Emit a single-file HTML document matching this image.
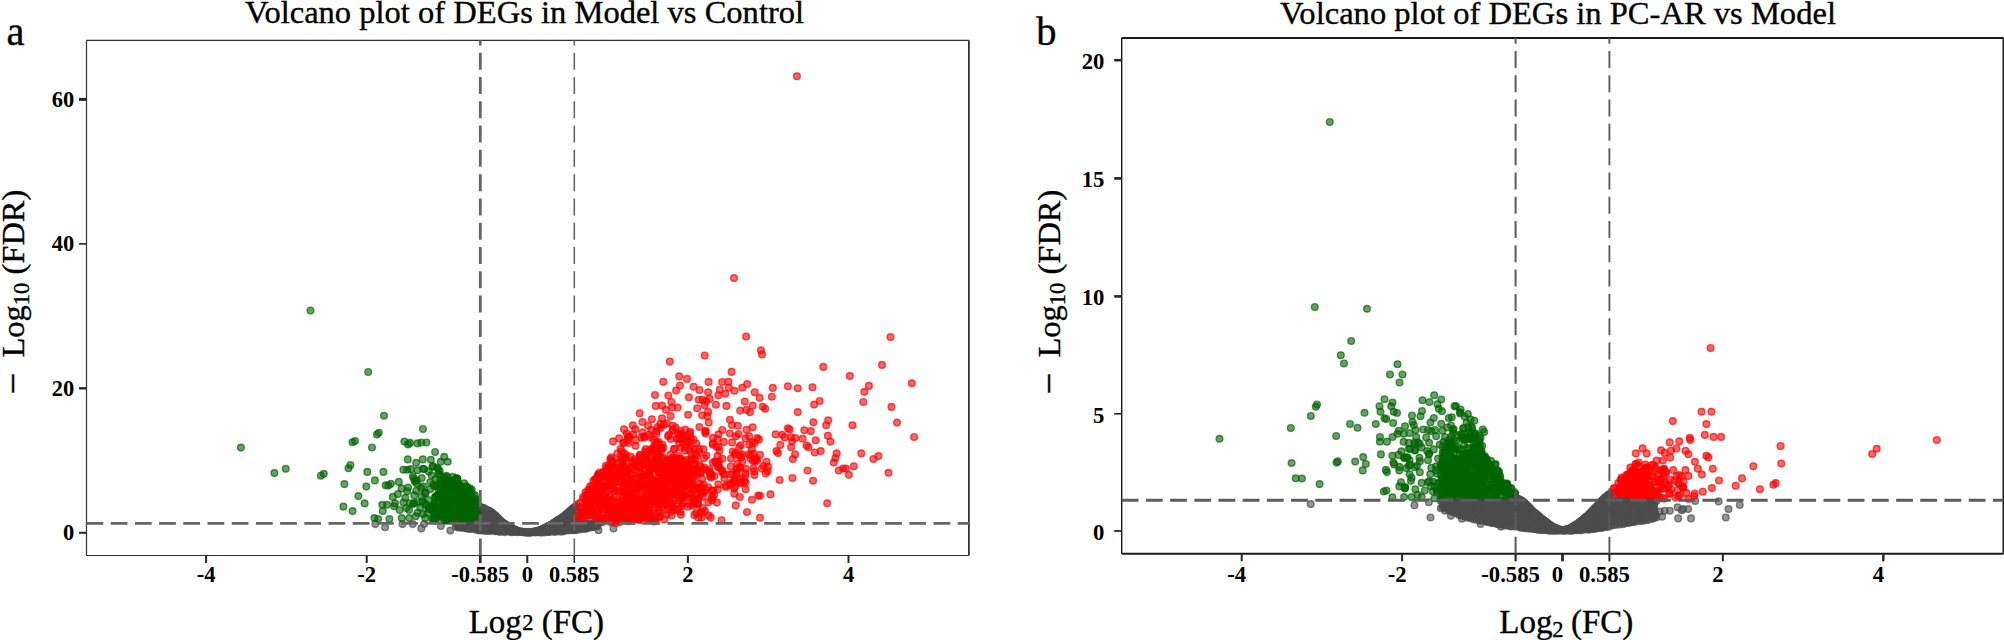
<!DOCTYPE html>
<html lang="en"><head><meta charset="utf-8"><title>Volcano plots of DEGs</title>
<style>
html,body{margin:0;padding:0;background:#fff;}
body{width:2004px;height:640px;overflow:hidden;}
svg{display:block;}
text{font-family:'Liberation Serif', serif;}
.rg{stroke:#000;stroke-width:0.35px;}
</style></head><body>
<svg width="2004" height="640" viewBox="0 0 2004 640">
<rect width="2004" height="640" fill="#fff"/>

<g id="panel-a">
<text class="rg" x="6.5" y="45" font-size="40.5">a</text>
<text class="rg" x="524.6" y="23.3" font-size="32.55" text-anchor="middle" fill="#000">Volcano plot of DEGs in Model vs Control</text>
<g fill="#4d4d4d" stroke="#4d4d4d" stroke-width="1.4" fill-opacity="0.6" stroke-opacity="0.68">
<circle cx="478.6" cy="526.0" r="3.35"/>
<circle cx="466.2" cy="526.0" r="3.35"/>
<circle cx="567.0" cy="514.3" r="3.35"/>
<circle cx="559.6" cy="522.2" r="3.35"/>
<circle cx="507.2" cy="531.3" r="3.35"/>
<circle cx="537.0" cy="531.8" r="3.35"/>
<circle cx="561.5" cy="517.9" r="3.35"/>
<circle cx="553.9" cy="528.3" r="3.35"/>
<circle cx="487.8" cy="510.2" r="3.35"/>
<circle cx="499.1" cy="526.5" r="3.35"/>
<circle cx="489.6" cy="524.0" r="3.35"/>
<circle cx="509.6" cy="527.1" r="3.35"/>
<circle cx="573.1" cy="513.5" r="3.35"/>
<circle cx="485.8" cy="517.4" r="3.35"/>
<circle cx="559.9" cy="524.3" r="3.35"/>
<circle cx="481.4" cy="507.5" r="3.35"/>
<circle cx="486.7" cy="512.1" r="3.35"/>
<circle cx="568.1" cy="517.6" r="3.35"/>
<circle cx="480.0" cy="506.8" r="3.35"/>
<circle cx="568.1" cy="516.5" r="3.35"/>
<circle cx="482.4" cy="524.0" r="3.35"/>
<circle cx="527.5" cy="532.6" r="3.35"/>
<circle cx="465.0" cy="528.1" r="3.35"/>
<circle cx="479.5" cy="523.4" r="3.35"/>
<circle cx="511.8" cy="528.1" r="3.35"/>
<circle cx="469.4" cy="524.4" r="3.35"/>
<circle cx="497.9" cy="518.2" r="3.35"/>
<circle cx="552.2" cy="524.2" r="3.35"/>
<circle cx="482.3" cy="518.6" r="3.35"/>
<circle cx="553.8" cy="529.9" r="3.35"/>
<circle cx="551.4" cy="529.3" r="3.35"/>
<circle cx="506.4" cy="524.9" r="3.35"/>
<circle cx="488.4" cy="523.9" r="3.35"/>
<circle cx="484.2" cy="524.3" r="3.35"/>
<circle cx="493.0" cy="526.4" r="3.35"/>
<circle cx="579.8" cy="523.7" r="3.35"/>
<circle cx="554.5" cy="530.0" r="3.35"/>
<circle cx="544.8" cy="527.8" r="3.35"/>
<circle cx="480.5" cy="529.8" r="3.35"/>
<circle cx="495.6" cy="515.6" r="3.35"/>
<circle cx="569.9" cy="511.2" r="3.35"/>
<circle cx="575.4" cy="506.7" r="3.35"/>
<circle cx="567.4" cy="526.9" r="3.35"/>
<circle cx="568.3" cy="525.2" r="3.35"/>
<circle cx="553.0" cy="529.5" r="3.35"/>
<circle cx="558.2" cy="519.9" r="3.35"/>
<circle cx="492.5" cy="526.3" r="3.35"/>
<circle cx="483.6" cy="511.3" r="3.35"/>
<circle cx="532.6" cy="532.2" r="3.35"/>
<circle cx="483.3" cy="514.1" r="3.35"/>
<circle cx="514.4" cy="531.2" r="3.35"/>
<circle cx="484.5" cy="508.6" r="3.35"/>
<circle cx="569.0" cy="511.9" r="3.35"/>
<circle cx="499.6" cy="522.2" r="3.35"/>
<circle cx="538.4" cy="530.5" r="3.35"/>
<circle cx="564.6" cy="527.0" r="3.35"/>
<circle cx="540.7" cy="529.9" r="3.35"/>
<circle cx="482.1" cy="529.4" r="3.35"/>
<circle cx="486.5" cy="524.1" r="3.35"/>
<circle cx="556.7" cy="530.3" r="3.35"/>
<circle cx="557.2" cy="520.5" r="3.35"/>
<circle cx="500.6" cy="520.9" r="3.35"/>
<circle cx="481.8" cy="527.4" r="3.35"/>
<circle cx="501.3" cy="527.7" r="3.35"/>
<circle cx="545.1" cy="531.5" r="3.35"/>
<circle cx="566.0" cy="529.3" r="3.35"/>
<circle cx="464.5" cy="524.4" r="3.35"/>
<circle cx="538.6" cy="531.8" r="3.35"/>
<circle cx="467.7" cy="523.5" r="3.35"/>
<circle cx="553.4" cy="531.1" r="3.35"/>
<circle cx="582.7" cy="527.2" r="3.35"/>
<circle cx="483.1" cy="521.3" r="3.35"/>
<circle cx="522.8" cy="531.9" r="3.35"/>
<circle cx="494.2" cy="530.6" r="3.35"/>
<circle cx="499.9" cy="531.9" r="3.35"/>
<circle cx="474.1" cy="526.6" r="3.35"/>
<circle cx="483.3" cy="511.3" r="3.35"/>
<circle cx="482.7" cy="524.2" r="3.35"/>
<circle cx="561.3" cy="530.3" r="3.35"/>
<circle cx="572.9" cy="508.6" r="3.35"/>
<circle cx="489.7" cy="514.5" r="3.35"/>
<circle cx="582.4" cy="528.6" r="3.35"/>
<circle cx="482.7" cy="510.0" r="3.35"/>
<circle cx="596.6" cy="526.2" r="3.35"/>
<circle cx="555.5" cy="526.1" r="3.35"/>
<circle cx="514.7" cy="529.5" r="3.35"/>
<circle cx="511.1" cy="528.8" r="3.35"/>
<circle cx="511.4" cy="532.3" r="3.35"/>
<circle cx="450.3" cy="530.6" r="3.35"/>
<circle cx="504.5" cy="524.0" r="3.35"/>
<circle cx="489.6" cy="530.8" r="3.35"/>
<circle cx="517.2" cy="530.8" r="3.35"/>
<circle cx="586.1" cy="524.6" r="3.35"/>
<circle cx="562.5" cy="520.1" r="3.35"/>
<circle cx="502.1" cy="530.7" r="3.35"/>
<circle cx="547.9" cy="526.7" r="3.35"/>
<circle cx="486.6" cy="510.0" r="3.35"/>
<circle cx="493.6" cy="514.3" r="3.35"/>
<circle cx="568.2" cy="515.9" r="3.35"/>
<circle cx="470.8" cy="523.4" r="3.35"/>
</g>
<g fill="#006400" stroke="#006400" stroke-width="1.4" fill-opacity="0.6" stroke-opacity="0.68">
<circle cx="461.1" cy="489.0" r="3.35"/>
<circle cx="469.1" cy="509.8" r="3.35"/>
<circle cx="465.4" cy="501.8" r="3.35"/>
<circle cx="437.2" cy="512.0" r="3.35"/>
<circle cx="355.0" cy="441.0" r="3.35"/>
<circle cx="442.4" cy="500.5" r="3.35"/>
<circle cx="399.7" cy="510.0" r="3.35"/>
<circle cx="477.3" cy="514.5" r="3.35"/>
<circle cx="432.1" cy="519.0" r="3.35"/>
<circle cx="449.1" cy="517.4" r="3.35"/>
<circle cx="442.5" cy="498.2" r="3.35"/>
<circle cx="410.9" cy="469.1" r="3.35"/>
<circle cx="403.4" cy="469.7" r="3.35"/>
<circle cx="474.3" cy="512.2" r="3.35"/>
<circle cx="473.1" cy="518.0" r="3.35"/>
<circle cx="385.6" cy="485.3" r="3.35"/>
<circle cx="454.5" cy="503.1" r="3.35"/>
<circle cx="471.1" cy="492.6" r="3.35"/>
<circle cx="469.5" cy="509.4" r="3.35"/>
<circle cx="446.7" cy="508.6" r="3.35"/>
<circle cx="348.5" cy="468.2" r="3.35"/>
<circle cx="467.8" cy="490.2" r="3.35"/>
<circle cx="415.7" cy="516.2" r="3.35"/>
<circle cx="435.8" cy="496.9" r="3.35"/>
<circle cx="456.9" cy="478.4" r="3.35"/>
<circle cx="457.4" cy="478.8" r="3.35"/>
<circle cx="449.6" cy="484.1" r="3.35"/>
<circle cx="441.1" cy="491.7" r="3.35"/>
<circle cx="473.5" cy="501.8" r="3.35"/>
<circle cx="449.4" cy="520.4" r="3.35"/>
<circle cx="472.3" cy="511.0" r="3.35"/>
<circle cx="449.7" cy="500.3" r="3.35"/>
<circle cx="471.7" cy="489.5" r="3.35"/>
<circle cx="451.9" cy="489.8" r="3.35"/>
<circle cx="452.7" cy="476.9" r="3.35"/>
<circle cx="446.2" cy="512.3" r="3.35"/>
<circle cx="344.4" cy="484.1" r="3.35"/>
<circle cx="470.2" cy="498.2" r="3.35"/>
<circle cx="441.1" cy="514.5" r="3.35"/>
<circle cx="446.0" cy="511.4" r="3.35"/>
<circle cx="463.8" cy="517.0" r="3.35"/>
<circle cx="442.2" cy="508.9" r="3.35"/>
<circle cx="426.5" cy="442.5" r="3.35"/>
<circle cx="421.7" cy="478.0" r="3.35"/>
<circle cx="352.5" cy="442.2" r="3.35"/>
<circle cx="352.6" cy="511.1" r="3.35"/>
<circle cx="434.4" cy="486.2" r="3.35"/>
<circle cx="434.1" cy="511.9" r="3.35"/>
<circle cx="448.5" cy="508.1" r="3.35"/>
<circle cx="427.3" cy="513.1" r="3.35"/>
<circle cx="382.3" cy="504.8" r="3.35"/>
<circle cx="417.5" cy="502.5" r="3.35"/>
<circle cx="448.7" cy="481.7" r="3.35"/>
<circle cx="450.8" cy="520.3" r="3.35"/>
<circle cx="461.4" cy="492.4" r="3.35"/>
<circle cx="447.3" cy="494.9" r="3.35"/>
<circle cx="414.2" cy="495.4" r="3.35"/>
<circle cx="320.9" cy="475.7" r="3.35"/>
<circle cx="435.4" cy="516.9" r="3.35"/>
<circle cx="433.3" cy="466.3" r="3.35"/>
<circle cx="443.8" cy="506.0" r="3.35"/>
<circle cx="468.9" cy="504.4" r="3.35"/>
<circle cx="456.6" cy="478.3" r="3.35"/>
<circle cx="466.4" cy="508.9" r="3.35"/>
<circle cx="428.4" cy="507.9" r="3.35"/>
<circle cx="446.1" cy="487.2" r="3.35"/>
<circle cx="457.0" cy="517.0" r="3.35"/>
<circle cx="372.0" cy="447.5" r="3.35"/>
<circle cx="429.3" cy="509.1" r="3.35"/>
<circle cx="439.9" cy="481.6" r="3.35"/>
<circle cx="397.8" cy="494.1" r="3.35"/>
<circle cx="439.0" cy="495.1" r="3.35"/>
<circle cx="464.3" cy="507.3" r="3.35"/>
<circle cx="436.8" cy="485.4" r="3.35"/>
<circle cx="413.0" cy="504.0" r="3.35"/>
<circle cx="462.0" cy="517.5" r="3.35"/>
<circle cx="389.4" cy="519.0" r="3.35"/>
<circle cx="424.5" cy="503.3" r="3.35"/>
<circle cx="473.1" cy="519.4" r="3.35"/>
<circle cx="444.2" cy="477.9" r="3.35"/>
<circle cx="431.2" cy="506.5" r="3.35"/>
<circle cx="466.3" cy="497.8" r="3.35"/>
<circle cx="472.6" cy="508.2" r="3.35"/>
<circle cx="374.9" cy="480.4" r="3.35"/>
<circle cx="465.0" cy="508.7" r="3.35"/>
<circle cx="462.7" cy="504.3" r="3.35"/>
<circle cx="388.4" cy="485.6" r="3.35"/>
<circle cx="438.5" cy="515.3" r="3.35"/>
<circle cx="441.6" cy="484.6" r="3.35"/>
<circle cx="448.9" cy="507.6" r="3.35"/>
<circle cx="475.7" cy="520.3" r="3.35"/>
<circle cx="452.0" cy="487.0" r="3.35"/>
<circle cx="458.4" cy="496.4" r="3.35"/>
<circle cx="457.4" cy="488.6" r="3.35"/>
<circle cx="470.6" cy="515.8" r="3.35"/>
<circle cx="414.2" cy="503.1" r="3.35"/>
<circle cx="437.2" cy="468.1" r="3.35"/>
<circle cx="466.4" cy="491.6" r="3.35"/>
<circle cx="470.5" cy="519.7" r="3.35"/>
<circle cx="448.2" cy="518.4" r="3.35"/>
<circle cx="435.1" cy="506.8" r="3.35"/>
<circle cx="462.4" cy="499.1" r="3.35"/>
<circle cx="469.3" cy="490.5" r="3.35"/>
</g>
<g fill="#ff0000" stroke="#ff0000" stroke-width="1.4" fill-opacity="0.6" stroke-opacity="0.68">
<circle cx="639.1" cy="467.5" r="3.35"/>
<circle cx="775.7" cy="434.4" r="3.35"/>
<circle cx="602.4" cy="522.2" r="3.35"/>
<circle cx="646.0" cy="483.8" r="3.35"/>
<circle cx="668.1" cy="436.3" r="3.35"/>
<circle cx="686.5" cy="465.9" r="3.35"/>
<circle cx="693.6" cy="469.3" r="3.35"/>
<circle cx="771.8" cy="396.7" r="3.35"/>
<circle cx="663.6" cy="457.8" r="3.35"/>
<circle cx="610.8" cy="478.5" r="3.35"/>
<circle cx="631.6" cy="518.9" r="3.35"/>
<circle cx="619.8" cy="522.1" r="3.35"/>
<circle cx="618.5" cy="491.9" r="3.35"/>
<circle cx="684.2" cy="496.7" r="3.35"/>
<circle cx="649.7" cy="496.8" r="3.35"/>
<circle cx="745.5" cy="438.4" r="3.35"/>
<circle cx="679.9" cy="459.1" r="3.35"/>
<circle cx="653.6" cy="466.1" r="3.35"/>
<circle cx="655.0" cy="395.0" r="3.35"/>
<circle cx="630.0" cy="511.0" r="3.35"/>
<circle cx="596.0" cy="493.7" r="3.35"/>
<circle cx="606.8" cy="475.6" r="3.35"/>
<circle cx="623.8" cy="475.7" r="3.35"/>
<circle cx="639.6" cy="518.3" r="3.35"/>
<circle cx="645.8" cy="449.1" r="3.35"/>
<circle cx="627.4" cy="481.8" r="3.35"/>
<circle cx="625.1" cy="482.5" r="3.35"/>
<circle cx="666.9" cy="499.3" r="3.35"/>
<circle cx="610.0" cy="478.7" r="3.35"/>
<circle cx="674.1" cy="500.6" r="3.35"/>
<circle cx="610.4" cy="488.8" r="3.35"/>
<circle cx="740.7" cy="478.7" r="3.35"/>
<circle cx="632.7" cy="475.0" r="3.35"/>
<circle cx="617.9" cy="509.9" r="3.35"/>
<circle cx="618.1" cy="500.0" r="3.35"/>
<circle cx="671.4" cy="402.0" r="3.35"/>
<circle cx="647.3" cy="498.8" r="3.35"/>
<circle cx="622.7" cy="491.5" r="3.35"/>
<circle cx="586.1" cy="495.3" r="3.35"/>
<circle cx="680.7" cy="479.8" r="3.35"/>
<circle cx="643.5" cy="507.5" r="3.35"/>
<circle cx="888.5" cy="472.8" r="3.35"/>
<circle cx="576.4" cy="520.4" r="3.35"/>
<circle cx="812.5" cy="387.2" r="3.35"/>
<circle cx="623.6" cy="498.3" r="3.35"/>
<circle cx="623.1" cy="443.1" r="3.35"/>
<circle cx="616.8" cy="506.6" r="3.35"/>
<circle cx="677.7" cy="407.5" r="3.35"/>
<circle cx="736.8" cy="473.4" r="3.35"/>
<circle cx="599.5" cy="476.5" r="3.35"/>
<circle cx="730.7" cy="466.5" r="3.35"/>
<circle cx="597.0" cy="480.1" r="3.35"/>
<circle cx="630.6" cy="494.8" r="3.35"/>
<circle cx="823.3" cy="366.9" r="3.35"/>
<circle cx="645.7" cy="503.6" r="3.35"/>
<circle cx="746.5" cy="429.8" r="3.35"/>
<circle cx="651.9" cy="462.8" r="3.35"/>
<circle cx="682.0" cy="496.9" r="3.35"/>
<circle cx="649.0" cy="517.8" r="3.35"/>
<circle cx="580.9" cy="508.5" r="3.35"/>
<circle cx="643.2" cy="508.8" r="3.35"/>
<circle cx="673.6" cy="473.1" r="3.35"/>
<circle cx="646.7" cy="453.3" r="3.35"/>
<circle cx="688.1" cy="414.8" r="3.35"/>
<circle cx="649.7" cy="475.1" r="3.35"/>
<circle cx="723.9" cy="441.9" r="3.35"/>
<circle cx="873.4" cy="459.0" r="3.35"/>
<circle cx="645.4" cy="497.2" r="3.35"/>
<circle cx="673.4" cy="480.2" r="3.35"/>
<circle cx="638.3" cy="466.1" r="3.35"/>
<circle cx="708.1" cy="392.2" r="3.35"/>
<circle cx="698.8" cy="399.7" r="3.35"/>
<circle cx="628.6" cy="443.0" r="3.35"/>
<circle cx="722.4" cy="458.7" r="3.35"/>
<circle cx="639.1" cy="519.6" r="3.35"/>
<circle cx="634.8" cy="464.9" r="3.35"/>
<circle cx="622.9" cy="480.4" r="3.35"/>
<circle cx="643.2" cy="485.9" r="3.35"/>
<circle cx="605.1" cy="495.3" r="3.35"/>
<circle cx="648.5" cy="509.7" r="3.35"/>
<circle cx="590.3" cy="489.6" r="3.35"/>
<circle cx="597.0" cy="522.0" r="3.35"/>
<circle cx="672.9" cy="493.4" r="3.35"/>
<circle cx="702.8" cy="496.9" r="3.35"/>
<circle cx="636.6" cy="500.9" r="3.35"/>
<circle cx="760.9" cy="350.3" r="3.35"/>
<circle cx="676.8" cy="438.7" r="3.35"/>
<circle cx="682.2" cy="482.9" r="3.35"/>
<circle cx="683.4" cy="436.2" r="3.35"/>
<circle cx="616.0" cy="501.7" r="3.35"/>
<circle cx="754.6" cy="443.0" r="3.35"/>
<circle cx="740.8" cy="445.2" r="3.35"/>
<circle cx="617.8" cy="517.6" r="3.35"/>
<circle cx="645.0" cy="460.1" r="3.35"/>
<circle cx="698.3" cy="517.6" r="3.35"/>
<circle cx="611.4" cy="522.5" r="3.35"/>
<circle cx="651.4" cy="450.1" r="3.35"/>
<circle cx="678.5" cy="509.1" r="3.35"/>
<circle cx="648.8" cy="485.1" r="3.35"/>
<circle cx="742.2" cy="454.6" r="3.35"/>
<circle cx="630.5" cy="503.1" r="3.35"/>
<circle cx="589.0" cy="512.8" r="3.35"/>
<circle cx="674.4" cy="461.6" r="3.35"/>
<circle cx="713.4" cy="490.8" r="3.35"/>
<circle cx="601.0" cy="489.2" r="3.35"/>
<circle cx="605.5" cy="487.0" r="3.35"/>
<circle cx="745.6" cy="489.2" r="3.35"/>
<circle cx="592.8" cy="495.6" r="3.35"/>
<circle cx="591.3" cy="512.9" r="3.35"/>
<circle cx="631.6" cy="509.6" r="3.35"/>
<circle cx="590.4" cy="503.7" r="3.35"/>
<circle cx="645.9" cy="497.3" r="3.35"/>
<circle cx="589.9" cy="503.9" r="3.35"/>
<circle cx="626.7" cy="433.5" r="3.35"/>
<circle cx="706.0" cy="490.2" r="3.35"/>
<circle cx="627.9" cy="520.0" r="3.35"/>
<circle cx="638.0" cy="482.8" r="3.35"/>
<circle cx="633.2" cy="434.4" r="3.35"/>
<circle cx="635.5" cy="515.5" r="3.35"/>
<circle cx="653.1" cy="481.4" r="3.35"/>
<circle cx="703.4" cy="469.5" r="3.35"/>
<circle cx="636.1" cy="491.3" r="3.35"/>
<circle cx="655.2" cy="459.8" r="3.35"/>
<circle cx="655.2" cy="495.0" r="3.35"/>
<circle cx="699.5" cy="390.0" r="3.35"/>
<circle cx="621.4" cy="460.7" r="3.35"/>
<circle cx="752.8" cy="460.9" r="3.35"/>
<circle cx="585.5" cy="492.3" r="3.35"/>
<circle cx="615.6" cy="491.0" r="3.35"/>
<circle cx="681.3" cy="461.0" r="3.35"/>
<circle cx="597.3" cy="487.5" r="3.35"/>
<circle cx="605.7" cy="486.2" r="3.35"/>
<circle cx="726.0" cy="486.9" r="3.35"/>
<circle cx="684.0" cy="460.7" r="3.35"/>
<circle cx="608.2" cy="507.2" r="3.35"/>
<circle cx="627.6" cy="472.3" r="3.35"/>
<circle cx="673.5" cy="462.0" r="3.35"/>
<circle cx="674.0" cy="478.4" r="3.35"/>
<circle cx="586.3" cy="502.0" r="3.35"/>
<circle cx="655.1" cy="490.4" r="3.35"/>
<circle cx="806.6" cy="445.6" r="3.35"/>
<circle cx="608.1" cy="467.3" r="3.35"/>
<circle cx="672.8" cy="507.8" r="3.35"/>
<circle cx="686.4" cy="489.5" r="3.35"/>
<circle cx="676.2" cy="510.2" r="3.35"/>
<circle cx="853.8" cy="466.2" r="3.35"/>
<circle cx="730.2" cy="484.7" r="3.35"/>
<circle cx="708.1" cy="487.4" r="3.35"/>
<circle cx="665.4" cy="496.1" r="3.35"/>
<circle cx="670.4" cy="467.6" r="3.35"/>
<circle cx="673.0" cy="429.5" r="3.35"/>
<circle cx="660.3" cy="473.5" r="3.35"/>
<circle cx="595.4" cy="499.7" r="3.35"/>
<circle cx="890.5" cy="337.0" r="3.35"/>
<circle cx="753.5" cy="468.3" r="3.35"/>
<circle cx="668.7" cy="434.8" r="3.35"/>
<circle cx="687.8" cy="466.8" r="3.35"/>
<circle cx="696.2" cy="513.0" r="3.35"/>
<circle cx="683.3" cy="477.9" r="3.35"/>
<circle cx="654.7" cy="495.5" r="3.35"/>
<circle cx="635.0" cy="500.6" r="3.35"/>
<circle cx="660.6" cy="480.9" r="3.35"/>
<circle cx="642.5" cy="422.1" r="3.35"/>
<circle cx="623.1" cy="485.6" r="3.35"/>
<circle cx="597.0" cy="510.0" r="3.35"/>
<circle cx="787.9" cy="386.2" r="3.35"/>
<circle cx="611.8" cy="500.2" r="3.35"/>
<circle cx="689.4" cy="450.7" r="3.35"/>
<circle cx="648.7" cy="492.3" r="3.35"/>
<circle cx="621.4" cy="515.2" r="3.35"/>
<circle cx="616.6" cy="468.2" r="3.35"/>
<circle cx="670.4" cy="496.3" r="3.35"/>
<circle cx="702.2" cy="478.9" r="3.35"/>
<circle cx="646.4" cy="480.3" r="3.35"/>
<circle cx="625.4" cy="467.2" r="3.35"/>
<circle cx="610.1" cy="496.3" r="3.35"/>
<circle cx="641.3" cy="437.8" r="3.35"/>
<circle cx="657.3" cy="468.7" r="3.35"/>
<circle cx="624.7" cy="466.0" r="3.35"/>
<circle cx="678.1" cy="497.7" r="3.35"/>
<circle cx="745.6" cy="482.5" r="3.35"/>
<circle cx="627.1" cy="483.4" r="3.35"/>
<circle cx="705.6" cy="433.5" r="3.35"/>
<circle cx="772.8" cy="387.9" r="3.35"/>
<circle cx="610.8" cy="507.9" r="3.35"/>
<circle cx="639.6" cy="455.6" r="3.35"/>
<circle cx="703.6" cy="484.8" r="3.35"/>
<circle cx="658.5" cy="441.8" r="3.35"/>
<circle cx="634.9" cy="506.8" r="3.35"/>
<circle cx="671.6" cy="515.5" r="3.35"/>
<circle cx="612.4" cy="464.3" r="3.35"/>
<circle cx="830.5" cy="441.6" r="3.35"/>
<circle cx="703.0" cy="508.0" r="3.35"/>
<circle cx="682.2" cy="470.8" r="3.35"/>
<circle cx="691.4" cy="483.9" r="3.35"/>
<circle cx="614.1" cy="514.5" r="3.35"/>
<circle cx="642.4" cy="432.3" r="3.35"/>
<circle cx="613.1" cy="441.4" r="3.35"/>
<circle cx="607.8" cy="499.9" r="3.35"/>
<circle cx="739.9" cy="497.0" r="3.35"/>
<circle cx="628.9" cy="436.7" r="3.35"/>
<circle cx="608.2" cy="485.8" r="3.35"/>
<circle cx="665.4" cy="483.6" r="3.35"/>
<circle cx="625.1" cy="471.3" r="3.35"/>
<circle cx="760.0" cy="517.7" r="3.35"/>
<circle cx="575.5" cy="512.1" r="3.35"/>
<circle cx="581.3" cy="511.3" r="3.35"/>
<circle cx="626.4" cy="469.2" r="3.35"/>
<circle cx="677.9" cy="471.0" r="3.35"/>
<circle cx="616.3" cy="473.4" r="3.35"/>
<circle cx="643.0" cy="486.0" r="3.35"/>
<circle cx="722.2" cy="382.0" r="3.35"/>
<circle cx="627.2" cy="440.5" r="3.35"/>
<circle cx="675.7" cy="427.6" r="3.35"/>
<circle cx="657.6" cy="427.0" r="3.35"/>
<circle cx="813.1" cy="480.7" r="3.35"/>
<circle cx="658.0" cy="472.1" r="3.35"/>
<circle cx="778.0" cy="453.1" r="3.35"/>
<circle cx="714.4" cy="476.0" r="3.35"/>
<circle cx="614.3" cy="493.9" r="3.35"/>
<circle cx="673.1" cy="485.7" r="3.35"/>
<circle cx="679.4" cy="464.5" r="3.35"/>
<circle cx="708.4" cy="502.3" r="3.35"/>
<circle cx="619.4" cy="505.8" r="3.35"/>
<circle cx="654.4" cy="501.6" r="3.35"/>
<circle cx="682.3" cy="492.9" r="3.35"/>
<circle cx="730.0" cy="419.7" r="3.35"/>
<circle cx="640.5" cy="473.9" r="3.35"/>
<circle cx="615.8" cy="509.8" r="3.35"/>
<circle cx="623.8" cy="453.2" r="3.35"/>
<circle cx="654.3" cy="464.7" r="3.35"/>
<circle cx="768.2" cy="466.9" r="3.35"/>
<circle cx="578.3" cy="516.6" r="3.35"/>
<circle cx="603.9" cy="503.6" r="3.35"/>
<circle cx="668.9" cy="485.8" r="3.35"/>
<circle cx="600.8" cy="521.5" r="3.35"/>
<circle cx="685.0" cy="496.3" r="3.35"/>
<circle cx="738.6" cy="434.0" r="3.35"/>
<circle cx="699.6" cy="483.8" r="3.35"/>
<circle cx="663.6" cy="482.6" r="3.35"/>
<circle cx="630.6" cy="513.3" r="3.35"/>
<circle cx="791.1" cy="437.0" r="3.35"/>
<circle cx="796.9" cy="76.3" r="3.35"/>
<circle cx="735.2" cy="455.0" r="3.35"/>
<circle cx="700.7" cy="490.6" r="3.35"/>
<circle cx="911.8" cy="383.3" r="3.35"/>
<circle cx="678.1" cy="503.4" r="3.35"/>
<circle cx="610.1" cy="475.6" r="3.35"/>
<circle cx="621.0" cy="515.2" r="3.35"/>
<circle cx="601.4" cy="487.7" r="3.35"/>
<circle cx="672.2" cy="407.5" r="3.35"/>
<circle cx="623.9" cy="457.5" r="3.35"/>
<circle cx="655.7" cy="521.0" r="3.35"/>
<circle cx="652.3" cy="478.2" r="3.35"/>
<circle cx="673.0" cy="508.4" r="3.35"/>
<circle cx="680.0" cy="484.4" r="3.35"/>
<circle cx="711.8" cy="474.6" r="3.35"/>
<circle cx="682.0" cy="505.2" r="3.35"/>
<circle cx="639.9" cy="472.7" r="3.35"/>
<circle cx="661.9" cy="448.6" r="3.35"/>
<circle cx="704.0" cy="458.1" r="3.35"/>
<circle cx="667.2" cy="464.8" r="3.35"/>
<circle cx="616.0" cy="504.3" r="3.35"/>
<circle cx="671.7" cy="503.2" r="3.35"/>
<circle cx="734.4" cy="390.8" r="3.35"/>
<circle cx="656.4" cy="489.3" r="3.35"/>
<circle cx="636.7" cy="497.7" r="3.35"/>
<circle cx="599.6" cy="472.6" r="3.35"/>
<circle cx="698.8" cy="498.2" r="3.35"/>
<circle cx="646.1" cy="475.2" r="3.35"/>
<circle cx="686.7" cy="470.9" r="3.35"/>
<circle cx="693.8" cy="490.0" r="3.35"/>
<circle cx="602.5" cy="476.0" r="3.35"/>
<circle cx="746.4" cy="409.8" r="3.35"/>
<circle cx="661.7" cy="504.2" r="3.35"/>
<circle cx="735.7" cy="505.4" r="3.35"/>
<circle cx="740.2" cy="410.6" r="3.35"/>
<circle cx="590.1" cy="486.2" r="3.35"/>
<circle cx="878.4" cy="456.1" r="3.35"/>
<circle cx="628.0" cy="436.8" r="3.35"/>
<circle cx="754.7" cy="392.2" r="3.35"/>
<circle cx="704.7" cy="405.2" r="3.35"/>
<circle cx="693.1" cy="486.3" r="3.35"/>
<circle cx="667.2" cy="464.7" r="3.35"/>
<circle cx="657.0" cy="457.9" r="3.35"/>
<circle cx="595.4" cy="522.6" r="3.35"/>
<circle cx="640.0" cy="454.7" r="3.35"/>
<circle cx="620.4" cy="518.3" r="3.35"/>
<circle cx="643.6" cy="475.2" r="3.35"/>
<circle cx="658.6" cy="504.7" r="3.35"/>
<circle cx="751.9" cy="499.8" r="3.35"/>
<circle cx="694.6" cy="463.3" r="3.35"/>
<circle cx="609.0" cy="475.8" r="3.35"/>
</g>
<g fill="#4d4d4d" stroke="#4d4d4d" stroke-width="1.4" fill-opacity="0.6" stroke-opacity="0.68">
<circle cx="472.5" cy="524.2" r="3.35"/>
<circle cx="571.4" cy="522.8" r="3.35"/>
<circle cx="469.4" cy="528.4" r="3.35"/>
<circle cx="571.6" cy="526.3" r="3.35"/>
<circle cx="458.3" cy="526.5" r="3.35"/>
<circle cx="566.4" cy="514.4" r="3.35"/>
<circle cx="551.8" cy="529.7" r="3.35"/>
<circle cx="564.8" cy="522.2" r="3.35"/>
<circle cx="458.7" cy="523.7" r="3.35"/>
<circle cx="502.6" cy="522.5" r="3.35"/>
<circle cx="593.4" cy="526.8" r="3.35"/>
<circle cx="487.0" cy="518.0" r="3.35"/>
<circle cx="529.9" cy="532.4" r="3.35"/>
<circle cx="583.3" cy="525.8" r="3.35"/>
<circle cx="512.6" cy="528.8" r="3.35"/>
<circle cx="542.7" cy="529.1" r="3.35"/>
<circle cx="464.4" cy="523.8" r="3.35"/>
<circle cx="485.2" cy="509.4" r="3.35"/>
<circle cx="564.0" cy="524.7" r="3.35"/>
<circle cx="468.8" cy="528.6" r="3.35"/>
<circle cx="575.6" cy="525.7" r="3.35"/>
<circle cx="555.2" cy="531.9" r="3.35"/>
<circle cx="568.2" cy="517.2" r="3.35"/>
<circle cx="565.1" cy="515.2" r="3.35"/>
<circle cx="483.4" cy="508.1" r="3.35"/>
<circle cx="478.2" cy="530.2" r="3.35"/>
<circle cx="490.5" cy="529.0" r="3.35"/>
<circle cx="547.9" cy="531.7" r="3.35"/>
<circle cx="551.5" cy="524.5" r="3.35"/>
<circle cx="573.3" cy="530.2" r="3.35"/>
<circle cx="461.6" cy="523.8" r="3.35"/>
<circle cx="586.0" cy="526.1" r="3.35"/>
<circle cx="535.8" cy="531.4" r="3.35"/>
<circle cx="526.3" cy="531.8" r="3.35"/>
<circle cx="559.2" cy="519.5" r="3.35"/>
<circle cx="497.5" cy="521.7" r="3.35"/>
<circle cx="480.8" cy="514.6" r="3.35"/>
<circle cx="512.4" cy="531.3" r="3.35"/>
<circle cx="546.1" cy="527.3" r="3.35"/>
<circle cx="549.1" cy="531.6" r="3.35"/>
<circle cx="510.5" cy="527.6" r="3.35"/>
<circle cx="613.5" cy="528.4" r="3.35"/>
<circle cx="576.0" cy="530.2" r="3.35"/>
<circle cx="497.7" cy="531.0" r="3.35"/>
<circle cx="481.6" cy="521.1" r="3.35"/>
<circle cx="565.4" cy="521.2" r="3.35"/>
<circle cx="478.6" cy="527.7" r="3.35"/>
<circle cx="598.0" cy="523.4" r="3.35"/>
<circle cx="492.2" cy="515.6" r="3.35"/>
<circle cx="572.2" cy="523.9" r="3.35"/>
<circle cx="554.1" cy="527.6" r="3.35"/>
<circle cx="567.3" cy="522.1" r="3.35"/>
<circle cx="496.6" cy="520.0" r="3.35"/>
<circle cx="518.2" cy="530.8" r="3.35"/>
<circle cx="569.4" cy="520.9" r="3.35"/>
<circle cx="565.9" cy="530.3" r="3.35"/>
<circle cx="566.2" cy="518.9" r="3.35"/>
<circle cx="502.3" cy="531.3" r="3.35"/>
<circle cx="577.6" cy="529.3" r="3.35"/>
<circle cx="490.9" cy="529.2" r="3.35"/>
<circle cx="552.9" cy="524.7" r="3.35"/>
<circle cx="553.3" cy="523.1" r="3.35"/>
<circle cx="456.0" cy="526.7" r="3.35"/>
<circle cx="582.9" cy="523.7" r="3.35"/>
<circle cx="573.0" cy="528.1" r="3.35"/>
<circle cx="541.6" cy="529.5" r="3.35"/>
<circle cx="519.7" cy="531.7" r="3.35"/>
<circle cx="548.2" cy="526.3" r="3.35"/>
<circle cx="539.7" cy="530.3" r="3.35"/>
<circle cx="568.0" cy="513.0" r="3.35"/>
<circle cx="576.2" cy="526.8" r="3.35"/>
<circle cx="481.9" cy="525.3" r="3.35"/>
<circle cx="570.1" cy="513.0" r="3.35"/>
<circle cx="483.3" cy="524.1" r="3.35"/>
<circle cx="580.0" cy="524.9" r="3.35"/>
<circle cx="537.4" cy="531.1" r="3.35"/>
<circle cx="575.3" cy="529.2" r="3.35"/>
<circle cx="473.4" cy="523.4" r="3.35"/>
<circle cx="547.3" cy="526.8" r="3.35"/>
<circle cx="575.3" cy="527.5" r="3.35"/>
<circle cx="498.8" cy="519.1" r="3.35"/>
<circle cx="557.3" cy="531.0" r="3.35"/>
<circle cx="481.7" cy="529.4" r="3.35"/>
<circle cx="559.5" cy="525.8" r="3.35"/>
<circle cx="495.0" cy="521.7" r="3.35"/>
<circle cx="533.1" cy="532.0" r="3.35"/>
<circle cx="525.0" cy="532.5" r="3.35"/>
<circle cx="467.8" cy="525.9" r="3.35"/>
<circle cx="475.5" cy="529.5" r="3.35"/>
<circle cx="594.8" cy="524.2" r="3.35"/>
<circle cx="560.0" cy="523.8" r="3.35"/>
<circle cx="548.7" cy="531.8" r="3.35"/>
<circle cx="585.9" cy="523.7" r="3.35"/>
<circle cx="497.9" cy="530.2" r="3.35"/>
<circle cx="460.8" cy="525.3" r="3.35"/>
<circle cx="541.8" cy="532.5" r="3.35"/>
<circle cx="530.8" cy="532.5" r="3.35"/>
<circle cx="572.7" cy="511.5" r="3.35"/>
<circle cx="564.5" cy="522.6" r="3.35"/>
<circle cx="598.5" cy="530.3" r="3.35"/>
</g>
<g fill="#006400" stroke="#006400" stroke-width="1.4" fill-opacity="0.6" stroke-opacity="0.68">
<circle cx="465.6" cy="502.7" r="3.35"/>
<circle cx="462.3" cy="509.5" r="3.35"/>
<circle cx="476.6" cy="516.2" r="3.35"/>
<circle cx="421.3" cy="442.5" r="3.35"/>
<circle cx="452.0" cy="497.3" r="3.35"/>
<circle cx="441.5" cy="516.3" r="3.35"/>
<circle cx="462.0" cy="518.4" r="3.35"/>
<circle cx="441.9" cy="501.0" r="3.35"/>
<circle cx="417.5" cy="470.3" r="3.35"/>
<circle cx="471.0" cy="501.2" r="3.35"/>
<circle cx="474.2" cy="511.0" r="3.35"/>
<circle cx="453.6" cy="498.8" r="3.35"/>
<circle cx="471.4" cy="512.6" r="3.35"/>
<circle cx="472.2" cy="516.3" r="3.35"/>
<circle cx="417.5" cy="443.4" r="3.35"/>
<circle cx="444.5" cy="482.0" r="3.35"/>
<circle cx="462.0" cy="505.5" r="3.35"/>
<circle cx="467.8" cy="518.5" r="3.35"/>
<circle cx="449.4" cy="487.4" r="3.35"/>
<circle cx="412.8" cy="476.3" r="3.35"/>
<circle cx="447.4" cy="483.8" r="3.35"/>
<circle cx="455.3" cy="518.3" r="3.35"/>
<circle cx="422.4" cy="501.3" r="3.35"/>
<circle cx="465.2" cy="517.7" r="3.35"/>
<circle cx="460.5" cy="488.6" r="3.35"/>
<circle cx="457.4" cy="480.6" r="3.35"/>
<circle cx="453.1" cy="480.3" r="3.35"/>
<circle cx="408.1" cy="444.4" r="3.35"/>
<circle cx="453.0" cy="501.8" r="3.35"/>
<circle cx="447.7" cy="461.8" r="3.35"/>
<circle cx="434.2" cy="505.8" r="3.35"/>
<circle cx="444.0" cy="520.0" r="3.35"/>
<circle cx="476.4" cy="509.9" r="3.35"/>
<circle cx="433.8" cy="507.2" r="3.35"/>
<circle cx="469.7" cy="504.0" r="3.35"/>
<circle cx="387.1" cy="504.8" r="3.35"/>
<circle cx="476.7" cy="506.7" r="3.35"/>
<circle cx="407.8" cy="459.4" r="3.35"/>
<circle cx="368.2" cy="372.0" r="3.35"/>
<circle cx="438.0" cy="510.5" r="3.35"/>
<circle cx="448.3" cy="503.5" r="3.35"/>
<circle cx="458.5" cy="495.1" r="3.35"/>
<circle cx="450.4" cy="513.2" r="3.35"/>
<circle cx="464.3" cy="483.3" r="3.35"/>
<circle cx="456.5" cy="498.9" r="3.35"/>
<circle cx="433.3" cy="518.5" r="3.35"/>
<circle cx="440.1" cy="514.9" r="3.35"/>
<circle cx="457.5" cy="516.5" r="3.35"/>
<circle cx="350.4" cy="465.0" r="3.35"/>
<circle cx="455.3" cy="515.4" r="3.35"/>
<circle cx="453.6" cy="482.0" r="3.35"/>
<circle cx="462.3" cy="490.0" r="3.35"/>
<circle cx="467.4" cy="490.2" r="3.35"/>
<circle cx="466.9" cy="516.1" r="3.35"/>
<circle cx="453.7" cy="499.4" r="3.35"/>
<circle cx="438.6" cy="516.5" r="3.35"/>
<circle cx="468.2" cy="501.5" r="3.35"/>
<circle cx="398.8" cy="481.9" r="3.35"/>
<circle cx="442.0" cy="493.5" r="3.35"/>
<circle cx="377.0" cy="434.5" r="3.35"/>
<circle cx="437.8" cy="511.2" r="3.35"/>
<circle cx="446.6" cy="519.0" r="3.35"/>
<circle cx="445.2" cy="505.7" r="3.35"/>
<circle cx="410.0" cy="442.9" r="3.35"/>
<circle cx="464.6" cy="513.4" r="3.35"/>
<circle cx="446.0" cy="508.1" r="3.35"/>
<circle cx="434.3" cy="511.3" r="3.35"/>
<circle cx="473.0" cy="495.7" r="3.35"/>
<circle cx="383.4" cy="471.9" r="3.35"/>
<circle cx="469.9" cy="510.6" r="3.35"/>
<circle cx="455.6" cy="511.3" r="3.35"/>
<circle cx="468.8" cy="500.8" r="3.35"/>
<circle cx="456.5" cy="499.3" r="3.35"/>
<circle cx="457.3" cy="488.4" r="3.35"/>
<circle cx="453.5" cy="483.3" r="3.35"/>
<circle cx="451.5" cy="500.0" r="3.35"/>
<circle cx="445.0" cy="504.7" r="3.35"/>
<circle cx="451.0" cy="508.0" r="3.35"/>
<circle cx="439.0" cy="514.0" r="3.35"/>
<circle cx="454.7" cy="505.3" r="3.35"/>
<circle cx="456.0" cy="481.2" r="3.35"/>
<circle cx="443.9" cy="488.4" r="3.35"/>
<circle cx="434.5" cy="503.5" r="3.35"/>
<circle cx="433.6" cy="506.9" r="3.35"/>
<circle cx="451.7" cy="488.3" r="3.35"/>
<circle cx="444.2" cy="456.9" r="3.35"/>
<circle cx="461.1" cy="510.4" r="3.35"/>
<circle cx="476.0" cy="508.4" r="3.35"/>
<circle cx="414.8" cy="481.5" r="3.35"/>
<circle cx="472.3" cy="504.5" r="3.35"/>
<circle cx="421.7" cy="496.3" r="3.35"/>
<circle cx="453.6" cy="513.0" r="3.35"/>
<circle cx="454.7" cy="490.9" r="3.35"/>
<circle cx="390.9" cy="483.8" r="3.35"/>
<circle cx="438.0" cy="510.8" r="3.35"/>
<circle cx="474.7" cy="515.9" r="3.35"/>
<circle cx="454.1" cy="494.4" r="3.35"/>
<circle cx="473.8" cy="500.5" r="3.35"/>
<circle cx="459.2" cy="484.9" r="3.35"/>
<circle cx="274.4" cy="473.1" r="3.35"/>
<circle cx="434.8" cy="518.5" r="3.35"/>
<circle cx="410.1" cy="503.2" r="3.35"/>
<circle cx="443.2" cy="501.2" r="3.35"/>
</g>
<g fill="#ff0000" stroke="#ff0000" stroke-width="1.4" fill-opacity="0.6" stroke-opacity="0.68">
<circle cx="706.1" cy="401.2" r="3.35"/>
<circle cx="715.1" cy="461.3" r="3.35"/>
<circle cx="603.0" cy="501.6" r="3.35"/>
<circle cx="622.7" cy="517.0" r="3.35"/>
<circle cx="674.8" cy="469.9" r="3.35"/>
<circle cx="636.6" cy="493.9" r="3.35"/>
<circle cx="678.0" cy="458.2" r="3.35"/>
<circle cx="675.2" cy="487.1" r="3.35"/>
<circle cx="608.3" cy="508.7" r="3.35"/>
<circle cx="712.7" cy="497.6" r="3.35"/>
<circle cx="590.4" cy="506.3" r="3.35"/>
<circle cx="643.1" cy="520.6" r="3.35"/>
<circle cx="689.9" cy="433.5" r="3.35"/>
<circle cx="662.0" cy="492.3" r="3.35"/>
<circle cx="599.1" cy="479.3" r="3.35"/>
<circle cx="676.7" cy="472.1" r="3.35"/>
<circle cx="653.6" cy="480.7" r="3.35"/>
<circle cx="729.9" cy="433.5" r="3.35"/>
<circle cx="667.8" cy="465.2" r="3.35"/>
<circle cx="649.0" cy="434.7" r="3.35"/>
<circle cx="674.1" cy="448.9" r="3.35"/>
<circle cx="688.8" cy="442.4" r="3.35"/>
<circle cx="744.4" cy="481.3" r="3.35"/>
<circle cx="792.1" cy="441.3" r="3.35"/>
<circle cx="897.0" cy="422.6" r="3.35"/>
<circle cx="624.9" cy="458.7" r="3.35"/>
<circle cx="628.2" cy="497.6" r="3.35"/>
<circle cx="804.3" cy="430.2" r="3.35"/>
<circle cx="676.5" cy="477.7" r="3.35"/>
<circle cx="651.5" cy="487.2" r="3.35"/>
<circle cx="593.4" cy="480.8" r="3.35"/>
<circle cx="672.4" cy="492.9" r="3.35"/>
<circle cx="758.2" cy="495.6" r="3.35"/>
<circle cx="654.0" cy="463.7" r="3.35"/>
<circle cx="601.0" cy="504.8" r="3.35"/>
<circle cx="626.5" cy="496.9" r="3.35"/>
<circle cx="657.4" cy="458.0" r="3.35"/>
<circle cx="665.2" cy="487.8" r="3.35"/>
<circle cx="639.5" cy="457.7" r="3.35"/>
<circle cx="672.8" cy="511.1" r="3.35"/>
<circle cx="657.0" cy="452.3" r="3.35"/>
<circle cx="652.9" cy="447.8" r="3.35"/>
<circle cx="599.1" cy="503.3" r="3.35"/>
<circle cx="668.0" cy="476.7" r="3.35"/>
<circle cx="734.3" cy="493.7" r="3.35"/>
<circle cx="635.8" cy="511.0" r="3.35"/>
<circle cx="639.0" cy="485.2" r="3.35"/>
<circle cx="702.7" cy="399.7" r="3.35"/>
<circle cx="618.1" cy="516.0" r="3.35"/>
<circle cx="721.7" cy="471.7" r="3.35"/>
<circle cx="654.4" cy="446.1" r="3.35"/>
<circle cx="659.9" cy="501.4" r="3.35"/>
<circle cx="659.0" cy="457.9" r="3.35"/>
<circle cx="705.7" cy="430.8" r="3.35"/>
<circle cx="632.4" cy="493.2" r="3.35"/>
<circle cx="864.3" cy="391.8" r="3.35"/>
<circle cx="631.2" cy="505.4" r="3.35"/>
<circle cx="646.7" cy="494.0" r="3.35"/>
<circle cx="692.2" cy="479.3" r="3.35"/>
<circle cx="705.0" cy="511.1" r="3.35"/>
<circle cx="637.0" cy="486.5" r="3.35"/>
<circle cx="681.0" cy="474.0" r="3.35"/>
<circle cx="627.2" cy="506.8" r="3.35"/>
<circle cx="589.1" cy="514.1" r="3.35"/>
<circle cx="678.0" cy="486.5" r="3.35"/>
<circle cx="680.0" cy="465.4" r="3.35"/>
<circle cx="659.3" cy="445.0" r="3.35"/>
<circle cx="617.1" cy="512.5" r="3.35"/>
<circle cx="656.1" cy="492.7" r="3.35"/>
<circle cx="586.1" cy="495.2" r="3.35"/>
<circle cx="724.3" cy="478.3" r="3.35"/>
<circle cx="590.7" cy="505.3" r="3.35"/>
<circle cx="689.8" cy="467.4" r="3.35"/>
<circle cx="708.7" cy="422.5" r="3.35"/>
<circle cx="644.6" cy="498.9" r="3.35"/>
<circle cx="657.7" cy="484.0" r="3.35"/>
<circle cx="663.6" cy="506.5" r="3.35"/>
<circle cx="827.2" cy="503.3" r="3.35"/>
<circle cx="719.5" cy="450.9" r="3.35"/>
<circle cx="683.7" cy="482.8" r="3.35"/>
<circle cx="628.4" cy="521.2" r="3.35"/>
<circle cx="610.6" cy="476.1" r="3.35"/>
<circle cx="660.3" cy="481.4" r="3.35"/>
<circle cx="651.9" cy="419.2" r="3.35"/>
<circle cx="620.5" cy="457.0" r="3.35"/>
<circle cx="663.8" cy="467.9" r="3.35"/>
<circle cx="664.5" cy="475.2" r="3.35"/>
<circle cx="649.0" cy="498.7" r="3.35"/>
<circle cx="628.8" cy="504.1" r="3.35"/>
<circle cx="613.1" cy="515.1" r="3.35"/>
<circle cx="653.5" cy="439.7" r="3.35"/>
<circle cx="637.6" cy="488.3" r="3.35"/>
<circle cx="666.7" cy="476.5" r="3.35"/>
<circle cx="610.7" cy="467.0" r="3.35"/>
<circle cx="638.0" cy="502.4" r="3.35"/>
<circle cx="672.7" cy="491.7" r="3.35"/>
<circle cx="593.0" cy="500.1" r="3.35"/>
<circle cx="650.2" cy="482.9" r="3.35"/>
<circle cx="678.1" cy="463.4" r="3.35"/>
<circle cx="626.6" cy="474.0" r="3.35"/>
<circle cx="635.1" cy="487.4" r="3.35"/>
<circle cx="617.7" cy="520.2" r="3.35"/>
<circle cx="703.5" cy="449.3" r="3.35"/>
<circle cx="633.1" cy="475.4" r="3.35"/>
<circle cx="657.2" cy="444.1" r="3.35"/>
<circle cx="681.2" cy="486.2" r="3.35"/>
<circle cx="597.3" cy="477.6" r="3.35"/>
<circle cx="641.2" cy="518.3" r="3.35"/>
<circle cx="690.0" cy="447.5" r="3.35"/>
<circle cx="766.5" cy="461.7" r="3.35"/>
<circle cx="746.1" cy="336.6" r="3.35"/>
<circle cx="589.3" cy="520.9" r="3.35"/>
<circle cx="604.7" cy="499.7" r="3.35"/>
<circle cx="679.8" cy="475.3" r="3.35"/>
<circle cx="666.4" cy="480.8" r="3.35"/>
<circle cx="662.5" cy="490.9" r="3.35"/>
<circle cx="685.4" cy="486.4" r="3.35"/>
<circle cx="682.9" cy="502.9" r="3.35"/>
<circle cx="582.9" cy="497.4" r="3.35"/>
<circle cx="621.9" cy="460.4" r="3.35"/>
<circle cx="741.2" cy="482.4" r="3.35"/>
<circle cx="636.3" cy="517.7" r="3.35"/>
<circle cx="649.5" cy="517.3" r="3.35"/>
<circle cx="755.6" cy="458.2" r="3.35"/>
<circle cx="654.0" cy="467.9" r="3.35"/>
<circle cx="667.7" cy="463.1" r="3.35"/>
<circle cx="763.8" cy="466.1" r="3.35"/>
<circle cx="599.1" cy="496.1" r="3.35"/>
<circle cx="577.5" cy="521.4" r="3.35"/>
<circle cx="656.5" cy="455.5" r="3.35"/>
<circle cx="712.8" cy="443.3" r="3.35"/>
<circle cx="691.6" cy="494.2" r="3.35"/>
<circle cx="639.5" cy="485.6" r="3.35"/>
<circle cx="701.6" cy="517.6" r="3.35"/>
<circle cx="615.7" cy="479.9" r="3.35"/>
<circle cx="779.7" cy="480.0" r="3.35"/>
<circle cx="660.4" cy="423.9" r="3.35"/>
<circle cx="716.9" cy="502.6" r="3.35"/>
<circle cx="695.7" cy="470.5" r="3.35"/>
<circle cx="690.0" cy="504.8" r="3.35"/>
<circle cx="705.2" cy="431.8" r="3.35"/>
<circle cx="636.4" cy="498.3" r="3.35"/>
<circle cx="624.7" cy="484.8" r="3.35"/>
<circle cx="683.4" cy="475.8" r="3.35"/>
<circle cx="820.7" cy="451.1" r="3.35"/>
<circle cx="663.0" cy="476.5" r="3.35"/>
<circle cx="681.5" cy="439.6" r="3.35"/>
<circle cx="692.0" cy="460.0" r="3.35"/>
<circle cx="644.9" cy="499.2" r="3.35"/>
<circle cx="665.8" cy="499.2" r="3.35"/>
<circle cx="595.6" cy="490.3" r="3.35"/>
<circle cx="684.3" cy="482.6" r="3.35"/>
<circle cx="718.5" cy="465.7" r="3.35"/>
<circle cx="675.6" cy="476.8" r="3.35"/>
<circle cx="580.9" cy="507.3" r="3.35"/>
<circle cx="718.4" cy="464.0" r="3.35"/>
<circle cx="638.5" cy="504.2" r="3.35"/>
<circle cx="725.3" cy="393.8" r="3.35"/>
<circle cx="672.7" cy="469.4" r="3.35"/>
<circle cx="682.5" cy="473.6" r="3.35"/>
<circle cx="728.8" cy="387.5" r="3.35"/>
<circle cx="633.3" cy="496.3" r="3.35"/>
<circle cx="626.5" cy="517.9" r="3.35"/>
<circle cx="646.1" cy="487.8" r="3.35"/>
<circle cx="684.9" cy="486.5" r="3.35"/>
<circle cx="715.9" cy="404.7" r="3.35"/>
<circle cx="610.3" cy="459.1" r="3.35"/>
<circle cx="693.6" cy="386.7" r="3.35"/>
<circle cx="797.7" cy="412.1" r="3.35"/>
<circle cx="687.0" cy="378.9" r="3.35"/>
<circle cx="708.6" cy="381.9" r="3.35"/>
<circle cx="610.7" cy="500.2" r="3.35"/>
<circle cx="622.4" cy="506.7" r="3.35"/>
<circle cx="613.1" cy="488.3" r="3.35"/>
<circle cx="658.6" cy="502.7" r="3.35"/>
<circle cx="736.0" cy="436.3" r="3.35"/>
<circle cx="665.2" cy="473.9" r="3.35"/>
<circle cx="621.5" cy="479.8" r="3.35"/>
<circle cx="660.0" cy="516.8" r="3.35"/>
<circle cx="665.9" cy="493.8" r="3.35"/>
<circle cx="608.8" cy="485.2" r="3.35"/>
<circle cx="631.0" cy="461.4" r="3.35"/>
<circle cx="647.5" cy="461.5" r="3.35"/>
<circle cx="669.8" cy="361.6" r="3.35"/>
<circle cx="761.6" cy="468.5" r="3.35"/>
<circle cx="649.1" cy="469.9" r="3.35"/>
<circle cx="684.4" cy="475.9" r="3.35"/>
<circle cx="661.0" cy="501.1" r="3.35"/>
<circle cx="665.9" cy="484.2" r="3.35"/>
<circle cx="679.3" cy="465.9" r="3.35"/>
<circle cx="630.7" cy="489.0" r="3.35"/>
<circle cx="687.6" cy="443.3" r="3.35"/>
<circle cx="704.4" cy="492.6" r="3.35"/>
<circle cx="672.7" cy="425.7" r="3.35"/>
<circle cx="619.9" cy="475.9" r="3.35"/>
<circle cx="702.2" cy="415.3" r="3.35"/>
<circle cx="744.8" cy="401.6" r="3.35"/>
<circle cx="701.6" cy="487.3" r="3.35"/>
<circle cx="680.2" cy="475.9" r="3.35"/>
<circle cx="598.3" cy="474.3" r="3.35"/>
<circle cx="745.5" cy="473.2" r="3.35"/>
<circle cx="652.0" cy="450.6" r="3.35"/>
<circle cx="656.2" cy="486.5" r="3.35"/>
<circle cx="695.3" cy="500.7" r="3.35"/>
<circle cx="695.6" cy="453.8" r="3.35"/>
<circle cx="597.6" cy="482.7" r="3.35"/>
<circle cx="602.4" cy="503.6" r="3.35"/>
<circle cx="658.9" cy="457.6" r="3.35"/>
<circle cx="739.9" cy="455.1" r="3.35"/>
<circle cx="701.6" cy="488.1" r="3.35"/>
<circle cx="624.1" cy="476.9" r="3.35"/>
<circle cx="662.1" cy="469.7" r="3.35"/>
<circle cx="590.6" cy="513.8" r="3.35"/>
<circle cx="601.6" cy="518.4" r="3.35"/>
<circle cx="679.1" cy="488.6" r="3.35"/>
<circle cx="639.2" cy="505.8" r="3.35"/>
<circle cx="659.1" cy="516.7" r="3.35"/>
<circle cx="676.6" cy="459.3" r="3.35"/>
<circle cx="716.5" cy="446.7" r="3.35"/>
<circle cx="624.2" cy="488.0" r="3.35"/>
<circle cx="680.1" cy="434.3" r="3.35"/>
<circle cx="622.0" cy="468.3" r="3.35"/>
<circle cx="736.9" cy="468.7" r="3.35"/>
<circle cx="593.8" cy="502.7" r="3.35"/>
<circle cx="662.7" cy="495.8" r="3.35"/>
<circle cx="620.5" cy="511.3" r="3.35"/>
<circle cx="645.0" cy="459.0" r="3.35"/>
<circle cx="585.4" cy="510.3" r="3.35"/>
<circle cx="615.3" cy="504.1" r="3.35"/>
<circle cx="697.3" cy="472.9" r="3.35"/>
<circle cx="676.9" cy="475.8" r="3.35"/>
<circle cx="718.0" cy="489.3" r="3.35"/>
<circle cx="645.0" cy="460.7" r="3.35"/>
<circle cx="672.9" cy="492.6" r="3.35"/>
<circle cx="611.4" cy="457.4" r="3.35"/>
<circle cx="669.3" cy="492.6" r="3.35"/>
<circle cx="605.5" cy="470.7" r="3.35"/>
<circle cx="605.9" cy="476.5" r="3.35"/>
<circle cx="604.7" cy="506.0" r="3.35"/>
<circle cx="688.3" cy="471.1" r="3.35"/>
<circle cx="650.9" cy="468.7" r="3.35"/>
<circle cx="656.6" cy="433.6" r="3.35"/>
<circle cx="780.3" cy="444.9" r="3.35"/>
<circle cx="723.8" cy="474.3" r="3.35"/>
<circle cx="742.2" cy="387.7" r="3.35"/>
<circle cx="719.8" cy="389.5" r="3.35"/>
<circle cx="625.7" cy="499.5" r="3.35"/>
<circle cx="770.5" cy="494.4" r="3.35"/>
<circle cx="631.9" cy="468.0" r="3.35"/>
<circle cx="745.2" cy="476.0" r="3.35"/>
<circle cx="602.2" cy="500.9" r="3.35"/>
<circle cx="715.7" cy="462.0" r="3.35"/>
<circle cx="681.9" cy="478.2" r="3.35"/>
<circle cx="689.8" cy="476.0" r="3.35"/>
<circle cx="655.9" cy="461.4" r="3.35"/>
<circle cx="700.4" cy="466.9" r="3.35"/>
<circle cx="646.6" cy="456.0" r="3.35"/>
<circle cx="646.2" cy="507.7" r="3.35"/>
<circle cx="674.5" cy="449.0" r="3.35"/>
<circle cx="666.9" cy="509.7" r="3.35"/>
<circle cx="643.4" cy="495.0" r="3.35"/>
<circle cx="760.0" cy="454.8" r="3.35"/>
<circle cx="679.3" cy="483.2" r="3.35"/>
<circle cx="688.9" cy="397.3" r="3.35"/>
<circle cx="680.0" cy="385.6" r="3.35"/>
<circle cx="678.8" cy="486.8" r="3.35"/>
<circle cx="737.4" cy="463.8" r="3.35"/>
<circle cx="753.5" cy="453.7" r="3.35"/>
<circle cx="664.7" cy="482.3" r="3.35"/>
<circle cx="686.5" cy="459.9" r="3.35"/>
<circle cx="644.4" cy="437.4" r="3.35"/>
<circle cx="628.6" cy="519.1" r="3.35"/>
<circle cx="642.2" cy="477.5" r="3.35"/>
<circle cx="633.2" cy="503.6" r="3.35"/>
<circle cx="637.4" cy="512.7" r="3.35"/>
<circle cx="745.8" cy="468.8" r="3.35"/>
<circle cx="650.5" cy="485.2" r="3.35"/>
<circle cx="656.3" cy="442.1" r="3.35"/>
<circle cx="650.9" cy="515.8" r="3.35"/>
<circle cx="681.0" cy="447.5" r="3.35"/>
<circle cx="644.8" cy="484.4" r="3.35"/>
<circle cx="661.9" cy="489.5" r="3.35"/>
<circle cx="586.8" cy="508.9" r="3.35"/>
<circle cx="754.2" cy="471.4" r="3.35"/>
<circle cx="737.2" cy="477.8" r="3.35"/>
<circle cx="589.8" cy="493.7" r="3.35"/>
<circle cx="807.5" cy="470.5" r="3.35"/>
<circle cx="644.0" cy="507.6" r="3.35"/>
<circle cx="649.3" cy="512.4" r="3.35"/>
<circle cx="588.5" cy="499.6" r="3.35"/>
<circle cx="672.3" cy="431.3" r="3.35"/>
<circle cx="602.8" cy="520.8" r="3.35"/>
</g>
<g fill="#4d4d4d" stroke="#4d4d4d" stroke-width="1.4" fill-opacity="0.6" stroke-opacity="0.68">
<circle cx="484.3" cy="522.0" r="3.35"/>
<circle cx="591.8" cy="523.7" r="3.35"/>
<circle cx="551.2" cy="526.0" r="3.35"/>
<circle cx="402.5" cy="524.1" r="3.35"/>
<circle cx="511.4" cy="530.9" r="3.35"/>
<circle cx="513.6" cy="530.0" r="3.35"/>
<circle cx="484.4" cy="526.9" r="3.35"/>
<circle cx="460.8" cy="527.4" r="3.35"/>
<circle cx="505.5" cy="524.3" r="3.35"/>
<circle cx="459.7" cy="525.6" r="3.35"/>
<circle cx="560.0" cy="531.6" r="3.35"/>
<circle cx="455.4" cy="523.5" r="3.35"/>
<circle cx="412.8" cy="524.1" r="3.35"/>
<circle cx="586.9" cy="528.4" r="3.35"/>
<circle cx="571.0" cy="512.0" r="3.35"/>
<circle cx="567.4" cy="521.2" r="3.35"/>
<circle cx="533.8" cy="531.7" r="3.35"/>
<circle cx="483.4" cy="516.1" r="3.35"/>
<circle cx="582.2" cy="526.1" r="3.35"/>
<circle cx="590.2" cy="526.2" r="3.35"/>
<circle cx="544.6" cy="532.4" r="3.35"/>
<circle cx="495.6" cy="531.2" r="3.35"/>
<circle cx="499.8" cy="520.0" r="3.35"/>
<circle cx="459.8" cy="526.5" r="3.35"/>
<circle cx="519.5" cy="531.3" r="3.35"/>
<circle cx="537.6" cy="531.7" r="3.35"/>
<circle cx="488.7" cy="510.7" r="3.35"/>
<circle cx="521.9" cy="531.7" r="3.35"/>
<circle cx="574.2" cy="507.4" r="3.35"/>
<circle cx="546.3" cy="528.5" r="3.35"/>
<circle cx="493.5" cy="525.7" r="3.35"/>
<circle cx="474.9" cy="524.1" r="3.35"/>
<circle cx="591.8" cy="527.3" r="3.35"/>
<circle cx="516.0" cy="530.4" r="3.35"/>
<circle cx="502.0" cy="523.3" r="3.35"/>
<circle cx="586.5" cy="527.7" r="3.35"/>
<circle cx="516.1" cy="530.2" r="3.35"/>
<circle cx="484.9" cy="524.8" r="3.35"/>
<circle cx="570.3" cy="516.0" r="3.35"/>
<circle cx="595.3" cy="526.4" r="3.35"/>
<circle cx="469.1" cy="525.1" r="3.35"/>
<circle cx="485.2" cy="525.3" r="3.35"/>
<circle cx="497.6" cy="531.1" r="3.35"/>
<circle cx="549.1" cy="526.4" r="3.35"/>
<circle cx="578.1" cy="527.2" r="3.35"/>
<circle cx="581.6" cy="523.9" r="3.35"/>
<circle cx="472.2" cy="528.0" r="3.35"/>
<circle cx="573.9" cy="523.6" r="3.35"/>
<circle cx="482.1" cy="507.7" r="3.35"/>
<circle cx="562.4" cy="517.2" r="3.35"/>
<circle cx="572.6" cy="509.1" r="3.35"/>
<circle cx="531.1" cy="532.3" r="3.35"/>
<circle cx="487.8" cy="516.3" r="3.35"/>
<circle cx="580.2" cy="529.5" r="3.35"/>
<circle cx="556.4" cy="529.5" r="3.35"/>
<circle cx="513.8" cy="529.0" r="3.35"/>
<circle cx="487.5" cy="530.9" r="3.35"/>
<circle cx="563.0" cy="523.6" r="3.35"/>
<circle cx="520.6" cy="531.6" r="3.35"/>
<circle cx="496.3" cy="518.8" r="3.35"/>
<circle cx="565.9" cy="528.0" r="3.35"/>
<circle cx="517.8" cy="532.3" r="3.35"/>
<circle cx="584.5" cy="528.9" r="3.35"/>
<circle cx="546.3" cy="531.4" r="3.35"/>
<circle cx="483.0" cy="509.7" r="3.35"/>
<circle cx="589.0" cy="523.7" r="3.35"/>
<circle cx="489.7" cy="519.5" r="3.35"/>
<circle cx="571.8" cy="509.9" r="3.35"/>
<circle cx="573.4" cy="508.0" r="3.35"/>
<circle cx="551.3" cy="531.7" r="3.35"/>
<circle cx="522.4" cy="531.8" r="3.35"/>
<circle cx="570.0" cy="516.7" r="3.35"/>
<circle cx="566.5" cy="524.2" r="3.35"/>
<circle cx="493.1" cy="522.3" r="3.35"/>
<circle cx="560.1" cy="522.6" r="3.35"/>
<circle cx="484.8" cy="522.9" r="3.35"/>
<circle cx="458.0" cy="525.1" r="3.35"/>
<circle cx="483.4" cy="521.1" r="3.35"/>
<circle cx="440.9" cy="525.9" r="3.35"/>
<circle cx="534.3" cy="531.6" r="3.35"/>
<circle cx="492.1" cy="512.7" r="3.35"/>
<circle cx="554.2" cy="525.1" r="3.35"/>
<circle cx="568.6" cy="519.5" r="3.35"/>
<circle cx="502.9" cy="524.3" r="3.35"/>
<circle cx="385.1" cy="527.3" r="3.35"/>
<circle cx="546.4" cy="530.1" r="3.35"/>
<circle cx="551.6" cy="528.1" r="3.35"/>
<circle cx="509.5" cy="527.9" r="3.35"/>
<circle cx="535.0" cy="531.2" r="3.35"/>
<circle cx="535.7" cy="532.4" r="3.35"/>
<circle cx="543.7" cy="528.4" r="3.35"/>
<circle cx="471.0" cy="528.9" r="3.35"/>
<circle cx="458.1" cy="527.6" r="3.35"/>
<circle cx="563.8" cy="526.7" r="3.35"/>
<circle cx="484.6" cy="514.4" r="3.35"/>
<circle cx="504.6" cy="532.1" r="3.35"/>
<circle cx="491.2" cy="530.8" r="3.35"/>
<circle cx="467.2" cy="528.6" r="3.35"/>
<circle cx="375.3" cy="524.1" r="3.35"/>
<circle cx="588.7" cy="527.5" r="3.35"/>
</g>
<g fill="#006400" stroke="#006400" stroke-width="1.4" fill-opacity="0.6" stroke-opacity="0.68">
<circle cx="435.1" cy="452.0" r="3.35"/>
<circle cx="413.8" cy="478.5" r="3.35"/>
<circle cx="468.5" cy="519.9" r="3.35"/>
<circle cx="394.1" cy="506.3" r="3.35"/>
<circle cx="444.8" cy="520.7" r="3.35"/>
<circle cx="467.7" cy="512.7" r="3.35"/>
<circle cx="469.6" cy="488.2" r="3.35"/>
<circle cx="438.4" cy="489.3" r="3.35"/>
<circle cx="477.4" cy="509.3" r="3.35"/>
<circle cx="240.9" cy="447.6" r="3.35"/>
<circle cx="461.9" cy="520.0" r="3.35"/>
<circle cx="463.9" cy="494.2" r="3.35"/>
<circle cx="446.7" cy="507.3" r="3.35"/>
<circle cx="452.9" cy="502.2" r="3.35"/>
<circle cx="443.4" cy="511.2" r="3.35"/>
<circle cx="448.0" cy="513.8" r="3.35"/>
<circle cx="476.0" cy="513.0" r="3.35"/>
<circle cx="409.1" cy="518.1" r="3.35"/>
<circle cx="454.2" cy="489.5" r="3.35"/>
<circle cx="449.0" cy="502.7" r="3.35"/>
<circle cx="453.0" cy="511.4" r="3.35"/>
<circle cx="473.4" cy="519.8" r="3.35"/>
<circle cx="461.5" cy="519.4" r="3.35"/>
<circle cx="438.8" cy="501.6" r="3.35"/>
<circle cx="452.1" cy="518.7" r="3.35"/>
<circle cx="476.7" cy="506.8" r="3.35"/>
<circle cx="461.3" cy="518.8" r="3.35"/>
<circle cx="407.2" cy="469.7" r="3.35"/>
<circle cx="472.8" cy="515.3" r="3.35"/>
<circle cx="449.1" cy="500.2" r="3.35"/>
<circle cx="471.4" cy="509.4" r="3.35"/>
<circle cx="477.1" cy="508.4" r="3.35"/>
<circle cx="445.5" cy="499.2" r="3.35"/>
<circle cx="434.7" cy="520.4" r="3.35"/>
<circle cx="441.0" cy="482.9" r="3.35"/>
<circle cx="403.4" cy="502.5" r="3.35"/>
<circle cx="437.8" cy="508.1" r="3.35"/>
<circle cx="457.1" cy="501.7" r="3.35"/>
<circle cx="476.2" cy="503.0" r="3.35"/>
<circle cx="461.4" cy="486.6" r="3.35"/>
<circle cx="447.9" cy="490.4" r="3.35"/>
<circle cx="463.4" cy="498.0" r="3.35"/>
<circle cx="468.0" cy="517.7" r="3.35"/>
<circle cx="460.9" cy="511.1" r="3.35"/>
<circle cx="447.9" cy="493.4" r="3.35"/>
<circle cx="405.3" cy="497.8" r="3.35"/>
<circle cx="450.3" cy="508.1" r="3.35"/>
<circle cx="445.7" cy="493.7" r="3.35"/>
<circle cx="448.2" cy="512.0" r="3.35"/>
<circle cx="416.7" cy="483.4" r="3.35"/>
<circle cx="430.9" cy="459.7" r="3.35"/>
<circle cx="420.3" cy="507.5" r="3.35"/>
<circle cx="378.1" cy="519.0" r="3.35"/>
<circle cx="475.2" cy="501.9" r="3.35"/>
<circle cx="401.6" cy="488.4" r="3.35"/>
<circle cx="453.3" cy="487.1" r="3.35"/>
<circle cx="416.2" cy="490.8" r="3.35"/>
<circle cx="401.6" cy="518.1" r="3.35"/>
<circle cx="464.3" cy="514.1" r="3.35"/>
<circle cx="456.5" cy="490.2" r="3.35"/>
<circle cx="470.9" cy="513.3" r="3.35"/>
<circle cx="440.6" cy="488.9" r="3.35"/>
<circle cx="433.8" cy="511.2" r="3.35"/>
<circle cx="466.2" cy="494.3" r="3.35"/>
<circle cx="474.8" cy="495.0" r="3.35"/>
<circle cx="445.5" cy="494.7" r="3.35"/>
<circle cx="449.0" cy="517.8" r="3.35"/>
<circle cx="444.9" cy="501.0" r="3.35"/>
<circle cx="465.8" cy="518.0" r="3.35"/>
<circle cx="463.2" cy="499.7" r="3.35"/>
<circle cx="421.2" cy="488.1" r="3.35"/>
<circle cx="458.4" cy="488.4" r="3.35"/>
<circle cx="470.4" cy="517.4" r="3.35"/>
<circle cx="434.7" cy="504.2" r="3.35"/>
<circle cx="449.8" cy="486.5" r="3.35"/>
<circle cx="443.6" cy="502.3" r="3.35"/>
<circle cx="430.2" cy="489.2" r="3.35"/>
<circle cx="406.3" cy="508.1" r="3.35"/>
<circle cx="477.4" cy="514.6" r="3.35"/>
<circle cx="374.4" cy="518.1" r="3.35"/>
<circle cx="435.6" cy="496.6" r="3.35"/>
<circle cx="439.5" cy="475.2" r="3.35"/>
<circle cx="310.5" cy="310.5" r="3.35"/>
<circle cx="476.2" cy="500.6" r="3.35"/>
<circle cx="422.8" cy="459.4" r="3.35"/>
<circle cx="285.7" cy="468.8" r="3.35"/>
<circle cx="464.7" cy="490.4" r="3.35"/>
<circle cx="467.4" cy="489.7" r="3.35"/>
<circle cx="425.2" cy="493.4" r="3.35"/>
<circle cx="447.6" cy="505.4" r="3.35"/>
<circle cx="463.1" cy="513.2" r="3.35"/>
<circle cx="474.3" cy="517.2" r="3.35"/>
<circle cx="433.6" cy="484.6" r="3.35"/>
<circle cx="364.6" cy="503.4" r="3.35"/>
<circle cx="462.4" cy="506.9" r="3.35"/>
<circle cx="474.9" cy="520.2" r="3.35"/>
<circle cx="436.1" cy="507.5" r="3.35"/>
<circle cx="457.4" cy="481.8" r="3.35"/>
<circle cx="417.5" cy="512.8" r="3.35"/>
<circle cx="448.9" cy="486.3" r="3.35"/>
<circle cx="450.4" cy="501.2" r="3.35"/>
<circle cx="456.4" cy="492.8" r="3.35"/>
<circle cx="441.7" cy="511.1" r="3.35"/>
</g>
<g fill="#ff0000" stroke="#ff0000" stroke-width="1.4" fill-opacity="0.6" stroke-opacity="0.68">
<circle cx="644.5" cy="496.5" r="3.35"/>
<circle cx="680.1" cy="486.0" r="3.35"/>
<circle cx="679.2" cy="442.8" r="3.35"/>
<circle cx="619.0" cy="478.7" r="3.35"/>
<circle cx="602.8" cy="487.0" r="3.35"/>
<circle cx="669.2" cy="507.1" r="3.35"/>
<circle cx="734.5" cy="480.0" r="3.35"/>
<circle cx="676.0" cy="485.5" r="3.35"/>
<circle cx="749.2" cy="444.7" r="3.35"/>
<circle cx="742.4" cy="461.5" r="3.35"/>
<circle cx="651.2" cy="470.3" r="3.35"/>
<circle cx="687.5" cy="477.1" r="3.35"/>
<circle cx="665.8" cy="491.9" r="3.35"/>
<circle cx="615.8" cy="523.1" r="3.35"/>
<circle cx="603.7" cy="494.3" r="3.35"/>
<circle cx="687.6" cy="506.7" r="3.35"/>
<circle cx="587.9" cy="500.8" r="3.35"/>
<circle cx="868.9" cy="385.9" r="3.35"/>
<circle cx="653.7" cy="513.5" r="3.35"/>
<circle cx="691.2" cy="458.8" r="3.35"/>
<circle cx="637.5" cy="466.9" r="3.35"/>
<circle cx="692.3" cy="498.4" r="3.35"/>
<circle cx="682.2" cy="479.9" r="3.35"/>
<circle cx="621.8" cy="466.8" r="3.35"/>
<circle cx="645.0" cy="512.7" r="3.35"/>
<circle cx="630.6" cy="505.1" r="3.35"/>
<circle cx="624.0" cy="429.2" r="3.35"/>
<circle cx="649.5" cy="503.8" r="3.35"/>
<circle cx="606.8" cy="491.9" r="3.35"/>
<circle cx="760.0" cy="495.7" r="3.35"/>
<circle cx="718.8" cy="446.9" r="3.35"/>
<circle cx="692.9" cy="505.8" r="3.35"/>
<circle cx="589.0" cy="501.2" r="3.35"/>
<circle cx="673.0" cy="494.3" r="3.35"/>
<circle cx="618.7" cy="513.8" r="3.35"/>
<circle cx="659.1" cy="502.9" r="3.35"/>
<circle cx="629.3" cy="513.5" r="3.35"/>
<circle cx="658.3" cy="509.3" r="3.35"/>
<circle cx="833.8" cy="462.6" r="3.35"/>
<circle cx="686.3" cy="435.9" r="3.35"/>
<circle cx="635.5" cy="445.7" r="3.35"/>
<circle cx="722.3" cy="430.0" r="3.35"/>
<circle cx="808.5" cy="447.2" r="3.35"/>
<circle cx="737.8" cy="425.8" r="3.35"/>
<circle cx="643.8" cy="477.1" r="3.35"/>
<circle cx="643.3" cy="465.0" r="3.35"/>
<circle cx="670.7" cy="454.4" r="3.35"/>
<circle cx="609.0" cy="466.9" r="3.35"/>
<circle cx="673.2" cy="457.4" r="3.35"/>
<circle cx="914.1" cy="437.0" r="3.35"/>
<circle cx="670.6" cy="416.1" r="3.35"/>
<circle cx="599.0" cy="485.0" r="3.35"/>
<circle cx="619.0" cy="510.5" r="3.35"/>
<circle cx="673.0" cy="472.4" r="3.35"/>
<circle cx="662.7" cy="501.2" r="3.35"/>
<circle cx="607.0" cy="467.9" r="3.35"/>
<circle cx="616.4" cy="516.4" r="3.35"/>
<circle cx="594.7" cy="496.1" r="3.35"/>
<circle cx="732.0" cy="425.0" r="3.35"/>
<circle cx="697.8" cy="504.6" r="3.35"/>
<circle cx="795.1" cy="454.4" r="3.35"/>
<circle cx="630.8" cy="491.3" r="3.35"/>
<circle cx="765.6" cy="473.4" r="3.35"/>
<circle cx="657.1" cy="499.6" r="3.35"/>
<circle cx="739.2" cy="447.2" r="3.35"/>
<circle cx="617.0" cy="475.8" r="3.35"/>
<circle cx="625.1" cy="509.9" r="3.35"/>
<circle cx="684.5" cy="474.2" r="3.35"/>
<circle cx="700.6" cy="512.6" r="3.35"/>
<circle cx="645.9" cy="497.0" r="3.35"/>
<circle cx="694.0" cy="497.8" r="3.35"/>
<circle cx="612.1" cy="483.6" r="3.35"/>
<circle cx="621.2" cy="505.5" r="3.35"/>
<circle cx="693.4" cy="439.6" r="3.35"/>
<circle cx="655.8" cy="405.9" r="3.35"/>
<circle cx="613.8" cy="515.0" r="3.35"/>
<circle cx="634.5" cy="510.7" r="3.35"/>
<circle cx="662.6" cy="478.8" r="3.35"/>
<circle cx="710.1" cy="473.5" r="3.35"/>
<circle cx="708.8" cy="515.4" r="3.35"/>
<circle cx="596.8" cy="510.1" r="3.35"/>
<circle cx="863.3" cy="402.0" r="3.35"/>
<circle cx="637.8" cy="504.1" r="3.35"/>
<circle cx="611.2" cy="473.7" r="3.35"/>
<circle cx="595.6" cy="517.1" r="3.35"/>
<circle cx="669.1" cy="491.5" r="3.35"/>
<circle cx="882.0" cy="364.9" r="3.35"/>
<circle cx="645.7" cy="502.8" r="3.35"/>
<circle cx="711.6" cy="490.2" r="3.35"/>
<circle cx="623.6" cy="504.0" r="3.35"/>
<circle cx="680.9" cy="514.7" r="3.35"/>
<circle cx="658.1" cy="453.6" r="3.35"/>
<circle cx="642.2" cy="502.0" r="3.35"/>
<circle cx="616.8" cy="474.7" r="3.35"/>
<circle cx="643.3" cy="507.4" r="3.35"/>
<circle cx="709.7" cy="398.9" r="3.35"/>
<circle cx="647.9" cy="486.1" r="3.35"/>
<circle cx="609.7" cy="513.5" r="3.35"/>
<circle cx="714.2" cy="494.7" r="3.35"/>
<circle cx="665.6" cy="471.9" r="3.35"/>
<circle cx="598.6" cy="511.7" r="3.35"/>
<circle cx="634.3" cy="478.6" r="3.35"/>
<circle cx="710.2" cy="476.6" r="3.35"/>
<circle cx="659.7" cy="512.1" r="3.35"/>
<circle cx="662.4" cy="469.3" r="3.35"/>
<circle cx="607.2" cy="518.7" r="3.35"/>
<circle cx="651.4" cy="429.8" r="3.35"/>
<circle cx="587.4" cy="502.1" r="3.35"/>
<circle cx="640.0" cy="513.7" r="3.35"/>
<circle cx="782.3" cy="434.8" r="3.35"/>
<circle cx="648.8" cy="486.9" r="3.35"/>
<circle cx="730.4" cy="483.0" r="3.35"/>
<circle cx="795.4" cy="438.0" r="3.35"/>
<circle cx="759.7" cy="397.8" r="3.35"/>
<circle cx="611.0" cy="460.8" r="3.35"/>
<circle cx="752.3" cy="442.4" r="3.35"/>
<circle cx="649.5" cy="506.6" r="3.35"/>
<circle cx="759.0" cy="439.4" r="3.35"/>
<circle cx="699.6" cy="464.8" r="3.35"/>
<circle cx="642.0" cy="477.0" r="3.35"/>
<circle cx="654.0" cy="464.4" r="3.35"/>
<circle cx="642.9" cy="517.0" r="3.35"/>
<circle cx="630.0" cy="499.9" r="3.35"/>
<circle cx="659.1" cy="459.8" r="3.35"/>
<circle cx="610.1" cy="485.7" r="3.35"/>
<circle cx="695.1" cy="459.4" r="3.35"/>
<circle cx="699.1" cy="451.6" r="3.35"/>
<circle cx="663.2" cy="463.5" r="3.35"/>
<circle cx="735.2" cy="486.7" r="3.35"/>
<circle cx="751.9" cy="448.9" r="3.35"/>
<circle cx="589.8" cy="512.3" r="3.35"/>
<circle cx="626.4" cy="481.0" r="3.35"/>
<circle cx="678.1" cy="473.2" r="3.35"/>
<circle cx="586.5" cy="498.3" r="3.35"/>
<circle cx="586.7" cy="505.4" r="3.35"/>
<circle cx="659.0" cy="473.3" r="3.35"/>
<circle cx="647.9" cy="491.2" r="3.35"/>
<circle cx="645.1" cy="451.3" r="3.35"/>
<circle cx="712.7" cy="444.5" r="3.35"/>
<circle cx="610.5" cy="482.2" r="3.35"/>
<circle cx="628.4" cy="436.6" r="3.35"/>
<circle cx="651.7" cy="502.5" r="3.35"/>
<circle cx="667.7" cy="466.8" r="3.35"/>
<circle cx="653.3" cy="451.8" r="3.35"/>
<circle cx="606.0" cy="471.0" r="3.35"/>
<circle cx="762.0" cy="354.4" r="3.35"/>
<circle cx="680.4" cy="512.0" r="3.35"/>
<circle cx="651.9" cy="493.0" r="3.35"/>
<circle cx="603.7" cy="518.3" r="3.35"/>
<circle cx="752.7" cy="427.2" r="3.35"/>
<circle cx="672.8" cy="478.4" r="3.35"/>
<circle cx="739.5" cy="467.1" r="3.35"/>
<circle cx="612.2" cy="476.8" r="3.35"/>
<circle cx="650.5" cy="450.0" r="3.35"/>
<circle cx="670.7" cy="439.0" r="3.35"/>
<circle cx="577.3" cy="504.6" r="3.35"/>
<circle cx="733.1" cy="482.0" r="3.35"/>
<circle cx="607.7" cy="476.4" r="3.35"/>
<circle cx="684.2" cy="470.9" r="3.35"/>
<circle cx="643.9" cy="513.8" r="3.35"/>
<circle cx="661.1" cy="451.2" r="3.35"/>
<circle cx="601.9" cy="509.0" r="3.35"/>
<circle cx="677.9" cy="481.8" r="3.35"/>
<circle cx="667.4" cy="461.4" r="3.35"/>
<circle cx="674.2" cy="459.5" r="3.35"/>
<circle cx="609.8" cy="466.7" r="3.35"/>
<circle cx="765.2" cy="408.8" r="3.35"/>
<circle cx="819.7" cy="401.0" r="3.35"/>
<circle cx="679.3" cy="497.0" r="3.35"/>
<circle cx="688.1" cy="475.3" r="3.35"/>
<circle cx="669.4" cy="494.1" r="3.35"/>
<circle cx="797.7" cy="388.2" r="3.35"/>
<circle cx="678.3" cy="474.4" r="3.35"/>
<circle cx="674.7" cy="492.3" r="3.35"/>
<circle cx="722.7" cy="470.6" r="3.35"/>
<circle cx="605.1" cy="520.5" r="3.35"/>
<circle cx="608.5" cy="501.2" r="3.35"/>
<circle cx="632.4" cy="484.3" r="3.35"/>
<circle cx="674.7" cy="460.4" r="3.35"/>
<circle cx="663.3" cy="381.7" r="3.35"/>
<circle cx="612.2" cy="483.2" r="3.35"/>
<circle cx="633.7" cy="469.2" r="3.35"/>
<circle cx="675.5" cy="458.9" r="3.35"/>
<circle cx="644.0" cy="465.4" r="3.35"/>
<circle cx="625.7" cy="481.4" r="3.35"/>
<circle cx="642.4" cy="517.8" r="3.35"/>
<circle cx="610.7" cy="509.5" r="3.35"/>
<circle cx="620.5" cy="449.0" r="3.35"/>
<circle cx="678.0" cy="479.2" r="3.35"/>
<circle cx="650.6" cy="479.0" r="3.35"/>
<circle cx="637.2" cy="461.9" r="3.35"/>
<circle cx="667.0" cy="490.7" r="3.35"/>
<circle cx="588.7" cy="496.4" r="3.35"/>
<circle cx="693.7" cy="448.8" r="3.35"/>
<circle cx="694.4" cy="514.9" r="3.35"/>
<circle cx="648.1" cy="495.3" r="3.35"/>
<circle cx="660.4" cy="502.2" r="3.35"/>
<circle cx="718.8" cy="461.9" r="3.35"/>
<circle cx="659.1" cy="512.4" r="3.35"/>
<circle cx="627.3" cy="489.3" r="3.35"/>
<circle cx="641.3" cy="480.1" r="3.35"/>
<circle cx="603.5" cy="519.3" r="3.35"/>
<circle cx="656.1" cy="468.2" r="3.35"/>
<circle cx="717.5" cy="456.1" r="3.35"/>
<circle cx="757.1" cy="438.1" r="3.35"/>
<circle cx="615.2" cy="513.4" r="3.35"/>
<circle cx="659.0" cy="477.5" r="3.35"/>
<circle cx="658.7" cy="497.3" r="3.35"/>
<circle cx="752.7" cy="405.6" r="3.35"/>
<circle cx="740.2" cy="467.9" r="3.35"/>
<circle cx="649.2" cy="472.5" r="3.35"/>
<circle cx="599.7" cy="490.8" r="3.35"/>
<circle cx="650.6" cy="496.9" r="3.35"/>
<circle cx="665.4" cy="504.3" r="3.35"/>
<circle cx="711.2" cy="477.5" r="3.35"/>
<circle cx="624.2" cy="474.7" r="3.35"/>
<circle cx="709.1" cy="471.4" r="3.35"/>
<circle cx="604.5" cy="487.1" r="3.35"/>
<circle cx="595.9" cy="479.4" r="3.35"/>
<circle cx="713.0" cy="437.9" r="3.35"/>
<circle cx="642.5" cy="461.3" r="3.35"/>
<circle cx="616.5" cy="481.7" r="3.35"/>
<circle cx="718.6" cy="434.3" r="3.35"/>
<circle cx="792.8" cy="459.0" r="3.35"/>
<circle cx="684.0" cy="465.4" r="3.35"/>
<circle cx="678.8" cy="456.0" r="3.35"/>
<circle cx="618.0" cy="502.5" r="3.35"/>
<circle cx="635.0" cy="512.9" r="3.35"/>
<circle cx="650.9" cy="479.5" r="3.35"/>
<circle cx="613.8" cy="461.5" r="3.35"/>
<circle cx="588.3" cy="489.8" r="3.35"/>
<circle cx="681.8" cy="471.2" r="3.35"/>
<circle cx="690.2" cy="431.8" r="3.35"/>
<circle cx="704.3" cy="467.5" r="3.35"/>
<circle cx="637.8" cy="513.1" r="3.35"/>
<circle cx="619.9" cy="501.9" r="3.35"/>
<circle cx="767.6" cy="471.2" r="3.35"/>
<circle cx="680.4" cy="431.0" r="3.35"/>
<circle cx="680.6" cy="492.7" r="3.35"/>
<circle cx="628.3" cy="520.5" r="3.35"/>
<circle cx="707.3" cy="416.1" r="3.35"/>
<circle cx="701.3" cy="512.0" r="3.35"/>
<circle cx="616.1" cy="463.8" r="3.35"/>
<circle cx="649.2" cy="507.0" r="3.35"/>
<circle cx="645.5" cy="467.9" r="3.35"/>
<circle cx="754.9" cy="461.1" r="3.35"/>
<circle cx="618.9" cy="473.0" r="3.35"/>
<circle cx="630.8" cy="456.6" r="3.35"/>
<circle cx="638.6" cy="489.2" r="3.35"/>
<circle cx="658.1" cy="466.9" r="3.35"/>
<circle cx="732.1" cy="442.4" r="3.35"/>
<circle cx="653.0" cy="486.8" r="3.35"/>
<circle cx="660.2" cy="482.7" r="3.35"/>
<circle cx="706.4" cy="455.5" r="3.35"/>
<circle cx="673.5" cy="488.8" r="3.35"/>
<circle cx="673.4" cy="463.5" r="3.35"/>
<circle cx="646.8" cy="461.0" r="3.35"/>
<circle cx="608.0" cy="516.4" r="3.35"/>
<circle cx="701.9" cy="493.3" r="3.35"/>
<circle cx="708.1" cy="411.9" r="3.35"/>
<circle cx="684.9" cy="450.4" r="3.35"/>
<circle cx="613.2" cy="521.3" r="3.35"/>
<circle cx="624.3" cy="490.4" r="3.35"/>
<circle cx="754.4" cy="475.1" r="3.35"/>
<circle cx="748.8" cy="454.0" r="3.35"/>
<circle cx="623.6" cy="469.8" r="3.35"/>
<circle cx="696.6" cy="469.3" r="3.35"/>
<circle cx="679.9" cy="486.5" r="3.35"/>
<circle cx="672.6" cy="494.6" r="3.35"/>
<circle cx="620.0" cy="475.6" r="3.35"/>
<circle cx="580.5" cy="520.5" r="3.35"/>
<circle cx="698.1" cy="503.7" r="3.35"/>
<circle cx="681.4" cy="437.5" r="3.35"/>
<circle cx="580.6" cy="514.2" r="3.35"/>
<circle cx="635.5" cy="439.9" r="3.35"/>
<circle cx="717.4" cy="439.0" r="3.35"/>
<circle cx="668.6" cy="474.3" r="3.35"/>
<circle cx="671.9" cy="491.0" r="3.35"/>
<circle cx="605.8" cy="465.7" r="3.35"/>
<circle cx="650.1" cy="496.1" r="3.35"/>
<circle cx="589.6" cy="501.8" r="3.35"/>
<circle cx="757.2" cy="460.8" r="3.35"/>
<circle cx="649.6" cy="503.9" r="3.35"/>
<circle cx="626.7" cy="472.6" r="3.35"/>
<circle cx="731.0" cy="458.6" r="3.35"/>
<circle cx="594.6" cy="504.6" r="3.35"/>
<circle cx="680.9" cy="459.1" r="3.35"/>
<circle cx="639.9" cy="460.8" r="3.35"/>
<circle cx="891.5" cy="406.9" r="3.35"/>
<circle cx="647.5" cy="462.3" r="3.35"/>
<circle cx="810.8" cy="431.1" r="3.35"/>
<circle cx="660.7" cy="427.8" r="3.35"/>
</g>
<g fill="#4d4d4d" stroke="#4d4d4d" stroke-width="1.4" fill-opacity="0.6" stroke-opacity="0.68">
<circle cx="502.3" cy="528.2" r="3.35"/>
<circle cx="512.3" cy="530.8" r="3.35"/>
<circle cx="558.1" cy="530.0" r="3.35"/>
<circle cx="509.0" cy="531.5" r="3.35"/>
<circle cx="501.6" cy="527.1" r="3.35"/>
<circle cx="497.3" cy="517.5" r="3.35"/>
<circle cx="525.1" cy="532.2" r="3.35"/>
<circle cx="564.3" cy="529.1" r="3.35"/>
<circle cx="570.3" cy="530.0" r="3.35"/>
<circle cx="564.5" cy="516.1" r="3.35"/>
<circle cx="589.1" cy="524.6" r="3.35"/>
<circle cx="510.7" cy="528.2" r="3.35"/>
<circle cx="515.8" cy="531.8" r="3.35"/>
<circle cx="496.3" cy="516.9" r="3.35"/>
<circle cx="473.9" cy="528.8" r="3.35"/>
<circle cx="480.1" cy="530.4" r="3.35"/>
<circle cx="568.7" cy="526.7" r="3.35"/>
<circle cx="421.3" cy="528.4" r="3.35"/>
<circle cx="566.9" cy="513.6" r="3.35"/>
<circle cx="476.9" cy="526.3" r="3.35"/>
<circle cx="551.0" cy="531.1" r="3.35"/>
<circle cx="550.1" cy="525.1" r="3.35"/>
<circle cx="494.8" cy="515.2" r="3.35"/>
<circle cx="549.4" cy="525.8" r="3.35"/>
<circle cx="546.5" cy="529.1" r="3.35"/>
<circle cx="590.0" cy="524.4" r="3.35"/>
<circle cx="555.9" cy="526.8" r="3.35"/>
<circle cx="507.4" cy="525.9" r="3.35"/>
<circle cx="485.3" cy="509.4" r="3.35"/>
<circle cx="587.9" cy="526.5" r="3.35"/>
<circle cx="574.2" cy="528.2" r="3.35"/>
<circle cx="560.5" cy="518.7" r="3.35"/>
<circle cx="496.2" cy="529.0" r="3.35"/>
<circle cx="545.6" cy="531.0" r="3.35"/>
<circle cx="544.1" cy="530.2" r="3.35"/>
<circle cx="556.4" cy="521.3" r="3.35"/>
<circle cx="487.9" cy="514.2" r="3.35"/>
<circle cx="483.3" cy="530.1" r="3.35"/>
<circle cx="551.5" cy="528.0" r="3.35"/>
<circle cx="594.9" cy="523.5" r="3.35"/>
<circle cx="573.1" cy="530.0" r="3.35"/>
<circle cx="485.5" cy="521.6" r="3.35"/>
<circle cx="476.3" cy="524.1" r="3.35"/>
<circle cx="540.1" cy="532.5" r="3.35"/>
<circle cx="476.8" cy="523.6" r="3.35"/>
<circle cx="513.9" cy="531.9" r="3.35"/>
<circle cx="497.1" cy="520.6" r="3.35"/>
<circle cx="554.4" cy="522.9" r="3.35"/>
<circle cx="489.9" cy="511.6" r="3.35"/>
<circle cx="561.5" cy="522.0" r="3.35"/>
<circle cx="557.3" cy="521.7" r="3.35"/>
<circle cx="486.5" cy="511.1" r="3.35"/>
<circle cx="503.3" cy="523.0" r="3.35"/>
<circle cx="489.7" cy="525.2" r="3.35"/>
<circle cx="494.0" cy="517.9" r="3.35"/>
<circle cx="483.1" cy="529.3" r="3.35"/>
<circle cx="471.0" cy="524.1" r="3.35"/>
<circle cx="492.8" cy="513.5" r="3.35"/>
<circle cx="491.1" cy="524.3" r="3.35"/>
<circle cx="547.6" cy="527.2" r="3.35"/>
<circle cx="498.2" cy="528.7" r="3.35"/>
<circle cx="488.2" cy="521.9" r="3.35"/>
<circle cx="558.5" cy="525.6" r="3.35"/>
<circle cx="529.1" cy="531.7" r="3.35"/>
<circle cx="493.7" cy="526.1" r="3.35"/>
<circle cx="555.2" cy="521.9" r="3.35"/>
<circle cx="424.1" cy="524.1" r="3.35"/>
<circle cx="564.8" cy="519.8" r="3.35"/>
<circle cx="553.0" cy="530.5" r="3.35"/>
<circle cx="524.2" cy="532.2" r="3.35"/>
<circle cx="469.9" cy="525.2" r="3.35"/>
<circle cx="478.7" cy="506.4" r="3.35"/>
<circle cx="458.7" cy="525.7" r="3.35"/>
<circle cx="494.0" cy="523.2" r="3.35"/>
<circle cx="566.3" cy="519.7" r="3.35"/>
<circle cx="597.7" cy="526.0" r="3.35"/>
<circle cx="528.7" cy="532.7" r="3.35"/>
<circle cx="486.4" cy="511.5" r="3.35"/>
<circle cx="570.6" cy="510.2" r="3.35"/>
<circle cx="460.0" cy="526.1" r="3.35"/>
<circle cx="505.8" cy="531.2" r="3.35"/>
<circle cx="484.7" cy="530.9" r="3.35"/>
<circle cx="488.0" cy="511.6" r="3.35"/>
<circle cx="563.2" cy="516.9" r="3.35"/>
<circle cx="568.4" cy="530.5" r="3.35"/>
<circle cx="490.9" cy="511.9" r="3.35"/>
<circle cx="590.8" cy="527.3" r="3.35"/>
<circle cx="508.6" cy="526.6" r="3.35"/>
<circle cx="462.5" cy="527.8" r="3.35"/>
<circle cx="577.1" cy="523.7" r="3.35"/>
<circle cx="501.4" cy="521.5" r="3.35"/>
<circle cx="559.7" cy="528.5" r="3.35"/>
<circle cx="494.7" cy="522.7" r="3.35"/>
<circle cx="571.7" cy="521.2" r="3.35"/>
<circle cx="562.3" cy="531.4" r="3.35"/>
<circle cx="481.0" cy="516.7" r="3.35"/>
<circle cx="592.5" cy="525.3" r="3.35"/>
<circle cx="564.0" cy="531.1" r="3.35"/>
<circle cx="526.4" cy="532.2" r="3.35"/>
<circle cx="486.1" cy="515.3" r="3.35"/>
</g>
<g fill="#006400" stroke="#006400" stroke-width="1.4" fill-opacity="0.6" stroke-opacity="0.68">
<circle cx="440.7" cy="461.8" r="3.35"/>
<circle cx="467.1" cy="504.0" r="3.35"/>
<circle cx="453.1" cy="499.1" r="3.35"/>
<circle cx="461.4" cy="503.7" r="3.35"/>
<circle cx="460.1" cy="509.4" r="3.35"/>
<circle cx="366.3" cy="486.6" r="3.35"/>
<circle cx="452.6" cy="511.0" r="3.35"/>
<circle cx="432.3" cy="466.7" r="3.35"/>
<circle cx="466.2" cy="486.2" r="3.35"/>
<circle cx="323.8" cy="473.8" r="3.35"/>
<circle cx="471.5" cy="517.8" r="3.35"/>
<circle cx="442.6" cy="513.7" r="3.35"/>
<circle cx="476.9" cy="501.3" r="3.35"/>
<circle cx="445.4" cy="495.5" r="3.35"/>
<circle cx="462.8" cy="496.0" r="3.35"/>
<circle cx="469.0" cy="498.1" r="3.35"/>
<circle cx="459.7" cy="518.0" r="3.35"/>
<circle cx="416.7" cy="480.4" r="3.35"/>
<circle cx="449.9" cy="516.3" r="3.35"/>
<circle cx="473.8" cy="512.1" r="3.35"/>
<circle cx="446.8" cy="500.7" r="3.35"/>
<circle cx="468.0" cy="495.2" r="3.35"/>
<circle cx="449.4" cy="500.3" r="3.35"/>
<circle cx="435.8" cy="479.4" r="3.35"/>
<circle cx="476.8" cy="514.8" r="3.35"/>
<circle cx="434.9" cy="497.6" r="3.35"/>
<circle cx="465.7" cy="504.2" r="3.35"/>
<circle cx="425.2" cy="518.1" r="3.35"/>
<circle cx="449.2" cy="516.3" r="3.35"/>
<circle cx="444.6" cy="478.9" r="3.35"/>
<circle cx="447.3" cy="520.6" r="3.35"/>
<circle cx="446.3" cy="475.9" r="3.35"/>
<circle cx="455.3" cy="479.6" r="3.35"/>
<circle cx="438.6" cy="473.8" r="3.35"/>
<circle cx="455.2" cy="501.0" r="3.35"/>
<circle cx="428.8" cy="471.6" r="3.35"/>
<circle cx="436.6" cy="518.5" r="3.35"/>
<circle cx="434.7" cy="508.9" r="3.35"/>
<circle cx="472.4" cy="511.2" r="3.35"/>
<circle cx="423.0" cy="429.0" r="3.35"/>
<circle cx="456.7" cy="507.0" r="3.35"/>
<circle cx="449.3" cy="485.2" r="3.35"/>
<circle cx="477.2" cy="499.3" r="3.35"/>
<circle cx="422.9" cy="468.7" r="3.35"/>
<circle cx="471.9" cy="507.8" r="3.35"/>
<circle cx="422.9" cy="514.1" r="3.35"/>
<circle cx="444.6" cy="493.7" r="3.35"/>
<circle cx="451.9" cy="510.9" r="3.35"/>
<circle cx="409.1" cy="510.0" r="3.35"/>
<circle cx="438.3" cy="469.1" r="3.35"/>
<circle cx="428.4" cy="500.0" r="3.35"/>
<circle cx="451.0" cy="486.7" r="3.35"/>
<circle cx="439.2" cy="514.9" r="3.35"/>
<circle cx="424.1" cy="469.1" r="3.35"/>
<circle cx="464.8" cy="495.6" r="3.35"/>
<circle cx="468.4" cy="492.7" r="3.35"/>
<circle cx="438.1" cy="513.4" r="3.35"/>
<circle cx="460.7" cy="510.1" r="3.35"/>
<circle cx="404.4" cy="441.6" r="3.35"/>
<circle cx="468.2" cy="514.9" r="3.35"/>
<circle cx="448.7" cy="482.5" r="3.35"/>
<circle cx="475.5" cy="511.5" r="3.35"/>
<circle cx="444.7" cy="505.4" r="3.35"/>
<circle cx="423.1" cy="486.4" r="3.35"/>
<circle cx="459.1" cy="508.5" r="3.35"/>
<circle cx="470.3" cy="501.6" r="3.35"/>
<circle cx="444.9" cy="487.1" r="3.35"/>
<circle cx="425.9" cy="505.2" r="3.35"/>
<circle cx="449.3" cy="480.2" r="3.35"/>
<circle cx="472.2" cy="503.4" r="3.35"/>
<circle cx="462.9" cy="503.6" r="3.35"/>
<circle cx="476.4" cy="504.4" r="3.35"/>
<circle cx="425.4" cy="492.9" r="3.35"/>
<circle cx="446.6" cy="494.9" r="3.35"/>
<circle cx="395.0" cy="503.4" r="3.35"/>
<circle cx="408.1" cy="487.5" r="3.35"/>
<circle cx="430.2" cy="482.2" r="3.35"/>
<circle cx="384.0" cy="415.8" r="3.35"/>
<circle cx="458.6" cy="497.1" r="3.35"/>
<circle cx="461.3" cy="516.3" r="3.35"/>
<circle cx="382.8" cy="511.1" r="3.35"/>
<circle cx="467.1" cy="506.3" r="3.35"/>
<circle cx="449.2" cy="503.0" r="3.35"/>
<circle cx="431.6" cy="475.3" r="3.35"/>
<circle cx="466.8" cy="487.1" r="3.35"/>
<circle cx="469.2" cy="507.5" r="3.35"/>
<circle cx="446.7" cy="476.9" r="3.35"/>
<circle cx="416.2" cy="462.8" r="3.35"/>
<circle cx="343.4" cy="506.6" r="3.35"/>
<circle cx="392.8" cy="496.9" r="3.35"/>
<circle cx="358.4" cy="496.1" r="3.35"/>
<circle cx="460.9" cy="498.0" r="3.35"/>
<circle cx="461.3" cy="496.2" r="3.35"/>
<circle cx="460.2" cy="488.7" r="3.35"/>
<circle cx="461.2" cy="491.4" r="3.35"/>
<circle cx="437.5" cy="494.8" r="3.35"/>
<circle cx="367.3" cy="471.9" r="3.35"/>
<circle cx="439.8" cy="471.3" r="3.35"/>
<circle cx="474.0" cy="512.6" r="3.35"/>
<circle cx="467.6" cy="490.6" r="3.35"/>
<circle cx="407.2" cy="491.3" r="3.35"/>
<circle cx="456.5" cy="515.1" r="3.35"/>
<circle cx="378.8" cy="432.8" r="3.35"/>
</g>
<g fill="#ff0000" stroke="#ff0000" stroke-width="1.4" fill-opacity="0.6" stroke-opacity="0.68">
<circle cx="644.8" cy="489.6" r="3.35"/>
<circle cx="618.9" cy="469.0" r="3.35"/>
<circle cx="656.5" cy="504.6" r="3.35"/>
<circle cx="699.1" cy="448.9" r="3.35"/>
<circle cx="628.6" cy="479.7" r="3.35"/>
<circle cx="614.2" cy="471.3" r="3.35"/>
<circle cx="608.5" cy="510.3" r="3.35"/>
<circle cx="590.9" cy="498.6" r="3.35"/>
<circle cx="589.5" cy="490.0" r="3.35"/>
<circle cx="634.5" cy="459.4" r="3.35"/>
<circle cx="649.2" cy="519.1" r="3.35"/>
<circle cx="849.8" cy="376.1" r="3.35"/>
<circle cx="750.4" cy="458.5" r="3.35"/>
<circle cx="623.9" cy="442.7" r="3.35"/>
<circle cx="605.8" cy="497.8" r="3.35"/>
<circle cx="609.6" cy="464.9" r="3.35"/>
<circle cx="610.4" cy="484.2" r="3.35"/>
<circle cx="626.5" cy="520.6" r="3.35"/>
<circle cx="588.2" cy="508.6" r="3.35"/>
<circle cx="700.9" cy="472.5" r="3.35"/>
<circle cx="663.9" cy="424.9" r="3.35"/>
<circle cx="580.2" cy="502.7" r="3.35"/>
<circle cx="621.6" cy="451.3" r="3.35"/>
<circle cx="861.3" cy="453.4" r="3.35"/>
<circle cx="678.6" cy="489.0" r="3.35"/>
<circle cx="656.1" cy="499.9" r="3.35"/>
<circle cx="792.5" cy="478.0" r="3.35"/>
<circle cx="672.7" cy="470.8" r="3.35"/>
<circle cx="664.0" cy="479.8" r="3.35"/>
<circle cx="668.3" cy="475.5" r="3.35"/>
<circle cx="784.6" cy="437.4" r="3.35"/>
<circle cx="675.9" cy="491.4" r="3.35"/>
<circle cx="681.5" cy="434.4" r="3.35"/>
<circle cx="668.3" cy="395.5" r="3.35"/>
<circle cx="649.5" cy="499.8" r="3.35"/>
<circle cx="597.7" cy="484.5" r="3.35"/>
<circle cx="676.0" cy="467.9" r="3.35"/>
<circle cx="814.8" cy="452.5" r="3.35"/>
<circle cx="580.7" cy="513.3" r="3.35"/>
<circle cx="749.2" cy="436.4" r="3.35"/>
<circle cx="691.4" cy="455.0" r="3.35"/>
<circle cx="789.8" cy="429.5" r="3.35"/>
<circle cx="647.1" cy="510.8" r="3.35"/>
<circle cx="693.8" cy="471.8" r="3.35"/>
<circle cx="649.0" cy="507.3" r="3.35"/>
<circle cx="787.9" cy="428.2" r="3.35"/>
<circle cx="734.1" cy="488.6" r="3.35"/>
<circle cx="696.5" cy="456.0" r="3.35"/>
<circle cx="686.4" cy="440.1" r="3.35"/>
<circle cx="663.4" cy="447.8" r="3.35"/>
<circle cx="750.5" cy="454.8" r="3.35"/>
<circle cx="639.7" cy="483.5" r="3.35"/>
<circle cx="614.4" cy="515.5" r="3.35"/>
<circle cx="676.1" cy="390.6" r="3.35"/>
<circle cx="725.7" cy="485.5" r="3.35"/>
<circle cx="594.6" cy="501.7" r="3.35"/>
<circle cx="852.5" cy="425.2" r="3.35"/>
<circle cx="629.9" cy="514.4" r="3.35"/>
<circle cx="679.6" cy="500.9" r="3.35"/>
<circle cx="843.0" cy="468.5" r="3.35"/>
<circle cx="616.0" cy="487.9" r="3.35"/>
<circle cx="684.8" cy="447.1" r="3.35"/>
<circle cx="694.2" cy="465.1" r="3.35"/>
<circle cx="601.8" cy="514.6" r="3.35"/>
<circle cx="709.6" cy="469.5" r="3.35"/>
<circle cx="631.3" cy="507.5" r="3.35"/>
<circle cx="635.2" cy="429.3" r="3.35"/>
<circle cx="639.0" cy="477.4" r="3.35"/>
<circle cx="684.3" cy="470.1" r="3.35"/>
<circle cx="583.2" cy="520.2" r="3.35"/>
<circle cx="776.4" cy="451.1" r="3.35"/>
<circle cx="664.2" cy="478.0" r="3.35"/>
<circle cx="652.6" cy="485.6" r="3.35"/>
<circle cx="640.7" cy="501.6" r="3.35"/>
<circle cx="675.1" cy="474.4" r="3.35"/>
<circle cx="647.6" cy="488.7" r="3.35"/>
<circle cx="656.3" cy="431.3" r="3.35"/>
<circle cx="630.7" cy="479.7" r="3.35"/>
<circle cx="666.7" cy="423.4" r="3.35"/>
<circle cx="597.5" cy="512.1" r="3.35"/>
<circle cx="685.1" cy="429.5" r="3.35"/>
<circle cx="652.2" cy="463.6" r="3.35"/>
<circle cx="594.3" cy="489.0" r="3.35"/>
<circle cx="679.8" cy="490.8" r="3.35"/>
<circle cx="664.3" cy="491.5" r="3.35"/>
<circle cx="659.8" cy="466.7" r="3.35"/>
<circle cx="688.8" cy="463.3" r="3.35"/>
<circle cx="679.3" cy="462.2" r="3.35"/>
<circle cx="671.0" cy="477.7" r="3.35"/>
<circle cx="621.6" cy="512.2" r="3.35"/>
<circle cx="687.9" cy="481.9" r="3.35"/>
<circle cx="632.6" cy="461.9" r="3.35"/>
<circle cx="645.2" cy="501.6" r="3.35"/>
<circle cx="681.0" cy="492.6" r="3.35"/>
<circle cx="655.0" cy="485.8" r="3.35"/>
<circle cx="643.0" cy="502.2" r="3.35"/>
<circle cx="663.8" cy="498.2" r="3.35"/>
<circle cx="666.9" cy="514.6" r="3.35"/>
<circle cx="802.6" cy="438.7" r="3.35"/>
<circle cx="710.8" cy="517.6" r="3.35"/>
<circle cx="657.0" cy="443.9" r="3.35"/>
<circle cx="736.2" cy="471.8" r="3.35"/>
<circle cx="638.5" cy="519.8" r="3.35"/>
<circle cx="618.6" cy="474.8" r="3.35"/>
<circle cx="621.3" cy="515.0" r="3.35"/>
<circle cx="813.4" cy="422.3" r="3.35"/>
<circle cx="644.0" cy="436.6" r="3.35"/>
<circle cx="688.7" cy="479.4" r="3.35"/>
<circle cx="741.0" cy="457.4" r="3.35"/>
<circle cx="642.4" cy="500.2" r="3.35"/>
<circle cx="688.1" cy="494.6" r="3.35"/>
<circle cx="587.8" cy="500.2" r="3.35"/>
<circle cx="610.0" cy="508.6" r="3.35"/>
<circle cx="621.2" cy="520.4" r="3.35"/>
<circle cx="646.0" cy="503.2" r="3.35"/>
<circle cx="589.1" cy="509.2" r="3.35"/>
<circle cx="626.1" cy="502.8" r="3.35"/>
<circle cx="632.8" cy="425.4" r="3.35"/>
<circle cx="700.8" cy="493.6" r="3.35"/>
<circle cx="664.2" cy="519.4" r="3.35"/>
<circle cx="660.4" cy="478.7" r="3.35"/>
<circle cx="696.3" cy="443.5" r="3.35"/>
<circle cx="623.4" cy="468.6" r="3.35"/>
<circle cx="619.1" cy="438.3" r="3.35"/>
<circle cx="695.3" cy="487.7" r="3.35"/>
<circle cx="612.8" cy="517.6" r="3.35"/>
<circle cx="735.1" cy="453.0" r="3.35"/>
<circle cx="638.7" cy="510.2" r="3.35"/>
<circle cx="636.8" cy="518.9" r="3.35"/>
<circle cx="696.0" cy="495.4" r="3.35"/>
<circle cx="604.1" cy="479.9" r="3.35"/>
<circle cx="756.3" cy="459.3" r="3.35"/>
<circle cx="622.6" cy="462.1" r="3.35"/>
<circle cx="618.0" cy="506.0" r="3.35"/>
<circle cx="679.2" cy="376.4" r="3.35"/>
<circle cx="677.3" cy="476.5" r="3.35"/>
<circle cx="718.3" cy="484.3" r="3.35"/>
<circle cx="592.4" cy="485.7" r="3.35"/>
<circle cx="614.7" cy="505.0" r="3.35"/>
<circle cx="747.2" cy="384.1" r="3.35"/>
<circle cx="712.8" cy="462.8" r="3.35"/>
<circle cx="665.9" cy="409.8" r="3.35"/>
<circle cx="598.3" cy="493.2" r="3.35"/>
<circle cx="630.6" cy="498.7" r="3.35"/>
<circle cx="617.3" cy="453.5" r="3.35"/>
<circle cx="618.6" cy="468.0" r="3.35"/>
<circle cx="718.0" cy="467.2" r="3.35"/>
<circle cx="641.7" cy="499.5" r="3.35"/>
<circle cx="625.3" cy="513.0" r="3.35"/>
<circle cx="622.4" cy="496.4" r="3.35"/>
<circle cx="682.8" cy="466.3" r="3.35"/>
<circle cx="699.4" cy="427.0" r="3.35"/>
<circle cx="731.6" cy="371.9" r="3.35"/>
<circle cx="660.1" cy="449.0" r="3.35"/>
<circle cx="673.3" cy="476.7" r="3.35"/>
<circle cx="594.0" cy="486.5" r="3.35"/>
<circle cx="659.8" cy="483.4" r="3.35"/>
<circle cx="584.1" cy="498.5" r="3.35"/>
<circle cx="845.9" cy="468.5" r="3.35"/>
<circle cx="650.6" cy="437.0" r="3.35"/>
<circle cx="644.5" cy="515.2" r="3.35"/>
<circle cx="685.9" cy="465.5" r="3.35"/>
<circle cx="678.2" cy="433.7" r="3.35"/>
<circle cx="654.0" cy="521.4" r="3.35"/>
<circle cx="721.6" cy="520.2" r="3.35"/>
<circle cx="631.0" cy="468.5" r="3.35"/>
<circle cx="603.6" cy="471.7" r="3.35"/>
<circle cx="639.7" cy="413.3" r="3.35"/>
<circle cx="618.9" cy="510.4" r="3.35"/>
<circle cx="611.8" cy="515.9" r="3.35"/>
<circle cx="603.5" cy="501.9" r="3.35"/>
<circle cx="595.0" cy="479.2" r="3.35"/>
<circle cx="653.1" cy="457.2" r="3.35"/>
<circle cx="729.8" cy="474.2" r="3.35"/>
<circle cx="687.7" cy="441.1" r="3.35"/>
<circle cx="650.2" cy="467.6" r="3.35"/>
<circle cx="618.4" cy="481.1" r="3.35"/>
<circle cx="624.9" cy="483.2" r="3.35"/>
<circle cx="827.9" cy="435.7" r="3.35"/>
<circle cx="732.1" cy="474.2" r="3.35"/>
<circle cx="711.7" cy="496.9" r="3.35"/>
<circle cx="673.6" cy="481.7" r="3.35"/>
<circle cx="828.2" cy="420.3" r="3.35"/>
<circle cx="626.4" cy="511.0" r="3.35"/>
<circle cx="651.8" cy="454.3" r="3.35"/>
<circle cx="675.2" cy="466.5" r="3.35"/>
<circle cx="693.4" cy="502.9" r="3.35"/>
<circle cx="597.7" cy="475.6" r="3.35"/>
<circle cx="583.5" cy="514.9" r="3.35"/>
<circle cx="740.9" cy="483.2" r="3.35"/>
<circle cx="638.1" cy="484.2" r="3.35"/>
<circle cx="747.0" cy="512.0" r="3.35"/>
<circle cx="629.1" cy="483.6" r="3.35"/>
<circle cx="626.3" cy="455.0" r="3.35"/>
<circle cx="625.7" cy="473.5" r="3.35"/>
<circle cx="662.3" cy="498.2" r="3.35"/>
<circle cx="648.0" cy="425.7" r="3.35"/>
<circle cx="660.5" cy="491.7" r="3.35"/>
<circle cx="629.8" cy="482.5" r="3.35"/>
<circle cx="578.0" cy="516.5" r="3.35"/>
<circle cx="689.9" cy="473.8" r="3.35"/>
<circle cx="689.4" cy="487.5" r="3.35"/>
<circle cx="597.1" cy="496.5" r="3.35"/>
<circle cx="662.7" cy="464.6" r="3.35"/>
<circle cx="605.5" cy="474.7" r="3.35"/>
<circle cx="623.6" cy="492.3" r="3.35"/>
<circle cx="685.9" cy="481.4" r="3.35"/>
<circle cx="836.7" cy="453.4" r="3.35"/>
<circle cx="666.2" cy="497.1" r="3.35"/>
<circle cx="734.7" cy="480.9" r="3.35"/>
<circle cx="662.0" cy="405.6" r="3.35"/>
<circle cx="680.5" cy="469.8" r="3.35"/>
<circle cx="697.2" cy="408.3" r="3.35"/>
<circle cx="674.2" cy="470.4" r="3.35"/>
<circle cx="668.8" cy="459.7" r="3.35"/>
<circle cx="838.7" cy="470.5" r="3.35"/>
<circle cx="666.0" cy="493.8" r="3.35"/>
<circle cx="690.8" cy="438.0" r="3.35"/>
<circle cx="697.1" cy="499.1" r="3.35"/>
<circle cx="661.8" cy="458.1" r="3.35"/>
<circle cx="652.4" cy="500.9" r="3.35"/>
<circle cx="603.7" cy="479.9" r="3.35"/>
<circle cx="634.2" cy="483.2" r="3.35"/>
<circle cx="678.4" cy="468.3" r="3.35"/>
<circle cx="791.1" cy="447.2" r="3.35"/>
<circle cx="700.4" cy="473.2" r="3.35"/>
<circle cx="622.8" cy="467.4" r="3.35"/>
<circle cx="596.1" cy="484.6" r="3.35"/>
<circle cx="629.1" cy="437.3" r="3.35"/>
<circle cx="662.0" cy="474.2" r="3.35"/>
<circle cx="678.6" cy="464.7" r="3.35"/>
<circle cx="619.1" cy="477.8" r="3.35"/>
<circle cx="583.5" cy="511.9" r="3.35"/>
<circle cx="656.4" cy="482.2" r="3.35"/>
<circle cx="665.2" cy="460.6" r="3.35"/>
<circle cx="704.7" cy="355.5" r="3.35"/>
<circle cx="609.5" cy="511.2" r="3.35"/>
<circle cx="621.3" cy="507.4" r="3.35"/>
<circle cx="694.0" cy="475.9" r="3.35"/>
<circle cx="608.4" cy="468.0" r="3.35"/>
<circle cx="596.7" cy="518.9" r="3.35"/>
<circle cx="648.1" cy="519.0" r="3.35"/>
<circle cx="835.4" cy="458.0" r="3.35"/>
<circle cx="651.7" cy="465.4" r="3.35"/>
<circle cx="623.4" cy="485.2" r="3.35"/>
<circle cx="595.1" cy="515.1" r="3.35"/>
<circle cx="604.9" cy="509.7" r="3.35"/>
<circle cx="695.6" cy="503.2" r="3.35"/>
<circle cx="718.3" cy="395.3" r="3.35"/>
<circle cx="815.7" cy="440.3" r="3.35"/>
<circle cx="848.9" cy="474.8" r="3.35"/>
<circle cx="826.2" cy="425.2" r="3.35"/>
<circle cx="662.2" cy="444.6" r="3.35"/>
<circle cx="626.0" cy="491.0" r="3.35"/>
<circle cx="609.9" cy="474.8" r="3.35"/>
<circle cx="647.8" cy="491.2" r="3.35"/>
<circle cx="612.3" cy="509.7" r="3.35"/>
<circle cx="653.5" cy="518.6" r="3.35"/>
<circle cx="683.2" cy="481.8" r="3.35"/>
<circle cx="694.8" cy="476.9" r="3.35"/>
<circle cx="750.0" cy="412.2" r="3.35"/>
<circle cx="699.3" cy="487.6" r="3.35"/>
<circle cx="654.2" cy="482.5" r="3.35"/>
<circle cx="678.9" cy="438.9" r="3.35"/>
<circle cx="620.2" cy="503.8" r="3.35"/>
<circle cx="653.6" cy="498.8" r="3.35"/>
<circle cx="582.5" cy="518.6" r="3.35"/>
<circle cx="670.0" cy="481.0" r="3.35"/>
<circle cx="732.8" cy="451.5" r="3.35"/>
<circle cx="719.8" cy="467.7" r="3.35"/>
<circle cx="726.4" cy="405.9" r="3.35"/>
<circle cx="632.0" cy="520.8" r="3.35"/>
<circle cx="711.9" cy="500.2" r="3.35"/>
<circle cx="687.7" cy="497.6" r="3.35"/>
<circle cx="652.8" cy="510.5" r="3.35"/>
<circle cx="626.2" cy="474.9" r="3.35"/>
<circle cx="627.7" cy="502.1" r="3.35"/>
<circle cx="734.0" cy="278.1" r="3.35"/>
<circle cx="662.0" cy="418.4" r="3.35"/>
<circle cx="655.3" cy="518.2" r="3.35"/>
<circle cx="692.5" cy="483.6" r="3.35"/>
<circle cx="683.4" cy="483.4" r="3.35"/>
<circle cx="728.4" cy="381.7" r="3.35"/>
<circle cx="664.7" cy="465.2" r="3.35"/>
<circle cx="693.8" cy="489.7" r="3.35"/>
<circle cx="682.3" cy="472.1" r="3.35"/>
<circle cx="814.1" cy="404.6" r="3.35"/>
<circle cx="587.8" cy="515.7" r="3.35"/>
<circle cx="593.2" cy="488.2" r="3.35"/>
<circle cx="762.8" cy="406.7" r="3.35"/>
<circle cx="669.5" cy="501.7" r="3.35"/>
<circle cx="594.0" cy="515.5" r="3.35"/>
</g>
<g stroke="#333" fill="none">
<line x1="86.5" y1="40.3" x2="968.9" y2="40.3" stroke-width="1.2"/>
<line x1="86.5" y1="555.5" x2="968.9" y2="555.5" stroke-width="1.2"/>
<line x1="86.5" y1="40.3" x2="86.5" y2="555.5" stroke-width="1.2"/>
<line x1="968.9" y1="40.3" x2="968.9" y2="555.5" stroke-width="1.8"/>
</g>
<g stroke="#666" fill="none">
<line x1="480.3" y1="555.5" x2="480.3" y2="40.3" stroke-width="2.8" stroke-dasharray="17 7.29"/>
<line x1="574.3" y1="555.5" x2="574.3" y2="40.3" stroke-width="1.6" stroke-dasharray="17 7.29"/>
<line x1="86.5" y1="523.4" x2="968.9" y2="523.4" stroke-width="2.8" stroke-dasharray="16.8 7.4"/>
</g>
<g stroke="#262626">
<line x1="79.0" y1="532.8" x2="86.5" y2="532.8" stroke-width="2"/>
<line x1="79.0" y1="388.3" x2="86.5" y2="388.3" stroke-width="2.4"/>
<line x1="79.0" y1="243.9" x2="86.5" y2="243.9" stroke-width="1.6"/>
<line x1="79.0" y1="99.4" x2="86.5" y2="99.4" stroke-width="3"/>
<line x1="206.1" y1="555.5" x2="206.1" y2="563.0" stroke-width="2"/>
<line x1="366.7" y1="555.5" x2="366.7" y2="563.0" stroke-width="2"/>
<line x1="480.3" y1="555.5" x2="480.3" y2="563.0" stroke-width="2.6"/>
<line x1="527.3" y1="555.5" x2="527.3" y2="563.0" stroke-width="2"/>
<line x1="574.3" y1="555.5" x2="574.3" y2="563.0" stroke-width="1.6"/>
<line x1="687.9" y1="555.5" x2="687.9" y2="563.0" stroke-width="2"/>
<line x1="848.5" y1="555.5" x2="848.5" y2="563.0" stroke-width="2"/>
</g>
<g font-family="'Liberation Serif', serif" font-weight="bold" font-size="22.5" fill="#000">
<text x="74.2" y="540.3" text-anchor="end">0</text>
<text x="74.2" y="395.8" text-anchor="end">20</text>
<text x="74.2" y="251.4" text-anchor="end">40</text>
<text x="74.2" y="106.9" text-anchor="end">60</text>
<text x="206.1" y="581.5" text-anchor="middle">-4</text>
<text x="366.7" y="581.5" text-anchor="middle">-2</text>
<text x="480.3" y="581.5" text-anchor="middle">-0.585</text>
<text x="527.3" y="581.5" text-anchor="middle">0</text>
<text x="574.3" y="581.5" text-anchor="middle">0.585</text>
<text x="687.9" y="581.5" text-anchor="middle">2</text>
<text x="848.5" y="581.5" text-anchor="middle">4</text>
</g>
<text class="rg" x="468.7" y="632.8" font-size="33" fill="#000">Log<tspan font-size="22.5" dy="-3" dx="0.3">2</tspan><tspan dy="3" dx="0"> (FC)</tspan></text>
<text class="rg" transform="translate(24,393) rotate(-90)" font-size="32.5" fill="#000"><tspan x="-1.6" dy="2.2" font-size="39">−</tspan><tspan x="35.5" dy="-2.2">Log</tspan><tspan font-size="22.5" dy="5">10</tspan><tspan dy="-5"> (FDR)</tspan></text>
</g>
<g id="panel-b">
<text class="rg" x="1036.2" y="45.3" font-size="40.5">b</text>
<text class="rg" x="1558" y="24" font-size="32.6" text-anchor="middle" fill="#000">Volcano plot of DEGs in PC-AR vs Model</text>
<g fill="#4d4d4d" stroke="#4d4d4d" stroke-width="1.4" fill-opacity="0.6" stroke-opacity="0.68">
<circle cx="1535.2" cy="527.2" r="3.35"/>
<circle cx="1627.2" cy="505.5" r="3.35"/>
<circle cx="1454.6" cy="501.8" r="3.35"/>
<circle cx="1507.3" cy="513.0" r="3.35"/>
<circle cx="1471.9" cy="512.3" r="3.35"/>
<circle cx="1584.1" cy="520.0" r="3.35"/>
<circle cx="1647.5" cy="508.9" r="3.35"/>
<circle cx="1605.6" cy="500.5" r="3.35"/>
<circle cx="1522.9" cy="501.8" r="3.35"/>
<circle cx="1545.1" cy="523.6" r="3.35"/>
<circle cx="1627.2" cy="519.1" r="3.35"/>
<circle cx="1622.6" cy="503.1" r="3.35"/>
<circle cx="1550.9" cy="528.7" r="3.35"/>
<circle cx="1608.0" cy="499.6" r="3.35"/>
<circle cx="1539.8" cy="523.6" r="3.35"/>
<circle cx="1545.4" cy="521.5" r="3.35"/>
<circle cx="1594.4" cy="528.2" r="3.35"/>
<circle cx="1589.3" cy="523.9" r="3.35"/>
<circle cx="1594.5" cy="525.4" r="3.35"/>
<circle cx="1465.4" cy="505.6" r="3.35"/>
<circle cx="1495.5" cy="513.7" r="3.35"/>
<circle cx="1499.8" cy="504.5" r="3.35"/>
<circle cx="1600.3" cy="516.3" r="3.35"/>
<circle cx="1487.4" cy="507.5" r="3.35"/>
<circle cx="1554.5" cy="527.6" r="3.35"/>
<circle cx="1510.3" cy="518.0" r="3.35"/>
<circle cx="1475.9" cy="515.1" r="3.35"/>
<circle cx="1641.2" cy="504.9" r="3.35"/>
<circle cx="1633.2" cy="517.5" r="3.35"/>
<circle cx="1550.9" cy="530.5" r="3.35"/>
<circle cx="1512.5" cy="521.5" r="3.35"/>
<circle cx="1515.7" cy="500.7" r="3.35"/>
<circle cx="1640.9" cy="521.0" r="3.35"/>
<circle cx="1463.7" cy="503.3" r="3.35"/>
<circle cx="1503.3" cy="506.6" r="3.35"/>
<circle cx="1614.0" cy="511.4" r="3.35"/>
<circle cx="1459.3" cy="510.0" r="3.35"/>
<circle cx="1543.8" cy="529.1" r="3.35"/>
<circle cx="1619.6" cy="516.1" r="3.35"/>
<circle cx="1607.4" cy="519.5" r="3.35"/>
<circle cx="1650.9" cy="500.5" r="3.35"/>
<circle cx="1626.1" cy="513.7" r="3.35"/>
<circle cx="1448.6" cy="506.7" r="3.35"/>
<circle cx="1572.0" cy="529.3" r="3.35"/>
<circle cx="1603.1" cy="518.8" r="3.35"/>
<circle cx="1595.0" cy="514.9" r="3.35"/>
<circle cx="1486.1" cy="510.5" r="3.35"/>
<circle cx="1645.0" cy="513.2" r="3.35"/>
<circle cx="1494.3" cy="515.4" r="3.35"/>
<circle cx="1491.9" cy="508.4" r="3.35"/>
<circle cx="1640.7" cy="516.2" r="3.35"/>
<circle cx="1612.9" cy="516.6" r="3.35"/>
<circle cx="1544.1" cy="520.7" r="3.35"/>
<circle cx="1501.1" cy="501.0" r="3.35"/>
<circle cx="1639.4" cy="500.8" r="3.35"/>
<circle cx="1595.2" cy="528.8" r="3.35"/>
<circle cx="1476.2" cy="511.1" r="3.35"/>
<circle cx="1640.8" cy="510.9" r="3.35"/>
<circle cx="1607.1" cy="508.2" r="3.35"/>
<circle cx="1618.2" cy="501.6" r="3.35"/>
<circle cx="1501.5" cy="521.2" r="3.35"/>
<circle cx="1601.7" cy="501.1" r="3.35"/>
<circle cx="1453.4" cy="510.2" r="3.35"/>
<circle cx="1586.9" cy="529.5" r="3.35"/>
<circle cx="1482.3" cy="511.5" r="3.35"/>
<circle cx="1503.9" cy="516.4" r="3.35"/>
<circle cx="1545.2" cy="528.6" r="3.35"/>
<circle cx="1604.7" cy="525.7" r="3.35"/>
<circle cx="1461.3" cy="502.0" r="3.35"/>
<circle cx="1534.8" cy="525.9" r="3.35"/>
<circle cx="1548.5" cy="529.1" r="3.35"/>
<circle cx="1536.9" cy="514.8" r="3.35"/>
<circle cx="1551.9" cy="527.2" r="3.35"/>
<circle cx="1649.4" cy="509.3" r="3.35"/>
<circle cx="1480.8" cy="502.9" r="3.35"/>
<circle cx="1492.1" cy="521.7" r="3.35"/>
<circle cx="1541.3" cy="518.8" r="3.35"/>
<circle cx="1492.6" cy="502.8" r="3.35"/>
<circle cx="1595.7" cy="516.1" r="3.35"/>
<circle cx="1550.3" cy="528.8" r="3.35"/>
<circle cx="1615.0" cy="514.0" r="3.35"/>
<circle cx="1517.7" cy="514.5" r="3.35"/>
<circle cx="1482.4" cy="508.7" r="3.35"/>
<circle cx="1528.8" cy="510.7" r="3.35"/>
<circle cx="1473.9" cy="517.6" r="3.35"/>
<circle cx="1613.5" cy="506.8" r="3.35"/>
<circle cx="1446.5" cy="506.2" r="3.35"/>
<circle cx="1629.7" cy="500.5" r="3.35"/>
<circle cx="1602.0" cy="524.3" r="3.35"/>
<circle cx="1604.3" cy="498.1" r="3.35"/>
<circle cx="1521.0" cy="502.2" r="3.35"/>
<circle cx="1499.5" cy="518.6" r="3.35"/>
<circle cx="1468.2" cy="510.3" r="3.35"/>
<circle cx="1633.2" cy="507.3" r="3.35"/>
<circle cx="1622.2" cy="522.5" r="3.35"/>
<circle cx="1616.6" cy="524.8" r="3.35"/>
<circle cx="1474.3" cy="516.2" r="3.35"/>
<circle cx="1442.4" cy="507.2" r="3.35"/>
<circle cx="1633.1" cy="515.9" r="3.35"/>
<circle cx="1718.6" cy="501.4" r="3.35"/>
<circle cx="1581.6" cy="530.2" r="3.35"/>
<circle cx="1515.4" cy="504.7" r="3.35"/>
<circle cx="1611.9" cy="510.1" r="3.35"/>
<circle cx="1525.1" cy="512.6" r="3.35"/>
<circle cx="1514.3" cy="504.7" r="3.35"/>
<circle cx="1618.4" cy="504.2" r="3.35"/>
<circle cx="1610.3" cy="515.9" r="3.35"/>
<circle cx="1596.2" cy="511.7" r="3.35"/>
<circle cx="1653.6" cy="517.2" r="3.35"/>
<circle cx="1587.1" cy="523.1" r="3.35"/>
<circle cx="1655.4" cy="513.7" r="3.35"/>
<circle cx="1636.3" cy="517.6" r="3.35"/>
<circle cx="1545.4" cy="524.7" r="3.35"/>
<circle cx="1644.7" cy="518.0" r="3.35"/>
<circle cx="1603.0" cy="526.1" r="3.35"/>
<circle cx="1626.5" cy="500.9" r="3.35"/>
<circle cx="1626.1" cy="522.8" r="3.35"/>
<circle cx="1597.5" cy="527.9" r="3.35"/>
<circle cx="1648.4" cy="506.2" r="3.35"/>
<circle cx="1611.7" cy="511.5" r="3.35"/>
<circle cx="1533.0" cy="519.1" r="3.35"/>
<circle cx="1454.8" cy="506.8" r="3.35"/>
<circle cx="1562.3" cy="530.0" r="3.35"/>
<circle cx="1574.9" cy="525.5" r="3.35"/>
<circle cx="1576.8" cy="524.6" r="3.35"/>
<circle cx="1583.2" cy="519.4" r="3.35"/>
<circle cx="1597.3" cy="506.1" r="3.35"/>
<circle cx="1648.5" cy="501.2" r="3.35"/>
<circle cx="1638.9" cy="500.8" r="3.35"/>
<circle cx="1509.9" cy="507.2" r="3.35"/>
<circle cx="1527.7" cy="517.5" r="3.35"/>
<circle cx="1452.7" cy="511.9" r="3.35"/>
<circle cx="1632.5" cy="500.6" r="3.35"/>
<circle cx="1465.8" cy="515.3" r="3.35"/>
<circle cx="1592.0" cy="511.4" r="3.35"/>
<circle cx="1609.4" cy="517.5" r="3.35"/>
<circle cx="1473.0" cy="506.5" r="3.35"/>
<circle cx="1592.9" cy="528.5" r="3.35"/>
<circle cx="1541.6" cy="523.0" r="3.35"/>
<circle cx="1485.2" cy="517.9" r="3.35"/>
<circle cx="1480.7" cy="510.6" r="3.35"/>
<circle cx="1595.4" cy="507.6" r="3.35"/>
<circle cx="1626.6" cy="520.8" r="3.35"/>
<circle cx="1592.3" cy="513.8" r="3.35"/>
<circle cx="1529.9" cy="508.6" r="3.35"/>
<circle cx="1649.6" cy="515.9" r="3.35"/>
<circle cx="1472.4" cy="503.9" r="3.35"/>
<circle cx="1499.4" cy="508.4" r="3.35"/>
<circle cx="1538.0" cy="515.4" r="3.35"/>
<circle cx="1539.4" cy="516.9" r="3.35"/>
<circle cx="1529.8" cy="509.5" r="3.35"/>
<circle cx="1540.2" cy="521.0" r="3.35"/>
<circle cx="1449.4" cy="502.8" r="3.35"/>
<circle cx="1518.1" cy="523.8" r="3.35"/>
<circle cx="1455.6" cy="501.0" r="3.35"/>
<circle cx="1652.6" cy="518.8" r="3.35"/>
<circle cx="1500.5" cy="510.8" r="3.35"/>
<circle cx="1609.0" cy="507.6" r="3.35"/>
<circle cx="1643.8" cy="513.2" r="3.35"/>
<circle cx="1632.4" cy="520.9" r="3.35"/>
<circle cx="1467.8" cy="507.0" r="3.35"/>
<circle cx="1550.2" cy="525.1" r="3.35"/>
<circle cx="1614.5" cy="500.8" r="3.35"/>
<circle cx="1575.9" cy="524.9" r="3.35"/>
<circle cx="1515.5" cy="513.0" r="3.35"/>
<circle cx="1496.1" cy="518.6" r="3.35"/>
<circle cx="1484.6" cy="516.4" r="3.35"/>
<circle cx="1493.2" cy="513.9" r="3.35"/>
<circle cx="1474.0" cy="514.4" r="3.35"/>
<circle cx="1528.9" cy="507.4" r="3.35"/>
<circle cx="1478.7" cy="504.0" r="3.35"/>
<circle cx="1634.3" cy="516.4" r="3.35"/>
<circle cx="1630.8" cy="508.6" r="3.35"/>
<circle cx="1480.1" cy="513.8" r="3.35"/>
<circle cx="1622.4" cy="508.1" r="3.35"/>
<circle cx="1591.1" cy="522.0" r="3.35"/>
<circle cx="1468.7" cy="507.4" r="3.35"/>
<circle cx="1517.0" cy="508.2" r="3.35"/>
<circle cx="1510.8" cy="510.7" r="3.35"/>
<circle cx="1468.6" cy="503.7" r="3.35"/>
<circle cx="1486.0" cy="515.6" r="3.35"/>
<circle cx="1496.7" cy="518.8" r="3.35"/>
<circle cx="1518.5" cy="526.6" r="3.35"/>
<circle cx="1505.4" cy="521.5" r="3.35"/>
<circle cx="1483.7" cy="511.1" r="3.35"/>
<circle cx="1462.2" cy="511.0" r="3.35"/>
<circle cx="1570.6" cy="528.1" r="3.35"/>
<circle cx="1677.6" cy="507.3" r="3.35"/>
<circle cx="1640.9" cy="502.4" r="3.35"/>
<circle cx="1653.2" cy="509.5" r="3.35"/>
<circle cx="1563.7" cy="530.0" r="3.35"/>
<circle cx="1545.2" cy="521.8" r="3.35"/>
<circle cx="1626.5" cy="515.6" r="3.35"/>
<circle cx="1472.0" cy="513.2" r="3.35"/>
<circle cx="1513.4" cy="514.1" r="3.35"/>
<circle cx="1472.7" cy="519.1" r="3.35"/>
<circle cx="1639.8" cy="503.7" r="3.35"/>
<circle cx="1589.1" cy="529.6" r="3.35"/>
<circle cx="1678.2" cy="518.4" r="3.35"/>
<circle cx="1540.3" cy="528.0" r="3.35"/>
<circle cx="1596.5" cy="516.6" r="3.35"/>
<circle cx="1487.1" cy="502.8" r="3.35"/>
<circle cx="1607.1" cy="495.9" r="3.35"/>
<circle cx="1459.0" cy="514.9" r="3.35"/>
<circle cx="1641.9" cy="514.4" r="3.35"/>
<circle cx="1506.3" cy="509.4" r="3.35"/>
<circle cx="1598.0" cy="524.5" r="3.35"/>
<circle cx="1462.5" cy="515.0" r="3.35"/>
<circle cx="1574.5" cy="529.6" r="3.35"/>
<circle cx="1494.4" cy="506.0" r="3.35"/>
<circle cx="1560.0" cy="529.7" r="3.35"/>
<circle cx="1648.0" cy="510.2" r="3.35"/>
<circle cx="1503.6" cy="500.8" r="3.35"/>
<circle cx="1520.9" cy="500.4" r="3.35"/>
<circle cx="1606.7" cy="502.4" r="3.35"/>
<circle cx="1604.9" cy="523.4" r="3.35"/>
<circle cx="1469.9" cy="515.7" r="3.35"/>
<circle cx="1474.8" cy="515.9" r="3.35"/>
<circle cx="1440.6" cy="500.7" r="3.35"/>
<circle cx="1497.2" cy="503.9" r="3.35"/>
<circle cx="1466.3" cy="503.1" r="3.35"/>
<circle cx="1596.9" cy="511.3" r="3.35"/>
<circle cx="1575.6" cy="526.0" r="3.35"/>
<circle cx="1533.9" cy="512.6" r="3.35"/>
<circle cx="1597.7" cy="510.7" r="3.35"/>
<circle cx="1531.2" cy="528.6" r="3.35"/>
<circle cx="1594.7" cy="514.6" r="3.35"/>
<circle cx="1522.8" cy="503.3" r="3.35"/>
<circle cx="1451.6" cy="504.1" r="3.35"/>
<circle cx="1460.1" cy="510.3" r="3.35"/>
<circle cx="1493.4" cy="509.8" r="3.35"/>
<circle cx="1579.9" cy="527.2" r="3.35"/>
<circle cx="1528.8" cy="523.1" r="3.35"/>
<circle cx="1628.0" cy="521.6" r="3.35"/>
<circle cx="1597.7" cy="517.6" r="3.35"/>
<circle cx="1590.7" cy="529.2" r="3.35"/>
<circle cx="1653.9" cy="500.8" r="3.35"/>
<circle cx="1511.0" cy="526.5" r="3.35"/>
<circle cx="1589.4" cy="521.1" r="3.35"/>
<circle cx="1602.4" cy="515.2" r="3.35"/>
<circle cx="1445.0" cy="510.7" r="3.35"/>
<circle cx="1614.3" cy="513.7" r="3.35"/>
<circle cx="1613.7" cy="502.4" r="3.35"/>
<circle cx="1623.1" cy="524.3" r="3.35"/>
</g>
<g fill="#006400" stroke="#006400" stroke-width="1.4" fill-opacity="0.6" stroke-opacity="0.68">
<circle cx="1317.0" cy="404.5" r="3.35"/>
<circle cx="1405.0" cy="426.2" r="3.35"/>
<circle cx="1409.6" cy="474.2" r="3.35"/>
<circle cx="1460.9" cy="478.1" r="3.35"/>
<circle cx="1443.9" cy="497.7" r="3.35"/>
<circle cx="1478.7" cy="485.5" r="3.35"/>
<circle cx="1445.1" cy="483.6" r="3.35"/>
<circle cx="1401.4" cy="451.3" r="3.35"/>
<circle cx="1443.4" cy="483.1" r="3.35"/>
<circle cx="1465.9" cy="495.1" r="3.35"/>
<circle cx="1450.7" cy="489.7" r="3.35"/>
<circle cx="1446.4" cy="452.8" r="3.35"/>
<circle cx="1447.5" cy="427.5" r="3.35"/>
<circle cx="1514.9" cy="493.4" r="3.35"/>
<circle cx="1404.1" cy="458.1" r="3.35"/>
<circle cx="1476.1" cy="443.6" r="3.35"/>
<circle cx="1497.7" cy="473.7" r="3.35"/>
<circle cx="1441.4" cy="479.9" r="3.35"/>
<circle cx="1379.9" cy="441.7" r="3.35"/>
<circle cx="1473.6" cy="472.1" r="3.35"/>
<circle cx="1444.4" cy="479.6" r="3.35"/>
<circle cx="1493.5" cy="481.5" r="3.35"/>
<circle cx="1448.4" cy="464.5" r="3.35"/>
<circle cx="1431.3" cy="467.9" r="3.35"/>
<circle cx="1475.7" cy="479.2" r="3.35"/>
<circle cx="1417.0" cy="465.7" r="3.35"/>
<circle cx="1467.8" cy="457.8" r="3.35"/>
<circle cx="1441.1" cy="467.1" r="3.35"/>
<circle cx="1451.2" cy="436.9" r="3.35"/>
<circle cx="1315.8" cy="406.8" r="3.35"/>
<circle cx="1467.3" cy="465.2" r="3.35"/>
<circle cx="1434.4" cy="498.3" r="3.35"/>
<circle cx="1291.6" cy="463.0" r="3.35"/>
<circle cx="1448.2" cy="489.9" r="3.35"/>
<circle cx="1439.8" cy="444.6" r="3.35"/>
<circle cx="1454.9" cy="449.2" r="3.35"/>
<circle cx="1480.2" cy="454.9" r="3.35"/>
<circle cx="1454.7" cy="479.8" r="3.35"/>
<circle cx="1488.4" cy="493.0" r="3.35"/>
<circle cx="1480.5" cy="477.0" r="3.35"/>
<circle cx="1446.8" cy="447.8" r="3.35"/>
<circle cx="1441.8" cy="490.8" r="3.35"/>
<circle cx="1444.1" cy="462.2" r="3.35"/>
<circle cx="1479.9" cy="482.4" r="3.35"/>
<circle cx="1410.3" cy="449.0" r="3.35"/>
<circle cx="1422.0" cy="411.0" r="3.35"/>
<circle cx="1499.2" cy="471.8" r="3.35"/>
<circle cx="1486.1" cy="459.3" r="3.35"/>
<circle cx="1350.0" cy="424.0" r="3.35"/>
<circle cx="1483.6" cy="492.1" r="3.35"/>
<circle cx="1384.5" cy="399.2" r="3.35"/>
<circle cx="1500.1" cy="478.5" r="3.35"/>
<circle cx="1441.6" cy="494.5" r="3.35"/>
<circle cx="1463.9" cy="478.7" r="3.35"/>
<circle cx="1472.2" cy="428.4" r="3.35"/>
<circle cx="1458.7" cy="449.7" r="3.35"/>
<circle cx="1506.0" cy="490.2" r="3.35"/>
<circle cx="1429.1" cy="442.7" r="3.35"/>
<circle cx="1475.6" cy="482.3" r="3.35"/>
<circle cx="1495.6" cy="464.1" r="3.35"/>
<circle cx="1478.4" cy="446.9" r="3.35"/>
<circle cx="1432.9" cy="491.5" r="3.35"/>
<circle cx="1465.3" cy="488.9" r="3.35"/>
<circle cx="1489.5" cy="466.3" r="3.35"/>
<circle cx="1459.6" cy="465.8" r="3.35"/>
<circle cx="1463.0" cy="470.7" r="3.35"/>
<circle cx="1452.1" cy="457.7" r="3.35"/>
<circle cx="1475.8" cy="448.4" r="3.35"/>
<circle cx="1420.5" cy="416.2" r="3.35"/>
<circle cx="1463.3" cy="428.3" r="3.35"/>
<circle cx="1442.5" cy="430.8" r="3.35"/>
<circle cx="1431.0" cy="486.2" r="3.35"/>
<circle cx="1465.1" cy="473.7" r="3.35"/>
<circle cx="1319.6" cy="484.1" r="3.35"/>
<circle cx="1480.7" cy="464.2" r="3.35"/>
<circle cx="1451.7" cy="489.9" r="3.35"/>
<circle cx="1452.3" cy="493.6" r="3.35"/>
<circle cx="1443.6" cy="441.7" r="3.35"/>
<circle cx="1467.3" cy="447.8" r="3.35"/>
<circle cx="1314.8" cy="307.0" r="3.35"/>
<circle cx="1476.2" cy="448.6" r="3.35"/>
<circle cx="1460.9" cy="469.0" r="3.35"/>
<circle cx="1444.8" cy="461.4" r="3.35"/>
<circle cx="1483.9" cy="469.2" r="3.35"/>
<circle cx="1336.6" cy="462.6" r="3.35"/>
<circle cx="1473.7" cy="490.6" r="3.35"/>
<circle cx="1394.2" cy="464.4" r="3.35"/>
<circle cx="1482.6" cy="493.2" r="3.35"/>
<circle cx="1464.0" cy="445.1" r="3.35"/>
<circle cx="1474.5" cy="435.1" r="3.35"/>
<circle cx="1452.5" cy="497.5" r="3.35"/>
<circle cx="1465.8" cy="439.4" r="3.35"/>
<circle cx="1482.3" cy="485.6" r="3.35"/>
<circle cx="1449.4" cy="490.5" r="3.35"/>
<circle cx="1485.1" cy="482.6" r="3.35"/>
<circle cx="1421.6" cy="497.1" r="3.35"/>
<circle cx="1442.7" cy="462.7" r="3.35"/>
<circle cx="1479.8" cy="477.2" r="3.35"/>
<circle cx="1457.1" cy="477.9" r="3.35"/>
<circle cx="1449.3" cy="439.8" r="3.35"/>
<circle cx="1481.6" cy="488.0" r="3.35"/>
<circle cx="1456.7" cy="447.0" r="3.35"/>
<circle cx="1460.8" cy="494.1" r="3.35"/>
<circle cx="1453.1" cy="433.2" r="3.35"/>
<circle cx="1473.6" cy="447.0" r="3.35"/>
<circle cx="1464.0" cy="470.4" r="3.35"/>
<circle cx="1498.6" cy="483.4" r="3.35"/>
<circle cx="1483.1" cy="489.4" r="3.35"/>
<circle cx="1466.6" cy="422.5" r="3.35"/>
<circle cx="1442.8" cy="482.9" r="3.35"/>
<circle cx="1393.2" cy="423.0" r="3.35"/>
<circle cx="1475.0" cy="447.9" r="3.35"/>
<circle cx="1467.2" cy="491.5" r="3.35"/>
<circle cx="1485.2" cy="460.7" r="3.35"/>
<circle cx="1434.2" cy="395.2" r="3.35"/>
<circle cx="1420.0" cy="461.3" r="3.35"/>
<circle cx="1451.6" cy="487.3" r="3.35"/>
<circle cx="1416.2" cy="437.0" r="3.35"/>
<circle cx="1454.6" cy="458.2" r="3.35"/>
<circle cx="1483.7" cy="474.9" r="3.35"/>
<circle cx="1392.4" cy="497.4" r="3.35"/>
<circle cx="1468.6" cy="495.8" r="3.35"/>
<circle cx="1467.9" cy="485.2" r="3.35"/>
<circle cx="1508.1" cy="489.3" r="3.35"/>
<circle cx="1436.1" cy="466.3" r="3.35"/>
<circle cx="1364.5" cy="412.8" r="3.35"/>
<circle cx="1515.0" cy="493.0" r="3.35"/>
<circle cx="1465.5" cy="464.6" r="3.35"/>
<circle cx="1476.6" cy="495.8" r="3.35"/>
<circle cx="1500.3" cy="489.6" r="3.35"/>
<circle cx="1480.0" cy="474.7" r="3.35"/>
<circle cx="1459.6" cy="479.9" r="3.35"/>
<circle cx="1491.3" cy="474.0" r="3.35"/>
<circle cx="1482.3" cy="481.1" r="3.35"/>
<circle cx="1386.2" cy="419.0" r="3.35"/>
<circle cx="1482.1" cy="445.8" r="3.35"/>
<circle cx="1461.1" cy="434.1" r="3.35"/>
<circle cx="1465.7" cy="497.2" r="3.35"/>
<circle cx="1447.3" cy="443.1" r="3.35"/>
<circle cx="1463.3" cy="428.3" r="3.35"/>
<circle cx="1496.4" cy="497.6" r="3.35"/>
<circle cx="1485.5" cy="473.6" r="3.35"/>
<circle cx="1473.9" cy="479.8" r="3.35"/>
<circle cx="1441.8" cy="489.9" r="3.35"/>
<circle cx="1455.9" cy="406.1" r="3.35"/>
<circle cx="1410.9" cy="480.8" r="3.35"/>
<circle cx="1477.4" cy="457.5" r="3.35"/>
<circle cx="1466.3" cy="491.3" r="3.35"/>
<circle cx="1489.1" cy="464.3" r="3.35"/>
<circle cx="1473.5" cy="442.7" r="3.35"/>
<circle cx="1465.2" cy="472.9" r="3.35"/>
<circle cx="1428.9" cy="454.2" r="3.35"/>
<circle cx="1444.5" cy="465.5" r="3.35"/>
<circle cx="1444.8" cy="485.9" r="3.35"/>
<circle cx="1457.7" cy="470.1" r="3.35"/>
<circle cx="1392.5" cy="402.5" r="3.35"/>
<circle cx="1495.0" cy="478.0" r="3.35"/>
<circle cx="1438.8" cy="408.8" r="3.35"/>
<circle cx="1494.7" cy="488.8" r="3.35"/>
<circle cx="1441.9" cy="470.9" r="3.35"/>
<circle cx="1481.0" cy="473.6" r="3.35"/>
<circle cx="1455.7" cy="494.2" r="3.35"/>
<circle cx="1443.2" cy="460.1" r="3.35"/>
</g>
<g fill="#ff0000" stroke="#ff0000" stroke-width="1.4" fill-opacity="0.6" stroke-opacity="0.68">
<circle cx="1636.6" cy="472.3" r="3.35"/>
<circle cx="1626.4" cy="475.1" r="3.35"/>
<circle cx="1631.8" cy="470.7" r="3.35"/>
<circle cx="1657.5" cy="491.4" r="3.35"/>
<circle cx="1649.1" cy="485.7" r="3.35"/>
<circle cx="1685.5" cy="450.7" r="3.35"/>
<circle cx="1655.7" cy="497.5" r="3.35"/>
<circle cx="1742.0" cy="478.4" r="3.35"/>
<circle cx="1634.5" cy="491.8" r="3.35"/>
<circle cx="1646.3" cy="494.9" r="3.35"/>
<circle cx="1626.7" cy="477.6" r="3.35"/>
<circle cx="1658.5" cy="473.2" r="3.35"/>
<circle cx="1646.4" cy="489.0" r="3.35"/>
<circle cx="1674.4" cy="480.9" r="3.35"/>
<circle cx="1936.8" cy="440.0" r="3.35"/>
<circle cx="1669.3" cy="494.1" r="3.35"/>
<circle cx="1626.3" cy="490.7" r="3.35"/>
<circle cx="1876.7" cy="448.7" r="3.35"/>
<circle cx="1678.2" cy="496.0" r="3.35"/>
<circle cx="1619.5" cy="487.3" r="3.35"/>
<circle cx="1637.8" cy="496.5" r="3.35"/>
<circle cx="1681.2" cy="476.3" r="3.35"/>
<circle cx="1658.8" cy="480.0" r="3.35"/>
<circle cx="1688.4" cy="454.3" r="3.35"/>
<circle cx="1643.7" cy="487.6" r="3.35"/>
<circle cx="1630.9" cy="472.5" r="3.35"/>
<circle cx="1628.9" cy="489.8" r="3.35"/>
<circle cx="1627.4" cy="498.3" r="3.35"/>
<circle cx="1655.6" cy="492.8" r="3.35"/>
<circle cx="1711.4" cy="411.7" r="3.35"/>
<circle cx="1664.7" cy="452.9" r="3.35"/>
<circle cx="1625.7" cy="486.1" r="3.35"/>
<circle cx="1628.5" cy="491.2" r="3.35"/>
<circle cx="1646.8" cy="473.7" r="3.35"/>
<circle cx="1690.2" cy="439.9" r="3.35"/>
<circle cx="1663.5" cy="488.2" r="3.35"/>
<circle cx="1649.1" cy="471.1" r="3.35"/>
<circle cx="1660.5" cy="487.2" r="3.35"/>
<circle cx="1651.1" cy="475.9" r="3.35"/>
<circle cx="1646.6" cy="475.2" r="3.35"/>
<circle cx="1627.3" cy="492.9" r="3.35"/>
<circle cx="1644.7" cy="490.3" r="3.35"/>
<circle cx="1639.5" cy="475.4" r="3.35"/>
<circle cx="1640.8" cy="488.6" r="3.35"/>
<circle cx="1646.4" cy="477.6" r="3.35"/>
<circle cx="1620.9" cy="498.7" r="3.35"/>
<circle cx="1635.5" cy="487.4" r="3.35"/>
<circle cx="1628.2" cy="486.9" r="3.35"/>
<circle cx="1636.9" cy="489.1" r="3.35"/>
<circle cx="1625.9" cy="492.4" r="3.35"/>
<circle cx="1678.4" cy="482.9" r="3.35"/>
<circle cx="1629.9" cy="493.6" r="3.35"/>
<circle cx="1629.2" cy="483.6" r="3.35"/>
<circle cx="1630.2" cy="467.6" r="3.35"/>
<circle cx="1706.4" cy="455.7" r="3.35"/>
<circle cx="1641.7" cy="493.2" r="3.35"/>
<circle cx="1661.1" cy="450.3" r="3.35"/>
<circle cx="1662.9" cy="460.6" r="3.35"/>
<circle cx="1664.1" cy="468.8" r="3.35"/>
<circle cx="1677.8" cy="490.1" r="3.35"/>
<circle cx="1773.4" cy="484.8" r="3.35"/>
<circle cx="1721.1" cy="436.9" r="3.35"/>
<circle cx="1664.1" cy="483.9" r="3.35"/>
</g>
<g fill="#4d4d4d" stroke="#4d4d4d" stroke-width="1.4" fill-opacity="0.6" stroke-opacity="0.68">
<circle cx="1605.7" cy="526.7" r="3.35"/>
<circle cx="1615.2" cy="506.5" r="3.35"/>
<circle cx="1631.2" cy="504.3" r="3.35"/>
<circle cx="1608.1" cy="507.0" r="3.35"/>
<circle cx="1654.4" cy="516.5" r="3.35"/>
<circle cx="1639.3" cy="517.6" r="3.35"/>
<circle cx="1619.7" cy="520.8" r="3.35"/>
<circle cx="1639.5" cy="519.4" r="3.35"/>
<circle cx="1468.2" cy="505.1" r="3.35"/>
<circle cx="1468.3" cy="512.7" r="3.35"/>
<circle cx="1631.5" cy="520.9" r="3.35"/>
<circle cx="1600.5" cy="502.3" r="3.35"/>
<circle cx="1612.9" cy="508.9" r="3.35"/>
<circle cx="1539.7" cy="525.7" r="3.35"/>
<circle cx="1536.3" cy="518.2" r="3.35"/>
<circle cx="1622.2" cy="510.8" r="3.35"/>
<circle cx="1597.2" cy="525.4" r="3.35"/>
<circle cx="1476.7" cy="500.5" r="3.35"/>
<circle cx="1538.5" cy="519.0" r="3.35"/>
<circle cx="1454.6" cy="508.6" r="3.35"/>
<circle cx="1641.8" cy="500.7" r="3.35"/>
<circle cx="1597.0" cy="513.6" r="3.35"/>
<circle cx="1310.7" cy="504.1" r="3.35"/>
<circle cx="1622.5" cy="519.2" r="3.35"/>
<circle cx="1513.9" cy="512.8" r="3.35"/>
<circle cx="1633.0" cy="518.5" r="3.35"/>
<circle cx="1602.3" cy="501.9" r="3.35"/>
<circle cx="1575.5" cy="528.2" r="3.35"/>
<circle cx="1602.4" cy="526.2" r="3.35"/>
<circle cx="1479.6" cy="500.6" r="3.35"/>
<circle cx="1473.8" cy="502.2" r="3.35"/>
<circle cx="1491.5" cy="500.9" r="3.35"/>
<circle cx="1584.1" cy="519.2" r="3.35"/>
<circle cx="1502.5" cy="506.8" r="3.35"/>
<circle cx="1611.0" cy="524.2" r="3.35"/>
<circle cx="1578.5" cy="529.7" r="3.35"/>
<circle cx="1656.6" cy="500.9" r="3.35"/>
<circle cx="1494.9" cy="516.1" r="3.35"/>
<circle cx="1615.6" cy="516.1" r="3.35"/>
<circle cx="1603.8" cy="527.3" r="3.35"/>
<circle cx="1544.0" cy="523.0" r="3.35"/>
<circle cx="1504.0" cy="520.5" r="3.35"/>
<circle cx="1598.5" cy="520.5" r="3.35"/>
<circle cx="1488.6" cy="500.7" r="3.35"/>
<circle cx="1526.3" cy="505.1" r="3.35"/>
<circle cx="1637.7" cy="518.5" r="3.35"/>
<circle cx="1623.8" cy="513.2" r="3.35"/>
<circle cx="1470.9" cy="500.6" r="3.35"/>
<circle cx="1519.4" cy="524.1" r="3.35"/>
<circle cx="1592.5" cy="520.9" r="3.35"/>
<circle cx="1522.9" cy="511.9" r="3.35"/>
<circle cx="1453.4" cy="512.1" r="3.35"/>
<circle cx="1469.4" cy="513.3" r="3.35"/>
<circle cx="1575.5" cy="530.1" r="3.35"/>
<circle cx="1471.9" cy="505.4" r="3.35"/>
<circle cx="1598.3" cy="518.9" r="3.35"/>
<circle cx="1443.5" cy="505.6" r="3.35"/>
<circle cx="1533.4" cy="513.3" r="3.35"/>
<circle cx="1583.2" cy="526.2" r="3.35"/>
<circle cx="1597.8" cy="513.0" r="3.35"/>
<circle cx="1619.1" cy="507.8" r="3.35"/>
<circle cx="1522.0" cy="509.1" r="3.35"/>
<circle cx="1598.4" cy="522.4" r="3.35"/>
<circle cx="1568.3" cy="529.1" r="3.35"/>
<circle cx="1623.2" cy="522.5" r="3.35"/>
<circle cx="1640.1" cy="511.7" r="3.35"/>
<circle cx="1605.6" cy="504.1" r="3.35"/>
<circle cx="1584.3" cy="518.5" r="3.35"/>
<circle cx="1496.4" cy="505.9" r="3.35"/>
<circle cx="1644.6" cy="503.9" r="3.35"/>
<circle cx="1529.6" cy="514.0" r="3.35"/>
<circle cx="1573.4" cy="526.1" r="3.35"/>
<circle cx="1536.0" cy="513.8" r="3.35"/>
<circle cx="1640.0" cy="513.6" r="3.35"/>
<circle cx="1545.4" cy="522.0" r="3.35"/>
<circle cx="1637.4" cy="500.7" r="3.35"/>
<circle cx="1528.2" cy="506.8" r="3.35"/>
<circle cx="1683.0" cy="509.1" r="3.35"/>
<circle cx="1519.3" cy="512.1" r="3.35"/>
<circle cx="1587.4" cy="527.6" r="3.35"/>
<circle cx="1524.7" cy="503.2" r="3.35"/>
<circle cx="1564.1" cy="531.0" r="3.35"/>
<circle cx="1478.7" cy="507.8" r="3.35"/>
<circle cx="1623.3" cy="514.7" r="3.35"/>
<circle cx="1495.0" cy="509.3" r="3.35"/>
<circle cx="1503.2" cy="516.5" r="3.35"/>
<circle cx="1630.3" cy="520.1" r="3.35"/>
<circle cx="1652.2" cy="504.7" r="3.35"/>
<circle cx="1631.9" cy="522.3" r="3.35"/>
<circle cx="1609.3" cy="494.2" r="3.35"/>
<circle cx="1584.5" cy="518.4" r="3.35"/>
<circle cx="1547.3" cy="522.9" r="3.35"/>
<circle cx="1504.4" cy="507.8" r="3.35"/>
<circle cx="1456.7" cy="511.2" r="3.35"/>
<circle cx="1450.8" cy="508.2" r="3.35"/>
<circle cx="1470.2" cy="517.7" r="3.35"/>
<circle cx="1494.9" cy="509.6" r="3.35"/>
<circle cx="1521.6" cy="519.5" r="3.35"/>
<circle cx="1572.9" cy="530.4" r="3.35"/>
<circle cx="1481.4" cy="515.6" r="3.35"/>
<circle cx="1634.1" cy="521.2" r="3.35"/>
<circle cx="1487.9" cy="504.2" r="3.35"/>
<circle cx="1584.0" cy="529.4" r="3.35"/>
<circle cx="1520.0" cy="516.7" r="3.35"/>
<circle cx="1501.7" cy="523.5" r="3.35"/>
<circle cx="1587.8" cy="527.0" r="3.35"/>
<circle cx="1592.9" cy="516.9" r="3.35"/>
<circle cx="1651.8" cy="502.0" r="3.35"/>
<circle cx="1577.4" cy="523.8" r="3.35"/>
<circle cx="1595.7" cy="511.8" r="3.35"/>
<circle cx="1639.6" cy="503.4" r="3.35"/>
<circle cx="1565.5" cy="529.9" r="3.35"/>
<circle cx="1462.3" cy="506.1" r="3.35"/>
<circle cx="1520.0" cy="499.9" r="3.35"/>
<circle cx="1541.8" cy="523.6" r="3.35"/>
<circle cx="1627.8" cy="502.0" r="3.35"/>
<circle cx="1499.0" cy="514.0" r="3.35"/>
<circle cx="1568.8" cy="530.3" r="3.35"/>
<circle cx="1624.9" cy="515.1" r="3.35"/>
<circle cx="1467.7" cy="500.5" r="3.35"/>
<circle cx="1596.5" cy="518.1" r="3.35"/>
<circle cx="1472.0" cy="505.5" r="3.35"/>
<circle cx="1586.7" cy="529.0" r="3.35"/>
<circle cx="1626.5" cy="506.9" r="3.35"/>
<circle cx="1544.3" cy="521.7" r="3.35"/>
<circle cx="1646.6" cy="520.3" r="3.35"/>
<circle cx="1634.9" cy="516.9" r="3.35"/>
<circle cx="1531.8" cy="515.5" r="3.35"/>
<circle cx="1503.3" cy="503.9" r="3.35"/>
<circle cx="1695.2" cy="501.0" r="3.35"/>
<circle cx="1629.9" cy="516.6" r="3.35"/>
<circle cx="1525.3" cy="523.8" r="3.35"/>
<circle cx="1485.7" cy="504.1" r="3.35"/>
<circle cx="1553.7" cy="527.2" r="3.35"/>
<circle cx="1600.4" cy="504.3" r="3.35"/>
<circle cx="1490.6" cy="522.7" r="3.35"/>
<circle cx="1614.9" cy="519.7" r="3.35"/>
<circle cx="1601.0" cy="522.7" r="3.35"/>
<circle cx="1589.6" cy="513.6" r="3.35"/>
<circle cx="1728.5" cy="509.1" r="3.35"/>
<circle cx="1608.8" cy="500.7" r="3.35"/>
<circle cx="1515.0" cy="513.8" r="3.35"/>
<circle cx="1517.7" cy="498.7" r="3.35"/>
<circle cx="1514.6" cy="526.0" r="3.35"/>
<circle cx="1478.7" cy="505.8" r="3.35"/>
<circle cx="1517.8" cy="515.1" r="3.35"/>
<circle cx="1586.2" cy="518.8" r="3.35"/>
<circle cx="1510.5" cy="503.4" r="3.35"/>
<circle cx="1443.2" cy="501.8" r="3.35"/>
<circle cx="1600.4" cy="521.4" r="3.35"/>
<circle cx="1461.0" cy="507.4" r="3.35"/>
<circle cx="1638.9" cy="507.0" r="3.35"/>
<circle cx="1592.7" cy="526.9" r="3.35"/>
<circle cx="1467.3" cy="511.5" r="3.35"/>
<circle cx="1525.1" cy="515.2" r="3.35"/>
<circle cx="1541.3" cy="523.2" r="3.35"/>
<circle cx="1504.3" cy="514.2" r="3.35"/>
<circle cx="1522.5" cy="527.9" r="3.35"/>
<circle cx="1638.6" cy="506.2" r="3.35"/>
<circle cx="1725.8" cy="517.5" r="3.35"/>
<circle cx="1540.3" cy="526.7" r="3.35"/>
<circle cx="1495.5" cy="506.3" r="3.35"/>
<circle cx="1644.1" cy="504.2" r="3.35"/>
<circle cx="1446.0" cy="507.5" r="3.35"/>
<circle cx="1512.5" cy="511.1" r="3.35"/>
<circle cx="1446.2" cy="503.0" r="3.35"/>
<circle cx="1608.3" cy="494.9" r="3.35"/>
<circle cx="1555.7" cy="529.7" r="3.35"/>
<circle cx="1645.9" cy="515.6" r="3.35"/>
<circle cx="1513.3" cy="511.8" r="3.35"/>
<circle cx="1493.5" cy="512.3" r="3.35"/>
<circle cx="1623.6" cy="500.7" r="3.35"/>
<circle cx="1594.3" cy="525.0" r="3.35"/>
<circle cx="1652.8" cy="508.9" r="3.35"/>
<circle cx="1629.8" cy="503.1" r="3.35"/>
<circle cx="1623.5" cy="510.8" r="3.35"/>
<circle cx="1599.6" cy="503.3" r="3.35"/>
<circle cx="1496.9" cy="523.9" r="3.35"/>
<circle cx="1607.7" cy="497.6" r="3.35"/>
<circle cx="1453.4" cy="509.6" r="3.35"/>
<circle cx="1467.0" cy="501.4" r="3.35"/>
<circle cx="1507.4" cy="506.2" r="3.35"/>
<circle cx="1621.1" cy="515.5" r="3.35"/>
<circle cx="1610.0" cy="515.2" r="3.35"/>
<circle cx="1635.7" cy="500.8" r="3.35"/>
<circle cx="1517.2" cy="516.2" r="3.35"/>
<circle cx="1625.0" cy="514.3" r="3.35"/>
<circle cx="1628.7" cy="523.0" r="3.35"/>
<circle cx="1637.0" cy="502.7" r="3.35"/>
<circle cx="1607.6" cy="506.4" r="3.35"/>
<circle cx="1616.0" cy="519.7" r="3.35"/>
<circle cx="1593.5" cy="527.0" r="3.35"/>
<circle cx="1598.1" cy="504.8" r="3.35"/>
<circle cx="1464.6" cy="500.5" r="3.35"/>
<circle cx="1513.0" cy="516.8" r="3.35"/>
<circle cx="1608.2" cy="522.2" r="3.35"/>
<circle cx="1498.9" cy="502.2" r="3.35"/>
<circle cx="1556.0" cy="530.4" r="3.35"/>
<circle cx="1513.4" cy="522.3" r="3.35"/>
<circle cx="1571.6" cy="527.2" r="3.35"/>
<circle cx="1468.1" cy="512.3" r="3.35"/>
<circle cx="1530.2" cy="509.1" r="3.35"/>
<circle cx="1588.8" cy="514.7" r="3.35"/>
<circle cx="1486.6" cy="507.8" r="3.35"/>
<circle cx="1509.6" cy="500.8" r="3.35"/>
<circle cx="1588.0" cy="515.4" r="3.35"/>
<circle cx="1637.6" cy="513.9" r="3.35"/>
<circle cx="1527.1" cy="515.4" r="3.35"/>
<circle cx="1468.8" cy="501.5" r="3.35"/>
<circle cx="1605.2" cy="497.3" r="3.35"/>
<circle cx="1480.6" cy="524.0" r="3.35"/>
<circle cx="1515.8" cy="497.5" r="3.35"/>
<circle cx="1600.6" cy="525.4" r="3.35"/>
<circle cx="1622.7" cy="521.7" r="3.35"/>
<circle cx="1594.8" cy="508.3" r="3.35"/>
<circle cx="1611.5" cy="520.7" r="3.35"/>
<circle cx="1617.3" cy="501.9" r="3.35"/>
<circle cx="1456.8" cy="507.9" r="3.35"/>
<circle cx="1478.1" cy="517.9" r="3.35"/>
<circle cx="1508.2" cy="501.4" r="3.35"/>
<circle cx="1610.3" cy="522.1" r="3.35"/>
<circle cx="1456.1" cy="513.0" r="3.35"/>
<circle cx="1637.2" cy="515.5" r="3.35"/>
<circle cx="1428.8" cy="502.2" r="3.35"/>
<circle cx="1582.9" cy="526.9" r="3.35"/>
<circle cx="1531.7" cy="512.2" r="3.35"/>
<circle cx="1453.9" cy="503.4" r="3.35"/>
<circle cx="1587.4" cy="520.7" r="3.35"/>
<circle cx="1517.7" cy="514.8" r="3.35"/>
<circle cx="1465.9" cy="516.1" r="3.35"/>
<circle cx="1493.5" cy="522.9" r="3.35"/>
<circle cx="1538.3" cy="529.9" r="3.35"/>
<circle cx="1619.6" cy="524.5" r="3.35"/>
<circle cx="1530.3" cy="511.3" r="3.35"/>
<circle cx="1480.9" cy="506.7" r="3.35"/>
<circle cx="1487.6" cy="518.6" r="3.35"/>
<circle cx="1603.7" cy="499.0" r="3.35"/>
<circle cx="1522.9" cy="504.8" r="3.35"/>
<circle cx="1580.6" cy="526.2" r="3.35"/>
<circle cx="1449.7" cy="509.4" r="3.35"/>
<circle cx="1522.9" cy="516.4" r="3.35"/>
<circle cx="1495.7" cy="509.0" r="3.35"/>
<circle cx="1609.1" cy="518.7" r="3.35"/>
<circle cx="1484.7" cy="516.1" r="3.35"/>
</g>
<g fill="#006400" stroke="#006400" stroke-width="1.4" fill-opacity="0.6" stroke-opacity="0.68">
<circle cx="1458.5" cy="485.6" r="3.35"/>
<circle cx="1446.8" cy="490.5" r="3.35"/>
<circle cx="1446.4" cy="475.8" r="3.35"/>
<circle cx="1433.4" cy="481.9" r="3.35"/>
<circle cx="1501.6" cy="483.4" r="3.35"/>
<circle cx="1405.0" cy="487.8" r="3.35"/>
<circle cx="1463.3" cy="471.0" r="3.35"/>
<circle cx="1482.0" cy="462.4" r="3.35"/>
<circle cx="1492.6" cy="496.3" r="3.35"/>
<circle cx="1482.4" cy="457.8" r="3.35"/>
<circle cx="1480.7" cy="477.9" r="3.35"/>
<circle cx="1458.5" cy="475.9" r="3.35"/>
<circle cx="1417.7" cy="494.9" r="3.35"/>
<circle cx="1453.5" cy="474.9" r="3.35"/>
<circle cx="1444.2" cy="486.4" r="3.35"/>
<circle cx="1499.8" cy="484.1" r="3.35"/>
<circle cx="1443.8" cy="485.8" r="3.35"/>
<circle cx="1444.3" cy="454.3" r="3.35"/>
<circle cx="1452.5" cy="469.7" r="3.35"/>
<circle cx="1469.0" cy="438.0" r="3.35"/>
<circle cx="1453.8" cy="477.8" r="3.35"/>
<circle cx="1502.8" cy="489.8" r="3.35"/>
<circle cx="1427.7" cy="482.2" r="3.35"/>
<circle cx="1403.6" cy="441.8" r="3.35"/>
<circle cx="1468.2" cy="480.9" r="3.35"/>
<circle cx="1380.9" cy="454.4" r="3.35"/>
<circle cx="1443.4" cy="482.1" r="3.35"/>
<circle cx="1462.1" cy="438.6" r="3.35"/>
<circle cx="1476.4" cy="456.4" r="3.35"/>
<circle cx="1490.9" cy="460.9" r="3.35"/>
<circle cx="1507.8" cy="493.0" r="3.35"/>
<circle cx="1448.8" cy="492.5" r="3.35"/>
<circle cx="1465.8" cy="480.4" r="3.35"/>
<circle cx="1481.5" cy="465.7" r="3.35"/>
<circle cx="1442.6" cy="452.8" r="3.35"/>
<circle cx="1469.0" cy="488.0" r="3.35"/>
<circle cx="1450.2" cy="452.0" r="3.35"/>
<circle cx="1344.0" cy="363.5" r="3.35"/>
<circle cx="1475.0" cy="490.9" r="3.35"/>
<circle cx="1429.3" cy="481.4" r="3.35"/>
<circle cx="1436.1" cy="470.4" r="3.35"/>
<circle cx="1482.7" cy="457.0" r="3.35"/>
<circle cx="1506.0" cy="497.3" r="3.35"/>
<circle cx="1367.0" cy="308.8" r="3.35"/>
<circle cx="1446.3" cy="473.0" r="3.35"/>
<circle cx="1448.5" cy="475.5" r="3.35"/>
<circle cx="1409.5" cy="433.0" r="3.35"/>
<circle cx="1493.4" cy="474.7" r="3.35"/>
<circle cx="1470.8" cy="489.9" r="3.35"/>
<circle cx="1442.8" cy="498.1" r="3.35"/>
<circle cx="1454.6" cy="463.3" r="3.35"/>
<circle cx="1479.4" cy="484.8" r="3.35"/>
<circle cx="1455.8" cy="470.8" r="3.35"/>
<circle cx="1386.4" cy="490.5" r="3.35"/>
<circle cx="1479.9" cy="478.4" r="3.35"/>
<circle cx="1489.3" cy="475.8" r="3.35"/>
<circle cx="1419.4" cy="457.9" r="3.35"/>
<circle cx="1502.3" cy="482.6" r="3.35"/>
<circle cx="1340.8" cy="355.2" r="3.35"/>
<circle cx="1458.2" cy="475.0" r="3.35"/>
<circle cx="1445.3" cy="465.1" r="3.35"/>
<circle cx="1454.5" cy="468.3" r="3.35"/>
<circle cx="1379.5" cy="406.2" r="3.35"/>
<circle cx="1471.5" cy="462.7" r="3.35"/>
<circle cx="1507.1" cy="483.9" r="3.35"/>
<circle cx="1459.5" cy="465.4" r="3.35"/>
<circle cx="1442.7" cy="447.1" r="3.35"/>
<circle cx="1451.6" cy="491.4" r="3.35"/>
<circle cx="1500.1" cy="475.8" r="3.35"/>
<circle cx="1390.0" cy="374.5" r="3.35"/>
<circle cx="1483.1" cy="464.3" r="3.35"/>
<circle cx="1467.7" cy="459.4" r="3.35"/>
<circle cx="1422.5" cy="400.2" r="3.35"/>
<circle cx="1495.4" cy="492.2" r="3.35"/>
<circle cx="1498.0" cy="474.4" r="3.35"/>
<circle cx="1479.5" cy="470.4" r="3.35"/>
<circle cx="1465.3" cy="457.4" r="3.35"/>
<circle cx="1473.6" cy="455.5" r="3.35"/>
<circle cx="1479.5" cy="485.1" r="3.35"/>
<circle cx="1469.7" cy="453.0" r="3.35"/>
<circle cx="1449.9" cy="462.6" r="3.35"/>
<circle cx="1476.9" cy="454.9" r="3.35"/>
<circle cx="1481.3" cy="497.4" r="3.35"/>
<circle cx="1457.0" cy="491.3" r="3.35"/>
<circle cx="1403.8" cy="433.8" r="3.35"/>
<circle cx="1492.3" cy="487.9" r="3.35"/>
<circle cx="1484.5" cy="457.1" r="3.35"/>
<circle cx="1450.2" cy="484.7" r="3.35"/>
<circle cx="1461.1" cy="498.3" r="3.35"/>
<circle cx="1402.5" cy="374.5" r="3.35"/>
<circle cx="1485.6" cy="467.2" r="3.35"/>
<circle cx="1467.3" cy="466.9" r="3.35"/>
<circle cx="1453.2" cy="485.6" r="3.35"/>
<circle cx="1456.2" cy="441.2" r="3.35"/>
<circle cx="1451.4" cy="448.9" r="3.35"/>
<circle cx="1480.9" cy="495.4" r="3.35"/>
<circle cx="1468.7" cy="496.2" r="3.35"/>
<circle cx="1448.8" cy="418.0" r="3.35"/>
<circle cx="1484.2" cy="463.7" r="3.35"/>
<circle cx="1500.4" cy="484.0" r="3.35"/>
<circle cx="1514.2" cy="495.6" r="3.35"/>
<circle cx="1478.0" cy="463.4" r="3.35"/>
<circle cx="1481.5" cy="476.0" r="3.35"/>
<circle cx="1484.3" cy="494.3" r="3.35"/>
<circle cx="1456.7" cy="495.3" r="3.35"/>
<circle cx="1415.3" cy="489.2" r="3.35"/>
<circle cx="1471.2" cy="458.8" r="3.35"/>
<circle cx="1472.0" cy="468.7" r="3.35"/>
<circle cx="1386.9" cy="472.1" r="3.35"/>
<circle cx="1301.9" cy="478.5" r="3.35"/>
<circle cx="1511.3" cy="488.1" r="3.35"/>
<circle cx="1501.1" cy="486.3" r="3.35"/>
<circle cx="1454.1" cy="494.8" r="3.35"/>
<circle cx="1467.7" cy="457.7" r="3.35"/>
<circle cx="1473.8" cy="433.4" r="3.35"/>
<circle cx="1461.5" cy="434.8" r="3.35"/>
<circle cx="1440.8" cy="474.4" r="3.35"/>
<circle cx="1492.1" cy="488.1" r="3.35"/>
<circle cx="1447.8" cy="474.5" r="3.35"/>
<circle cx="1452.4" cy="495.0" r="3.35"/>
<circle cx="1437.0" cy="492.0" r="3.35"/>
<circle cx="1465.9" cy="477.7" r="3.35"/>
<circle cx="1404.4" cy="457.0" r="3.35"/>
<circle cx="1452.0" cy="483.6" r="3.35"/>
<circle cx="1412.0" cy="415.5" r="3.35"/>
<circle cx="1466.9" cy="480.6" r="3.35"/>
<circle cx="1428.0" cy="460.2" r="3.35"/>
<circle cx="1492.7" cy="470.1" r="3.35"/>
<circle cx="1491.8" cy="488.4" r="3.35"/>
<circle cx="1393.3" cy="462.6" r="3.35"/>
<circle cx="1469.3" cy="484.1" r="3.35"/>
<circle cx="1456.2" cy="483.7" r="3.35"/>
<circle cx="1437.6" cy="483.1" r="3.35"/>
<circle cx="1488.0" cy="488.8" r="3.35"/>
<circle cx="1408.8" cy="448.8" r="3.35"/>
<circle cx="1459.9" cy="412.2" r="3.35"/>
<circle cx="1451.8" cy="417.2" r="3.35"/>
<circle cx="1507.2" cy="489.3" r="3.35"/>
<circle cx="1510.6" cy="494.4" r="3.35"/>
<circle cx="1480.6" cy="438.1" r="3.35"/>
<circle cx="1421.7" cy="482.9" r="3.35"/>
<circle cx="1410.2" cy="464.7" r="3.35"/>
<circle cx="1415.5" cy="430.0" r="3.35"/>
<circle cx="1500.5" cy="486.6" r="3.35"/>
<circle cx="1474.8" cy="495.4" r="3.35"/>
<circle cx="1479.8" cy="477.0" r="3.35"/>
<circle cx="1480.4" cy="456.7" r="3.35"/>
<circle cx="1477.7" cy="468.4" r="3.35"/>
<circle cx="1477.8" cy="489.1" r="3.35"/>
<circle cx="1466.5" cy="465.9" r="3.35"/>
<circle cx="1442.4" cy="458.3" r="3.35"/>
<circle cx="1351.2" cy="341.0" r="3.35"/>
<circle cx="1445.5" cy="484.2" r="3.35"/>
<circle cx="1446.0" cy="469.5" r="3.35"/>
<circle cx="1468.0" cy="436.2" r="3.35"/>
<circle cx="1457.9" cy="477.7" r="3.35"/>
<circle cx="1414.5" cy="442.6" r="3.35"/>
<circle cx="1447.7" cy="460.9" r="3.35"/>
<circle cx="1495.0" cy="476.3" r="3.35"/>
<circle cx="1483.2" cy="464.3" r="3.35"/>
<circle cx="1445.2" cy="453.4" r="3.35"/>
<circle cx="1468.4" cy="480.2" r="3.35"/>
<circle cx="1457.0" cy="461.3" r="3.35"/>
</g>
<g fill="#ff0000" stroke="#ff0000" stroke-width="1.4" fill-opacity="0.6" stroke-opacity="0.68">
<circle cx="1671.0" cy="450.7" r="3.35"/>
<circle cx="1620.0" cy="494.0" r="3.35"/>
<circle cx="1626.6" cy="477.4" r="3.35"/>
<circle cx="1620.5" cy="488.2" r="3.35"/>
<circle cx="1642.6" cy="479.0" r="3.35"/>
<circle cx="1614.2" cy="492.9" r="3.35"/>
<circle cx="1630.7" cy="473.4" r="3.35"/>
<circle cx="1645.7" cy="481.2" r="3.35"/>
<circle cx="1642.6" cy="448.4" r="3.35"/>
<circle cx="1704.8" cy="434.9" r="3.35"/>
<circle cx="1632.3" cy="479.3" r="3.35"/>
<circle cx="1710.6" cy="348.0" r="3.35"/>
<circle cx="1626.0" cy="485.8" r="3.35"/>
<circle cx="1620.5" cy="488.3" r="3.35"/>
<circle cx="1635.3" cy="495.3" r="3.35"/>
<circle cx="1633.1" cy="477.5" r="3.35"/>
<circle cx="1665.3" cy="482.6" r="3.35"/>
<circle cx="1670.3" cy="479.8" r="3.35"/>
<circle cx="1617.0" cy="494.7" r="3.35"/>
<circle cx="1635.0" cy="471.1" r="3.35"/>
<circle cx="1638.4" cy="483.5" r="3.35"/>
<circle cx="1711.9" cy="488.1" r="3.35"/>
<circle cx="1671.1" cy="489.7" r="3.35"/>
<circle cx="1642.1" cy="498.8" r="3.35"/>
<circle cx="1623.6" cy="497.4" r="3.35"/>
<circle cx="1663.7" cy="488.7" r="3.35"/>
<circle cx="1680.0" cy="495.3" r="3.35"/>
<circle cx="1634.1" cy="471.5" r="3.35"/>
<circle cx="1627.7" cy="476.3" r="3.35"/>
<circle cx="1644.7" cy="469.5" r="3.35"/>
<circle cx="1650.9" cy="497.5" r="3.35"/>
<circle cx="1642.2" cy="491.3" r="3.35"/>
<circle cx="1652.9" cy="491.1" r="3.35"/>
<circle cx="1675.4" cy="497.6" r="3.35"/>
<circle cx="1661.3" cy="469.9" r="3.35"/>
<circle cx="1634.4" cy="476.5" r="3.35"/>
<circle cx="1640.6" cy="495.0" r="3.35"/>
<circle cx="1638.2" cy="480.3" r="3.35"/>
<circle cx="1635.3" cy="474.1" r="3.35"/>
<circle cx="1654.1" cy="482.5" r="3.35"/>
<circle cx="1630.0" cy="495.2" r="3.35"/>
<circle cx="1633.3" cy="488.9" r="3.35"/>
<circle cx="1644.7" cy="482.5" r="3.35"/>
<circle cx="1644.0" cy="482.9" r="3.35"/>
<circle cx="1668.7" cy="485.4" r="3.35"/>
<circle cx="1628.0" cy="474.3" r="3.35"/>
<circle cx="1657.4" cy="481.9" r="3.35"/>
<circle cx="1781.3" cy="463.5" r="3.35"/>
<circle cx="1638.5" cy="465.8" r="3.35"/>
<circle cx="1775.7" cy="483.1" r="3.35"/>
<circle cx="1624.5" cy="491.9" r="3.35"/>
<circle cx="1658.0" cy="490.0" r="3.35"/>
<circle cx="1659.7" cy="497.6" r="3.35"/>
<circle cx="1679.1" cy="483.4" r="3.35"/>
<circle cx="1635.4" cy="491.4" r="3.35"/>
<circle cx="1644.3" cy="496.8" r="3.35"/>
<circle cx="1657.9" cy="479.5" r="3.35"/>
<circle cx="1642.5" cy="479.2" r="3.35"/>
<circle cx="1625.4" cy="486.2" r="3.35"/>
<circle cx="1668.1" cy="486.8" r="3.35"/>
<circle cx="1694.0" cy="496.0" r="3.35"/>
<circle cx="1646.3" cy="498.6" r="3.35"/>
<circle cx="1643.9" cy="478.4" r="3.35"/>
</g>
<g fill="#4d4d4d" stroke="#4d4d4d" stroke-width="1.4" fill-opacity="0.6" stroke-opacity="0.68">
<circle cx="1473.8" cy="511.4" r="3.35"/>
<circle cx="1619.4" cy="509.9" r="3.35"/>
<circle cx="1631.9" cy="502.7" r="3.35"/>
<circle cx="1470.0" cy="501.7" r="3.35"/>
<circle cx="1610.3" cy="493.8" r="3.35"/>
<circle cx="1513.4" cy="517.0" r="3.35"/>
<circle cx="1543.5" cy="520.1" r="3.35"/>
<circle cx="1570.8" cy="531.0" r="3.35"/>
<circle cx="1498.2" cy="509.4" r="3.35"/>
<circle cx="1623.6" cy="512.2" r="3.35"/>
<circle cx="1599.9" cy="522.2" r="3.35"/>
<circle cx="1631.5" cy="504.0" r="3.35"/>
<circle cx="1475.5" cy="514.8" r="3.35"/>
<circle cx="1614.6" cy="504.9" r="3.35"/>
<circle cx="1493.1" cy="518.1" r="3.35"/>
<circle cx="1592.4" cy="519.7" r="3.35"/>
<circle cx="1585.0" cy="517.5" r="3.35"/>
<circle cx="1605.4" cy="505.2" r="3.35"/>
<circle cx="1479.0" cy="515.6" r="3.35"/>
<circle cx="1486.7" cy="506.7" r="3.35"/>
<circle cx="1523.5" cy="524.5" r="3.35"/>
<circle cx="1640.8" cy="506.0" r="3.35"/>
<circle cx="1605.7" cy="507.8" r="3.35"/>
<circle cx="1648.6" cy="510.2" r="3.35"/>
<circle cx="1445.1" cy="508.4" r="3.35"/>
<circle cx="1443.4" cy="501.1" r="3.35"/>
<circle cx="1607.5" cy="515.3" r="3.35"/>
<circle cx="1464.3" cy="513.9" r="3.35"/>
<circle cx="1578.5" cy="523.1" r="3.35"/>
<circle cx="1592.6" cy="525.6" r="3.35"/>
<circle cx="1604.8" cy="510.3" r="3.35"/>
<circle cx="1621.3" cy="513.9" r="3.35"/>
<circle cx="1531.3" cy="520.6" r="3.35"/>
<circle cx="1611.4" cy="519.1" r="3.35"/>
<circle cx="1610.6" cy="516.0" r="3.35"/>
<circle cx="1644.5" cy="500.9" r="3.35"/>
<circle cx="1546.5" cy="522.2" r="3.35"/>
<circle cx="1540.4" cy="529.7" r="3.35"/>
<circle cx="1644.9" cy="508.4" r="3.35"/>
<circle cx="1480.4" cy="518.3" r="3.35"/>
<circle cx="1579.7" cy="522.0" r="3.35"/>
<circle cx="1502.2" cy="519.8" r="3.35"/>
<circle cx="1537.5" cy="521.6" r="3.35"/>
<circle cx="1446.8" cy="500.6" r="3.35"/>
<circle cx="1506.4" cy="515.8" r="3.35"/>
<circle cx="1599.4" cy="527.9" r="3.35"/>
<circle cx="1513.8" cy="504.5" r="3.35"/>
<circle cx="1535.1" cy="518.3" r="3.35"/>
<circle cx="1485.0" cy="501.1" r="3.35"/>
<circle cx="1498.7" cy="503.7" r="3.35"/>
<circle cx="1611.7" cy="516.8" r="3.35"/>
<circle cx="1603.7" cy="506.6" r="3.35"/>
<circle cx="1643.7" cy="502.4" r="3.35"/>
<circle cx="1529.7" cy="516.2" r="3.35"/>
<circle cx="1564.9" cy="529.7" r="3.35"/>
<circle cx="1527.3" cy="506.5" r="3.35"/>
<circle cx="1632.0" cy="515.1" r="3.35"/>
<circle cx="1452.1" cy="504.0" r="3.35"/>
<circle cx="1503.2" cy="523.1" r="3.35"/>
<circle cx="1599.1" cy="522.2" r="3.35"/>
<circle cx="1632.4" cy="517.9" r="3.35"/>
<circle cx="1501.5" cy="521.0" r="3.35"/>
<circle cx="1496.0" cy="506.5" r="3.35"/>
<circle cx="1479.5" cy="512.9" r="3.35"/>
<circle cx="1614.7" cy="507.5" r="3.35"/>
<circle cx="1628.0" cy="516.3" r="3.35"/>
<circle cx="1602.3" cy="502.7" r="3.35"/>
<circle cx="1601.3" cy="502.2" r="3.35"/>
<circle cx="1531.4" cy="510.1" r="3.35"/>
<circle cx="1587.1" cy="516.3" r="3.35"/>
<circle cx="1523.9" cy="504.0" r="3.35"/>
<circle cx="1458.8" cy="500.7" r="3.35"/>
<circle cx="1516.8" cy="503.1" r="3.35"/>
<circle cx="1628.3" cy="507.7" r="3.35"/>
<circle cx="1600.8" cy="516.6" r="3.35"/>
<circle cx="1458.7" cy="511.6" r="3.35"/>
<circle cx="1514.3" cy="497.3" r="3.35"/>
<circle cx="1492.0" cy="516.0" r="3.35"/>
<circle cx="1482.7" cy="500.7" r="3.35"/>
<circle cx="1609.3" cy="515.2" r="3.35"/>
<circle cx="1478.4" cy="514.0" r="3.35"/>
<circle cx="1466.9" cy="511.5" r="3.35"/>
<circle cx="1637.3" cy="516.0" r="3.35"/>
<circle cx="1540.8" cy="529.1" r="3.35"/>
<circle cx="1515.0" cy="503.4" r="3.35"/>
<circle cx="1557.4" cy="528.9" r="3.35"/>
<circle cx="1501.0" cy="526.8" r="3.35"/>
<circle cx="1521.7" cy="511.8" r="3.35"/>
<circle cx="1504.8" cy="518.1" r="3.35"/>
<circle cx="1645.2" cy="510.1" r="3.35"/>
<circle cx="1610.6" cy="520.9" r="3.35"/>
<circle cx="1527.6" cy="525.3" r="3.35"/>
<circle cx="1504.1" cy="507.8" r="3.35"/>
<circle cx="1507.2" cy="515.9" r="3.35"/>
<circle cx="1664.7" cy="510.7" r="3.35"/>
<circle cx="1478.4" cy="515.8" r="3.35"/>
<circle cx="1643.5" cy="510.9" r="3.35"/>
<circle cx="1451.2" cy="502.7" r="3.35"/>
<circle cx="1506.8" cy="505.4" r="3.35"/>
<circle cx="1527.4" cy="528.4" r="3.35"/>
<circle cx="1484.8" cy="520.8" r="3.35"/>
<circle cx="1506.8" cy="500.7" r="3.35"/>
<circle cx="1524.6" cy="508.4" r="3.35"/>
<circle cx="1466.7" cy="505.0" r="3.35"/>
<circle cx="1471.1" cy="516.8" r="3.35"/>
<circle cx="1514.6" cy="507.9" r="3.35"/>
<circle cx="1459.5" cy="505.6" r="3.35"/>
<circle cx="1559.7" cy="530.5" r="3.35"/>
<circle cx="1453.8" cy="505.5" r="3.35"/>
<circle cx="1617.0" cy="513.3" r="3.35"/>
<circle cx="1584.5" cy="523.8" r="3.35"/>
<circle cx="1549.9" cy="529.6" r="3.35"/>
<circle cx="1476.1" cy="507.0" r="3.35"/>
<circle cx="1630.1" cy="517.0" r="3.35"/>
<circle cx="1547.3" cy="530.2" r="3.35"/>
<circle cx="1519.0" cy="525.5" r="3.35"/>
<circle cx="1632.9" cy="508.7" r="3.35"/>
<circle cx="1532.4" cy="514.6" r="3.35"/>
<circle cx="1516.1" cy="526.4" r="3.35"/>
<circle cx="1639.7" cy="518.1" r="3.35"/>
<circle cx="1611.9" cy="501.0" r="3.35"/>
<circle cx="1606.4" cy="502.3" r="3.35"/>
<circle cx="1565.8" cy="529.8" r="3.35"/>
<circle cx="1535.4" cy="519.9" r="3.35"/>
<circle cx="1465.1" cy="513.7" r="3.35"/>
<circle cx="1430.5" cy="517.5" r="3.35"/>
<circle cx="1605.8" cy="504.1" r="3.35"/>
<circle cx="1581.2" cy="520.7" r="3.35"/>
<circle cx="1632.8" cy="519.0" r="3.35"/>
<circle cx="1473.0" cy="503.8" r="3.35"/>
<circle cx="1688.1" cy="509.1" r="3.35"/>
<circle cx="1517.0" cy="511.0" r="3.35"/>
<circle cx="1465.7" cy="513.0" r="3.35"/>
<circle cx="1607.6" cy="516.2" r="3.35"/>
<circle cx="1517.9" cy="502.0" r="3.35"/>
<circle cx="1502.4" cy="513.1" r="3.35"/>
<circle cx="1472.5" cy="509.5" r="3.35"/>
<circle cx="1505.7" cy="525.6" r="3.35"/>
<circle cx="1652.8" cy="506.9" r="3.35"/>
<circle cx="1519.9" cy="504.9" r="3.35"/>
<circle cx="1616.8" cy="521.7" r="3.35"/>
<circle cx="1601.6" cy="524.8" r="3.35"/>
<circle cx="1532.7" cy="517.8" r="3.35"/>
<circle cx="1739.8" cy="505.0" r="3.35"/>
<circle cx="1620.7" cy="500.8" r="3.35"/>
<circle cx="1475.7" cy="519.8" r="3.35"/>
<circle cx="1593.0" cy="528.7" r="3.35"/>
<circle cx="1520.3" cy="527.6" r="3.35"/>
<circle cx="1453.5" cy="501.9" r="3.35"/>
<circle cx="1619.3" cy="506.7" r="3.35"/>
<circle cx="1479.3" cy="520.3" r="3.35"/>
<circle cx="1582.5" cy="520.2" r="3.35"/>
<circle cx="1602.8" cy="509.2" r="3.35"/>
<circle cx="1531.3" cy="522.1" r="3.35"/>
<circle cx="1652.5" cy="508.4" r="3.35"/>
<circle cx="1461.9" cy="518.7" r="3.35"/>
<circle cx="1475.6" cy="513.2" r="3.35"/>
<circle cx="1489.4" cy="503.7" r="3.35"/>
<circle cx="1585.8" cy="517.0" r="3.35"/>
<circle cx="1525.3" cy="528.3" r="3.35"/>
<circle cx="1526.4" cy="523.2" r="3.35"/>
<circle cx="1605.2" cy="503.5" r="3.35"/>
<circle cx="1488.0" cy="522.0" r="3.35"/>
<circle cx="1609.3" cy="502.5" r="3.35"/>
<circle cx="1605.2" cy="514.2" r="3.35"/>
<circle cx="1538.7" cy="517.8" r="3.35"/>
<circle cx="1654.8" cy="514.5" r="3.35"/>
<circle cx="1613.4" cy="525.1" r="3.35"/>
<circle cx="1529.6" cy="528.5" r="3.35"/>
<circle cx="1634.4" cy="508.8" r="3.35"/>
<circle cx="1654.4" cy="502.6" r="3.35"/>
<circle cx="1464.2" cy="508.1" r="3.35"/>
<circle cx="1496.0" cy="517.3" r="3.35"/>
<circle cx="1544.5" cy="530.0" r="3.35"/>
<circle cx="1521.0" cy="513.0" r="3.35"/>
<circle cx="1488.0" cy="500.9" r="3.35"/>
<circle cx="1555.3" cy="528.1" r="3.35"/>
<circle cx="1557.9" cy="530.8" r="3.35"/>
<circle cx="1615.7" cy="520.7" r="3.35"/>
<circle cx="1540.4" cy="517.9" r="3.35"/>
<circle cx="1640.0" cy="508.1" r="3.35"/>
<circle cx="1538.9" cy="516.4" r="3.35"/>
<circle cx="1651.9" cy="504.7" r="3.35"/>
<circle cx="1591.3" cy="511.9" r="3.35"/>
<circle cx="1567.5" cy="529.6" r="3.35"/>
<circle cx="1460.2" cy="512.9" r="3.35"/>
<circle cx="1681.6" cy="510.2" r="3.35"/>
<circle cx="1450.9" cy="515.8" r="3.35"/>
<circle cx="1444.9" cy="506.9" r="3.35"/>
<circle cx="1443.3" cy="503.0" r="3.35"/>
<circle cx="1662.1" cy="516.7" r="3.35"/>
<circle cx="1653.6" cy="505.7" r="3.35"/>
<circle cx="1617.7" cy="500.9" r="3.35"/>
<circle cx="1625.6" cy="503.3" r="3.35"/>
<circle cx="1623.1" cy="510.9" r="3.35"/>
<circle cx="1499.8" cy="506.7" r="3.35"/>
<circle cx="1691.0" cy="518.4" r="3.35"/>
<circle cx="1634.7" cy="521.9" r="3.35"/>
<circle cx="1553.1" cy="527.1" r="3.35"/>
<circle cx="1514.7" cy="526.3" r="3.35"/>
<circle cx="1475.4" cy="512.5" r="3.35"/>
<circle cx="1552.3" cy="526.5" r="3.35"/>
<circle cx="1638.0" cy="521.0" r="3.35"/>
<circle cx="1594.2" cy="527.9" r="3.35"/>
<circle cx="1487.3" cy="512.4" r="3.35"/>
<circle cx="1519.8" cy="515.0" r="3.35"/>
<circle cx="1524.2" cy="502.9" r="3.35"/>
<circle cx="1465.3" cy="510.5" r="3.35"/>
<circle cx="1580.0" cy="530.1" r="3.35"/>
<circle cx="1601.5" cy="527.9" r="3.35"/>
<circle cx="1454.4" cy="507.0" r="3.35"/>
<circle cx="1647.3" cy="512.5" r="3.35"/>
<circle cx="1485.0" cy="521.0" r="3.35"/>
<circle cx="1504.2" cy="506.6" r="3.35"/>
<circle cx="1624.7" cy="516.2" r="3.35"/>
<circle cx="1485.0" cy="516.0" r="3.35"/>
<circle cx="1496.7" cy="514.6" r="3.35"/>
<circle cx="1603.9" cy="516.8" r="3.35"/>
<circle cx="1597.4" cy="510.8" r="3.35"/>
<circle cx="1608.0" cy="527.0" r="3.35"/>
<circle cx="1596.3" cy="506.9" r="3.35"/>
<circle cx="1474.8" cy="501.8" r="3.35"/>
<circle cx="1535.5" cy="529.3" r="3.35"/>
<circle cx="1629.3" cy="522.1" r="3.35"/>
<circle cx="1469.9" cy="500.8" r="3.35"/>
<circle cx="1641.0" cy="503.2" r="3.35"/>
<circle cx="1626.6" cy="503.8" r="3.35"/>
<circle cx="1578.4" cy="525.2" r="3.35"/>
<circle cx="1487.8" cy="511.2" r="3.35"/>
<circle cx="1619.1" cy="522.1" r="3.35"/>
<circle cx="1452.9" cy="500.5" r="3.35"/>
<circle cx="1630.2" cy="519.3" r="3.35"/>
<circle cx="1462.2" cy="504.3" r="3.35"/>
<circle cx="1605.4" cy="503.8" r="3.35"/>
<circle cx="1561.2" cy="529.9" r="3.35"/>
<circle cx="1491.4" cy="520.2" r="3.35"/>
<circle cx="1486.0" cy="520.7" r="3.35"/>
<circle cx="1633.3" cy="514.6" r="3.35"/>
<circle cx="1503.2" cy="512.1" r="3.35"/>
<circle cx="1514.2" cy="508.8" r="3.35"/>
<circle cx="1604.1" cy="525.9" r="3.35"/>
<circle cx="1611.3" cy="519.6" r="3.35"/>
<circle cx="1479.1" cy="511.1" r="3.35"/>
<circle cx="1512.6" cy="500.9" r="3.35"/>
</g>
<g fill="#006400" stroke="#006400" stroke-width="1.4" fill-opacity="0.6" stroke-opacity="0.68">
<circle cx="1467.5" cy="453.2" r="3.35"/>
<circle cx="1489.7" cy="493.4" r="3.35"/>
<circle cx="1476.3" cy="466.1" r="3.35"/>
<circle cx="1482.5" cy="456.5" r="3.35"/>
<circle cx="1392.5" cy="437.0" r="3.35"/>
<circle cx="1469.2" cy="454.1" r="3.35"/>
<circle cx="1494.9" cy="491.9" r="3.35"/>
<circle cx="1470.9" cy="439.2" r="3.35"/>
<circle cx="1438.1" cy="458.6" r="3.35"/>
<circle cx="1419.8" cy="472.3" r="3.35"/>
<circle cx="1505.4" cy="492.7" r="3.35"/>
<circle cx="1451.3" cy="490.4" r="3.35"/>
<circle cx="1447.6" cy="496.3" r="3.35"/>
<circle cx="1479.5" cy="435.7" r="3.35"/>
<circle cx="1477.9" cy="474.2" r="3.35"/>
<circle cx="1480.4" cy="461.2" r="3.35"/>
<circle cx="1483.5" cy="496.5" r="3.35"/>
<circle cx="1404.8" cy="488.4" r="3.35"/>
<circle cx="1413.8" cy="425.0" r="3.35"/>
<circle cx="1442.0" cy="478.5" r="3.35"/>
<circle cx="1453.9" cy="491.1" r="3.35"/>
<circle cx="1460.6" cy="409.5" r="3.35"/>
<circle cx="1444.2" cy="498.0" r="3.35"/>
<circle cx="1495.7" cy="493.4" r="3.35"/>
<circle cx="1451.3" cy="468.1" r="3.35"/>
<circle cx="1450.6" cy="443.4" r="3.35"/>
<circle cx="1465.5" cy="454.0" r="3.35"/>
<circle cx="1408.8" cy="442.9" r="3.35"/>
<circle cx="1421.7" cy="447.6" r="3.35"/>
<circle cx="1506.6" cy="487.4" r="3.35"/>
<circle cx="1456.6" cy="477.6" r="3.35"/>
<circle cx="1454.0" cy="458.9" r="3.35"/>
<circle cx="1452.1" cy="464.6" r="3.35"/>
<circle cx="1484.6" cy="489.9" r="3.35"/>
<circle cx="1411.6" cy="477.7" r="3.35"/>
<circle cx="1414.7" cy="444.2" r="3.35"/>
<circle cx="1336.2" cy="436.0" r="3.35"/>
<circle cx="1472.3" cy="475.2" r="3.35"/>
<circle cx="1454.8" cy="496.9" r="3.35"/>
<circle cx="1494.4" cy="475.3" r="3.35"/>
<circle cx="1461.3" cy="468.0" r="3.35"/>
<circle cx="1430.5" cy="422.5" r="3.35"/>
<circle cx="1477.7" cy="490.5" r="3.35"/>
<circle cx="1504.9" cy="490.4" r="3.35"/>
<circle cx="1465.6" cy="481.7" r="3.35"/>
<circle cx="1486.4" cy="496.4" r="3.35"/>
<circle cx="1365.8" cy="464.0" r="3.35"/>
<circle cx="1446.0" cy="497.2" r="3.35"/>
<circle cx="1399.3" cy="486.4" r="3.35"/>
<circle cx="1461.2" cy="476.0" r="3.35"/>
<circle cx="1502.4" cy="488.4" r="3.35"/>
<circle cx="1464.9" cy="493.1" r="3.35"/>
<circle cx="1407.5" cy="457.3" r="3.35"/>
<circle cx="1405.2" cy="487.0" r="3.35"/>
<circle cx="1506.8" cy="483.5" r="3.35"/>
<circle cx="1443.1" cy="486.5" r="3.35"/>
<circle cx="1507.8" cy="487.0" r="3.35"/>
<circle cx="1471.8" cy="462.3" r="3.35"/>
<circle cx="1464.8" cy="416.8" r="3.35"/>
<circle cx="1431.2" cy="431.2" r="3.35"/>
<circle cx="1441.9" cy="468.7" r="3.35"/>
<circle cx="1453.0" cy="464.1" r="3.35"/>
<circle cx="1460.8" cy="487.3" r="3.35"/>
<circle cx="1424.8" cy="490.5" r="3.35"/>
<circle cx="1375.8" cy="424.0" r="3.35"/>
<circle cx="1436.7" cy="490.5" r="3.35"/>
<circle cx="1386.9" cy="441.7" r="3.35"/>
<circle cx="1494.7" cy="483.1" r="3.35"/>
<circle cx="1471.0" cy="485.6" r="3.35"/>
<circle cx="1455.5" cy="480.5" r="3.35"/>
<circle cx="1474.4" cy="476.9" r="3.35"/>
<circle cx="1486.4" cy="483.3" r="3.35"/>
<circle cx="1459.4" cy="488.3" r="3.35"/>
<circle cx="1437.5" cy="404.2" r="3.35"/>
<circle cx="1451.0" cy="425.5" r="3.35"/>
<circle cx="1468.3" cy="492.6" r="3.35"/>
<circle cx="1471.4" cy="491.7" r="3.35"/>
<circle cx="1451.6" cy="491.2" r="3.35"/>
<circle cx="1465.8" cy="453.7" r="3.35"/>
<circle cx="1443.7" cy="469.4" r="3.35"/>
<circle cx="1472.5" cy="498.0" r="3.35"/>
<circle cx="1362.7" cy="470.4" r="3.35"/>
<circle cx="1483.0" cy="494.9" r="3.35"/>
<circle cx="1454.4" cy="474.3" r="3.35"/>
<circle cx="1461.6" cy="461.7" r="3.35"/>
<circle cx="1399.5" cy="382.5" r="3.35"/>
<circle cx="1391.2" cy="406.2" r="3.35"/>
<circle cx="1505.8" cy="483.7" r="3.35"/>
<circle cx="1414.8" cy="450.4" r="3.35"/>
<circle cx="1457.2" cy="462.8" r="3.35"/>
<circle cx="1460.4" cy="489.5" r="3.35"/>
<circle cx="1453.4" cy="486.6" r="3.35"/>
<circle cx="1489.8" cy="478.6" r="3.35"/>
<circle cx="1451.7" cy="470.0" r="3.35"/>
<circle cx="1442.7" cy="484.8" r="3.35"/>
<circle cx="1481.8" cy="465.6" r="3.35"/>
<circle cx="1456.8" cy="463.9" r="3.35"/>
<circle cx="1485.0" cy="456.3" r="3.35"/>
<circle cx="1482.0" cy="487.4" r="3.35"/>
<circle cx="1467.5" cy="474.2" r="3.35"/>
<circle cx="1454.2" cy="493.0" r="3.35"/>
<circle cx="1357.5" cy="427.8" r="3.35"/>
<circle cx="1465.1" cy="492.5" r="3.35"/>
<circle cx="1448.4" cy="491.6" r="3.35"/>
<circle cx="1470.7" cy="419.5" r="3.35"/>
<circle cx="1484.6" cy="492.8" r="3.35"/>
<circle cx="1498.3" cy="478.1" r="3.35"/>
<circle cx="1452.2" cy="490.3" r="3.35"/>
<circle cx="1478.4" cy="439.9" r="3.35"/>
<circle cx="1406.6" cy="457.9" r="3.35"/>
<circle cx="1434.6" cy="486.5" r="3.35"/>
<circle cx="1507.4" cy="489.2" r="3.35"/>
<circle cx="1484.5" cy="473.8" r="3.35"/>
<circle cx="1469.6" cy="464.5" r="3.35"/>
<circle cx="1442.0" cy="411.2" r="3.35"/>
<circle cx="1433.8" cy="449.4" r="3.35"/>
<circle cx="1295.7" cy="478.3" r="3.35"/>
<circle cx="1495.1" cy="489.9" r="3.35"/>
<circle cx="1452.9" cy="429.9" r="3.35"/>
<circle cx="1487.2" cy="476.3" r="3.35"/>
<circle cx="1419.7" cy="443.8" r="3.35"/>
<circle cx="1461.7" cy="459.5" r="3.35"/>
<circle cx="1493.5" cy="472.4" r="3.35"/>
<circle cx="1499.9" cy="491.7" r="3.35"/>
<circle cx="1475.7" cy="449.5" r="3.35"/>
<circle cx="1476.1" cy="492.8" r="3.35"/>
<circle cx="1476.6" cy="484.8" r="3.35"/>
<circle cx="1471.7" cy="457.0" r="3.35"/>
<circle cx="1408.8" cy="465.8" r="3.35"/>
<circle cx="1444.3" cy="453.6" r="3.35"/>
<circle cx="1484.8" cy="475.5" r="3.35"/>
<circle cx="1462.3" cy="456.7" r="3.35"/>
<circle cx="1460.4" cy="449.0" r="3.35"/>
<circle cx="1329.8" cy="122.0" r="3.35"/>
<circle cx="1482.6" cy="481.2" r="3.35"/>
<circle cx="1453.6" cy="429.0" r="3.35"/>
<circle cx="1455.0" cy="468.7" r="3.35"/>
<circle cx="1468.5" cy="449.0" r="3.35"/>
<circle cx="1481.5" cy="453.5" r="3.35"/>
<circle cx="1462.5" cy="475.9" r="3.35"/>
<circle cx="1482.8" cy="429.5" r="3.35"/>
<circle cx="1481.7" cy="451.2" r="3.35"/>
<circle cx="1486.1" cy="473.1" r="3.35"/>
<circle cx="1450.1" cy="473.4" r="3.35"/>
<circle cx="1383.8" cy="491.5" r="3.35"/>
<circle cx="1477.3" cy="472.0" r="3.35"/>
<circle cx="1412.5" cy="422.0" r="3.35"/>
<circle cx="1467.9" cy="414.1" r="3.35"/>
<circle cx="1445.1" cy="465.3" r="3.35"/>
<circle cx="1426.2" cy="437.5" r="3.35"/>
<circle cx="1448.9" cy="483.2" r="3.35"/>
<circle cx="1451.9" cy="463.7" r="3.35"/>
<circle cx="1448.3" cy="475.9" r="3.35"/>
<circle cx="1461.9" cy="482.2" r="3.35"/>
<circle cx="1468.5" cy="426.8" r="3.35"/>
<circle cx="1469.6" cy="462.5" r="3.35"/>
<circle cx="1473.9" cy="438.4" r="3.35"/>
<circle cx="1510.7" cy="488.9" r="3.35"/>
<circle cx="1461.6" cy="497.3" r="3.35"/>
<circle cx="1438.2" cy="490.0" r="3.35"/>
<circle cx="1398.5" cy="454.9" r="3.35"/>
<circle cx="1441.3" cy="498.4" r="3.35"/>
<circle cx="1486.9" cy="459.4" r="3.35"/>
</g>
<g fill="#ff0000" stroke="#ff0000" stroke-width="1.4" fill-opacity="0.6" stroke-opacity="0.68">
<circle cx="1662.9" cy="498.0" r="3.35"/>
<circle cx="1663.8" cy="476.3" r="3.35"/>
<circle cx="1694.7" cy="493.5" r="3.35"/>
<circle cx="1672.8" cy="421.1" r="3.35"/>
<circle cx="1646.7" cy="467.5" r="3.35"/>
<circle cx="1652.2" cy="464.8" r="3.35"/>
<circle cx="1630.6" cy="482.4" r="3.35"/>
<circle cx="1627.0" cy="495.0" r="3.35"/>
<circle cx="1646.7" cy="453.4" r="3.35"/>
<circle cx="1642.9" cy="471.1" r="3.35"/>
<circle cx="1651.2" cy="486.1" r="3.35"/>
<circle cx="1676.6" cy="476.0" r="3.35"/>
<circle cx="1635.6" cy="483.2" r="3.35"/>
<circle cx="1625.4" cy="485.6" r="3.35"/>
<circle cx="1622.6" cy="486.7" r="3.35"/>
<circle cx="1660.8" cy="479.6" r="3.35"/>
<circle cx="1649.3" cy="488.9" r="3.35"/>
<circle cx="1618.4" cy="493.1" r="3.35"/>
<circle cx="1650.3" cy="487.0" r="3.35"/>
<circle cx="1627.2" cy="497.5" r="3.35"/>
<circle cx="1630.9" cy="489.8" r="3.35"/>
<circle cx="1708.4" cy="457.4" r="3.35"/>
<circle cx="1673.3" cy="470.1" r="3.35"/>
<circle cx="1688.6" cy="498.9" r="3.35"/>
<circle cx="1652.4" cy="476.3" r="3.35"/>
<circle cx="1712.8" cy="468.7" r="3.35"/>
<circle cx="1629.2" cy="493.0" r="3.35"/>
<circle cx="1625.7" cy="487.6" r="3.35"/>
<circle cx="1683.0" cy="487.5" r="3.35"/>
<circle cx="1647.7" cy="467.5" r="3.35"/>
<circle cx="1637.3" cy="482.2" r="3.35"/>
<circle cx="1625.5" cy="492.3" r="3.35"/>
<circle cx="1631.2" cy="484.9" r="3.35"/>
<circle cx="1663.8" cy="474.3" r="3.35"/>
<circle cx="1627.7" cy="485.9" r="3.35"/>
<circle cx="1683.6" cy="481.3" r="3.35"/>
<circle cx="1645.5" cy="464.6" r="3.35"/>
<circle cx="1653.9" cy="465.4" r="3.35"/>
<circle cx="1686.3" cy="492.9" r="3.35"/>
<circle cx="1649.7" cy="470.4" r="3.35"/>
<circle cx="1639.6" cy="481.7" r="3.35"/>
<circle cx="1643.0" cy="474.3" r="3.35"/>
<circle cx="1636.7" cy="477.8" r="3.35"/>
<circle cx="1637.6" cy="477.4" r="3.35"/>
<circle cx="1621.2" cy="481.8" r="3.35"/>
<circle cx="1638.7" cy="462.5" r="3.35"/>
<circle cx="1669.7" cy="442.4" r="3.35"/>
<circle cx="1640.2" cy="482.6" r="3.35"/>
<circle cx="1630.6" cy="482.9" r="3.35"/>
<circle cx="1621.6" cy="477.6" r="3.35"/>
<circle cx="1638.3" cy="495.5" r="3.35"/>
<circle cx="1624.9" cy="481.4" r="3.35"/>
<circle cx="1719.0" cy="480.5" r="3.35"/>
<circle cx="1619.2" cy="492.3" r="3.35"/>
<circle cx="1629.7" cy="482.2" r="3.35"/>
<circle cx="1682.6" cy="486.6" r="3.35"/>
<circle cx="1676.4" cy="448.5" r="3.35"/>
<circle cx="1614.3" cy="488.1" r="3.35"/>
<circle cx="1679.2" cy="441.4" r="3.35"/>
<circle cx="1648.0" cy="489.0" r="3.35"/>
<circle cx="1662.8" cy="470.6" r="3.35"/>
<circle cx="1660.7" cy="482.8" r="3.35"/>
<circle cx="1629.0" cy="476.3" r="3.35"/>
</g>
<g fill="#4d4d4d" stroke="#4d4d4d" stroke-width="1.4" fill-opacity="0.6" stroke-opacity="0.68">
<circle cx="1532.2" cy="510.7" r="3.35"/>
<circle cx="1522.1" cy="507.2" r="3.35"/>
<circle cx="1593.7" cy="509.2" r="3.35"/>
<circle cx="1471.4" cy="513.2" r="3.35"/>
<circle cx="1490.1" cy="519.3" r="3.35"/>
<circle cx="1469.1" cy="513.1" r="3.35"/>
<circle cx="1499.5" cy="521.5" r="3.35"/>
<circle cx="1629.0" cy="507.7" r="3.35"/>
<circle cx="1470.2" cy="504.5" r="3.35"/>
<circle cx="1533.7" cy="513.3" r="3.35"/>
<circle cx="1623.2" cy="501.9" r="3.35"/>
<circle cx="1466.4" cy="514.6" r="3.35"/>
<circle cx="1488.3" cy="511.3" r="3.35"/>
<circle cx="1643.1" cy="512.2" r="3.35"/>
<circle cx="1602.6" cy="513.9" r="3.35"/>
<circle cx="1606.6" cy="526.3" r="3.35"/>
<circle cx="1596.2" cy="514.8" r="3.35"/>
<circle cx="1643.4" cy="509.9" r="3.35"/>
<circle cx="1577.2" cy="530.1" r="3.35"/>
<circle cx="1478.8" cy="508.5" r="3.35"/>
<circle cx="1512.6" cy="519.6" r="3.35"/>
<circle cx="1521.0" cy="520.9" r="3.35"/>
<circle cx="1610.8" cy="525.7" r="3.35"/>
<circle cx="1481.7" cy="501.8" r="3.35"/>
<circle cx="1629.8" cy="514.6" r="3.35"/>
<circle cx="1458.1" cy="513.4" r="3.35"/>
<circle cx="1524.1" cy="516.7" r="3.35"/>
<circle cx="1510.6" cy="522.3" r="3.35"/>
<circle cx="1548.4" cy="523.7" r="3.35"/>
<circle cx="1530.5" cy="509.1" r="3.35"/>
<circle cx="1607.1" cy="504.3" r="3.35"/>
<circle cx="1604.2" cy="509.4" r="3.35"/>
<circle cx="1525.8" cy="504.1" r="3.35"/>
<circle cx="1643.9" cy="510.8" r="3.35"/>
<circle cx="1481.5" cy="520.5" r="3.35"/>
<circle cx="1528.5" cy="527.0" r="3.35"/>
<circle cx="1497.5" cy="500.7" r="3.35"/>
<circle cx="1469.7" cy="509.3" r="3.35"/>
<circle cx="1475.8" cy="513.9" r="3.35"/>
<circle cx="1510.7" cy="507.1" r="3.35"/>
<circle cx="1608.1" cy="513.5" r="3.35"/>
<circle cx="1536.3" cy="520.7" r="3.35"/>
<circle cx="1549.1" cy="530.7" r="3.35"/>
<circle cx="1521.4" cy="518.3" r="3.35"/>
<circle cx="1511.8" cy="520.2" r="3.35"/>
<circle cx="1507.5" cy="510.0" r="3.35"/>
<circle cx="1477.3" cy="507.3" r="3.35"/>
<circle cx="1623.8" cy="504.0" r="3.35"/>
<circle cx="1496.9" cy="520.6" r="3.35"/>
<circle cx="1528.9" cy="510.6" r="3.35"/>
<circle cx="1531.5" cy="518.0" r="3.35"/>
<circle cx="1621.4" cy="510.9" r="3.35"/>
<circle cx="1546.4" cy="523.4" r="3.35"/>
<circle cx="1556.5" cy="528.3" r="3.35"/>
<circle cx="1611.9" cy="520.8" r="3.35"/>
<circle cx="1467.4" cy="517.8" r="3.35"/>
<circle cx="1606.7" cy="520.9" r="3.35"/>
<circle cx="1659.6" cy="511.6" r="3.35"/>
<circle cx="1502.3" cy="518.3" r="3.35"/>
<circle cx="1500.5" cy="500.7" r="3.35"/>
<circle cx="1567.2" cy="529.1" r="3.35"/>
<circle cx="1535.9" cy="519.1" r="3.35"/>
<circle cx="1647.5" cy="500.9" r="3.35"/>
<circle cx="1510.2" cy="508.5" r="3.35"/>
<circle cx="1499.0" cy="519.2" r="3.35"/>
<circle cx="1506.1" cy="523.2" r="3.35"/>
<circle cx="1519.7" cy="505.0" r="3.35"/>
<circle cx="1653.4" cy="505.5" r="3.35"/>
<circle cx="1653.8" cy="505.0" r="3.35"/>
<circle cx="1559.0" cy="529.0" r="3.35"/>
<circle cx="1562.2" cy="530.5" r="3.35"/>
<circle cx="1650.1" cy="503.5" r="3.35"/>
<circle cx="1502.5" cy="514.0" r="3.35"/>
<circle cx="1535.1" cy="513.1" r="3.35"/>
<circle cx="1499.5" cy="524.4" r="3.35"/>
<circle cx="1590.6" cy="526.2" r="3.35"/>
<circle cx="1543.0" cy="524.8" r="3.35"/>
<circle cx="1473.6" cy="515.2" r="3.35"/>
<circle cx="1461.5" cy="515.6" r="3.35"/>
<circle cx="1504.0" cy="511.9" r="3.35"/>
<circle cx="1523.1" cy="519.0" r="3.35"/>
<circle cx="1518.3" cy="516.9" r="3.35"/>
<circle cx="1621.3" cy="522.2" r="3.35"/>
<circle cx="1639.5" cy="518.6" r="3.35"/>
<circle cx="1548.9" cy="526.6" r="3.35"/>
<circle cx="1602.9" cy="499.5" r="3.35"/>
<circle cx="1606.9" cy="512.1" r="3.35"/>
<circle cx="1626.1" cy="516.9" r="3.35"/>
<circle cx="1607.5" cy="509.0" r="3.35"/>
<circle cx="1455.1" cy="505.2" r="3.35"/>
<circle cx="1523.2" cy="517.0" r="3.35"/>
<circle cx="1614.6" cy="507.5" r="3.35"/>
<circle cx="1461.8" cy="500.5" r="3.35"/>
<circle cx="1589.8" cy="521.5" r="3.35"/>
<circle cx="1632.3" cy="505.5" r="3.35"/>
<circle cx="1615.6" cy="508.0" r="3.35"/>
<circle cx="1526.4" cy="524.4" r="3.35"/>
<circle cx="1450.2" cy="511.2" r="3.35"/>
<circle cx="1551.3" cy="530.0" r="3.35"/>
<circle cx="1628.2" cy="509.4" r="3.35"/>
<circle cx="1642.8" cy="506.0" r="3.35"/>
<circle cx="1614.6" cy="505.2" r="3.35"/>
<circle cx="1414.4" cy="505.3" r="3.35"/>
<circle cx="1464.3" cy="516.3" r="3.35"/>
<circle cx="1622.9" cy="505.5" r="3.35"/>
<circle cx="1600.5" cy="504.8" r="3.35"/>
<circle cx="1625.9" cy="523.0" r="3.35"/>
<circle cx="1553.7" cy="531.0" r="3.35"/>
<circle cx="1514.2" cy="508.4" r="3.35"/>
<circle cx="1526.7" cy="524.0" r="3.35"/>
<circle cx="1492.6" cy="523.1" r="3.35"/>
<circle cx="1642.4" cy="516.3" r="3.35"/>
<circle cx="1496.0" cy="510.9" r="3.35"/>
<circle cx="1601.9" cy="526.6" r="3.35"/>
<circle cx="1512.7" cy="516.6" r="3.35"/>
<circle cx="1626.6" cy="507.2" r="3.35"/>
<circle cx="1509.5" cy="520.6" r="3.35"/>
<circle cx="1508.0" cy="525.4" r="3.35"/>
<circle cx="1512.8" cy="519.7" r="3.35"/>
<circle cx="1510.4" cy="526.0" r="3.35"/>
<circle cx="1516.6" cy="498.2" r="3.35"/>
<circle cx="1463.0" cy="513.1" r="3.35"/>
<circle cx="1618.1" cy="517.9" r="3.35"/>
<circle cx="1636.9" cy="504.4" r="3.35"/>
<circle cx="1454.0" cy="505.0" r="3.35"/>
<circle cx="1669.8" cy="510.7" r="3.35"/>
<circle cx="1501.9" cy="503.6" r="3.35"/>
<circle cx="1525.1" cy="511.7" r="3.35"/>
<circle cx="1593.2" cy="510.1" r="3.35"/>
<circle cx="1651.3" cy="502.1" r="3.35"/>
<circle cx="1618.7" cy="517.7" r="3.35"/>
<circle cx="1534.7" cy="524.5" r="3.35"/>
<circle cx="1459.2" cy="501.1" r="3.35"/>
<circle cx="1606.5" cy="496.5" r="3.35"/>
<circle cx="1448.3" cy="504.9" r="3.35"/>
<circle cx="1643.0" cy="517.5" r="3.35"/>
<circle cx="1566.4" cy="530.4" r="3.35"/>
<circle cx="1649.3" cy="508.9" r="3.35"/>
<circle cx="1602.1" cy="500.7" r="3.35"/>
<circle cx="1518.6" cy="511.4" r="3.35"/>
<circle cx="1496.6" cy="501.1" r="3.35"/>
<circle cx="1576.9" cy="525.9" r="3.35"/>
<circle cx="1545.7" cy="526.4" r="3.35"/>
<circle cx="1592.9" cy="513.3" r="3.35"/>
<circle cx="1643.2" cy="520.7" r="3.35"/>
<circle cx="1512.7" cy="511.3" r="3.35"/>
<circle cx="1623.2" cy="518.1" r="3.35"/>
<circle cx="1443.6" cy="500.6" r="3.35"/>
<circle cx="1535.9" cy="516.6" r="3.35"/>
<circle cx="1652.5" cy="510.6" r="3.35"/>
<circle cx="1628.9" cy="520.4" r="3.35"/>
<circle cx="1600.9" cy="513.2" r="3.35"/>
<circle cx="1464.6" cy="515.5" r="3.35"/>
<circle cx="1654.5" cy="516.9" r="3.35"/>
<circle cx="1654.0" cy="516.6" r="3.35"/>
<circle cx="1576.0" cy="525.1" r="3.35"/>
<circle cx="1498.8" cy="524.3" r="3.35"/>
<circle cx="1455.4" cy="512.7" r="3.35"/>
<circle cx="1572.5" cy="526.8" r="3.35"/>
<circle cx="1519.1" cy="499.2" r="3.35"/>
<circle cx="1443.2" cy="505.5" r="3.35"/>
<circle cx="1588.1" cy="521.2" r="3.35"/>
<circle cx="1454.3" cy="511.6" r="3.35"/>
<circle cx="1528.2" cy="522.4" r="3.35"/>
<circle cx="1635.6" cy="515.4" r="3.35"/>
<circle cx="1542.3" cy="530.1" r="3.35"/>
<circle cx="1656.2" cy="517.5" r="3.35"/>
<circle cx="1485.6" cy="506.6" r="3.35"/>
<circle cx="1502.5" cy="524.9" r="3.35"/>
<circle cx="1549.0" cy="524.2" r="3.35"/>
<circle cx="1601.3" cy="501.7" r="3.35"/>
<circle cx="1449.6" cy="502.5" r="3.35"/>
<circle cx="1607.2" cy="506.1" r="3.35"/>
<circle cx="1596.6" cy="527.3" r="3.35"/>
<circle cx="1571.7" cy="528.4" r="3.35"/>
<circle cx="1649.3" cy="519.4" r="3.35"/>
<circle cx="1649.2" cy="502.1" r="3.35"/>
<circle cx="1494.6" cy="500.7" r="3.35"/>
<circle cx="1524.1" cy="502.5" r="3.35"/>
<circle cx="1502.7" cy="523.2" r="3.35"/>
<circle cx="1627.3" cy="502.5" r="3.35"/>
<circle cx="1644.8" cy="512.4" r="3.35"/>
<circle cx="1487.3" cy="522.0" r="3.35"/>
<circle cx="1654.2" cy="507.6" r="3.35"/>
<circle cx="1468.9" cy="510.6" r="3.35"/>
<circle cx="1473.5" cy="500.9" r="3.35"/>
<circle cx="1515.0" cy="524.5" r="3.35"/>
<circle cx="1534.1" cy="528.3" r="3.35"/>
<circle cx="1594.3" cy="528.5" r="3.35"/>
<circle cx="1440.7" cy="508.2" r="3.35"/>
<circle cx="1519.6" cy="516.9" r="3.35"/>
<circle cx="1590.6" cy="512.8" r="3.35"/>
<circle cx="1521.4" cy="501.2" r="3.35"/>
<circle cx="1626.0" cy="506.3" r="3.35"/>
<circle cx="1519.2" cy="516.5" r="3.35"/>
<circle cx="1487.7" cy="509.5" r="3.35"/>
<circle cx="1523.8" cy="526.6" r="3.35"/>
<circle cx="1534.0" cy="528.9" r="3.35"/>
<circle cx="1468.1" cy="504.9" r="3.35"/>
<circle cx="1620.8" cy="514.8" r="3.35"/>
<circle cx="1580.6" cy="521.4" r="3.35"/>
<circle cx="1478.2" cy="518.6" r="3.35"/>
<circle cx="1466.8" cy="508.5" r="3.35"/>
<circle cx="1602.1" cy="516.7" r="3.35"/>
<circle cx="1536.5" cy="520.2" r="3.35"/>
<circle cx="1590.0" cy="524.7" r="3.35"/>
<circle cx="1648.7" cy="515.6" r="3.35"/>
<circle cx="1511.3" cy="503.1" r="3.35"/>
<circle cx="1495.6" cy="511.5" r="3.35"/>
<circle cx="1525.2" cy="515.5" r="3.35"/>
<circle cx="1592.3" cy="519.6" r="3.35"/>
<circle cx="1527.4" cy="505.6" r="3.35"/>
<circle cx="1524.1" cy="512.1" r="3.35"/>
<circle cx="1622.7" cy="501.9" r="3.35"/>
<circle cx="1542.6" cy="519.2" r="3.35"/>
<circle cx="1479.0" cy="515.1" r="3.35"/>
<circle cx="1490.2" cy="518.1" r="3.35"/>
<circle cx="1465.2" cy="506.2" r="3.35"/>
<circle cx="1518.7" cy="520.6" r="3.35"/>
<circle cx="1533.3" cy="511.5" r="3.35"/>
<circle cx="1645.5" cy="518.6" r="3.35"/>
<circle cx="1530.0" cy="508.0" r="3.35"/>
<circle cx="1483.4" cy="518.2" r="3.35"/>
<circle cx="1513.6" cy="515.2" r="3.35"/>
<circle cx="1448.1" cy="509.4" r="3.35"/>
<circle cx="1600.4" cy="507.3" r="3.35"/>
<circle cx="1518.5" cy="514.3" r="3.35"/>
<circle cx="1469.9" cy="509.5" r="3.35"/>
<circle cx="1487.7" cy="506.1" r="3.35"/>
<circle cx="1598.8" cy="504.3" r="3.35"/>
<circle cx="1485.7" cy="500.8" r="3.35"/>
<circle cx="1538.9" cy="523.7" r="3.35"/>
<circle cx="1569.2" cy="528.6" r="3.35"/>
<circle cx="1449.7" cy="500.7" r="3.35"/>
<circle cx="1626.8" cy="502.2" r="3.35"/>
<circle cx="1496.0" cy="503.0" r="3.35"/>
<circle cx="1522.0" cy="500.9" r="3.35"/>
<circle cx="1455.5" cy="509.5" r="3.35"/>
<circle cx="1627.0" cy="510.8" r="3.35"/>
<circle cx="1551.3" cy="525.9" r="3.35"/>
<circle cx="1612.0" cy="517.1" r="3.35"/>
<circle cx="1467.5" cy="511.4" r="3.35"/>
<circle cx="1599.0" cy="522.8" r="3.35"/>
<circle cx="1550.4" cy="528.7" r="3.35"/>
</g>
<g fill="#006400" stroke="#006400" stroke-width="1.4" fill-opacity="0.6" stroke-opacity="0.68">
<circle cx="1448.0" cy="461.8" r="3.35"/>
<circle cx="1436.2" cy="436.2" r="3.35"/>
<circle cx="1446.3" cy="490.0" r="3.35"/>
<circle cx="1440.0" cy="489.2" r="3.35"/>
<circle cx="1459.7" cy="483.1" r="3.35"/>
<circle cx="1457.1" cy="463.0" r="3.35"/>
<circle cx="1441.5" cy="495.5" r="3.35"/>
<circle cx="1430.2" cy="474.2" r="3.35"/>
<circle cx="1423.2" cy="429.5" r="3.35"/>
<circle cx="1475.8" cy="433.6" r="3.35"/>
<circle cx="1466.8" cy="471.8" r="3.35"/>
<circle cx="1458.4" cy="459.3" r="3.35"/>
<circle cx="1470.1" cy="470.1" r="3.35"/>
<circle cx="1473.1" cy="483.1" r="3.35"/>
<circle cx="1463.0" cy="461.7" r="3.35"/>
<circle cx="1459.8" cy="453.3" r="3.35"/>
<circle cx="1452.5" cy="460.0" r="3.35"/>
<circle cx="1469.9" cy="432.1" r="3.35"/>
<circle cx="1493.2" cy="480.0" r="3.35"/>
<circle cx="1477.4" cy="466.9" r="3.35"/>
<circle cx="1429.5" cy="402.0" r="3.35"/>
<circle cx="1443.5" cy="461.8" r="3.35"/>
<circle cx="1441.2" cy="399.5" r="3.35"/>
<circle cx="1440.6" cy="465.4" r="3.35"/>
<circle cx="1469.3" cy="495.3" r="3.35"/>
<circle cx="1495.0" cy="464.8" r="3.35"/>
<circle cx="1484.6" cy="462.0" r="3.35"/>
<circle cx="1464.3" cy="457.8" r="3.35"/>
<circle cx="1473.2" cy="464.3" r="3.35"/>
<circle cx="1437.2" cy="473.7" r="3.35"/>
<circle cx="1493.1" cy="491.5" r="3.35"/>
<circle cx="1440.7" cy="482.7" r="3.35"/>
<circle cx="1505.1" cy="490.0" r="3.35"/>
<circle cx="1414.7" cy="467.3" r="3.35"/>
<circle cx="1486.2" cy="474.9" r="3.35"/>
<circle cx="1427.2" cy="451.1" r="3.35"/>
<circle cx="1337.8" cy="461.4" r="3.35"/>
<circle cx="1471.0" cy="463.3" r="3.35"/>
<circle cx="1497.3" cy="470.4" r="3.35"/>
<circle cx="1452.8" cy="471.7" r="3.35"/>
<circle cx="1497.8" cy="470.7" r="3.35"/>
<circle cx="1465.2" cy="439.8" r="3.35"/>
<circle cx="1418.1" cy="442.6" r="3.35"/>
<circle cx="1474.9" cy="495.2" r="3.35"/>
<circle cx="1466.8" cy="489.5" r="3.35"/>
<circle cx="1444.5" cy="450.8" r="3.35"/>
<circle cx="1467.2" cy="434.1" r="3.35"/>
<circle cx="1469.4" cy="460.7" r="3.35"/>
<circle cx="1453.7" cy="484.2" r="3.35"/>
<circle cx="1355.2" cy="461.6" r="3.35"/>
<circle cx="1397.5" cy="433.8" r="3.35"/>
<circle cx="1406.4" cy="468.1" r="3.35"/>
<circle cx="1471.5" cy="427.0" r="3.35"/>
<circle cx="1507.6" cy="485.5" r="3.35"/>
<circle cx="1445.0" cy="437.0" r="3.35"/>
<circle cx="1507.8" cy="488.9" r="3.35"/>
<circle cx="1475.3" cy="459.0" r="3.35"/>
<circle cx="1478.4" cy="454.2" r="3.35"/>
<circle cx="1450.7" cy="481.3" r="3.35"/>
<circle cx="1463.1" cy="475.5" r="3.35"/>
<circle cx="1454.6" cy="448.7" r="3.35"/>
<circle cx="1448.7" cy="443.6" r="3.35"/>
<circle cx="1483.3" cy="463.2" r="3.35"/>
<circle cx="1479.8" cy="491.1" r="3.35"/>
<circle cx="1445.5" cy="492.3" r="3.35"/>
<circle cx="1488.1" cy="488.9" r="3.35"/>
<circle cx="1479.4" cy="473.4" r="3.35"/>
<circle cx="1397.0" cy="413.0" r="3.35"/>
<circle cx="1480.4" cy="461.1" r="3.35"/>
<circle cx="1469.4" cy="438.8" r="3.35"/>
<circle cx="1446.1" cy="449.6" r="3.35"/>
<circle cx="1397.5" cy="364.2" r="3.35"/>
<circle cx="1468.3" cy="458.8" r="3.35"/>
<circle cx="1455.4" cy="478.6" r="3.35"/>
<circle cx="1502.4" cy="491.2" r="3.35"/>
<circle cx="1472.7" cy="496.1" r="3.35"/>
<circle cx="1450.7" cy="463.3" r="3.35"/>
<circle cx="1456.0" cy="478.1" r="3.35"/>
<circle cx="1380.5" cy="411.8" r="3.35"/>
<circle cx="1458.4" cy="485.7" r="3.35"/>
<circle cx="1444.0" cy="484.9" r="3.35"/>
<circle cx="1464.7" cy="487.2" r="3.35"/>
<circle cx="1482.1" cy="475.6" r="3.35"/>
<circle cx="1492.0" cy="489.3" r="3.35"/>
<circle cx="1433.8" cy="418.0" r="3.35"/>
<circle cx="1454.2" cy="461.7" r="3.35"/>
<circle cx="1458.0" cy="476.1" r="3.35"/>
<circle cx="1484.2" cy="432.0" r="3.35"/>
<circle cx="1458.4" cy="435.2" r="3.35"/>
<circle cx="1459.3" cy="464.8" r="3.35"/>
<circle cx="1460.2" cy="413.5" r="3.35"/>
<circle cx="1452.7" cy="464.1" r="3.35"/>
<circle cx="1503.5" cy="495.8" r="3.35"/>
<circle cx="1409.6" cy="460.4" r="3.35"/>
<circle cx="1404.1" cy="497.1" r="3.35"/>
<circle cx="1461.5" cy="468.6" r="3.35"/>
<circle cx="1483.6" cy="497.0" r="3.35"/>
<circle cx="1411.6" cy="497.1" r="3.35"/>
<circle cx="1490.5" cy="464.9" r="3.35"/>
<circle cx="1428.0" cy="430.0" r="3.35"/>
<circle cx="1462.2" cy="455.9" r="3.35"/>
<circle cx="1470.9" cy="488.0" r="3.35"/>
<circle cx="1449.2" cy="456.2" r="3.35"/>
<circle cx="1479.3" cy="440.8" r="3.35"/>
<circle cx="1466.2" cy="462.4" r="3.35"/>
<circle cx="1380.0" cy="437.0" r="3.35"/>
<circle cx="1509.2" cy="493.9" r="3.35"/>
<circle cx="1480.0" cy="445.8" r="3.35"/>
<circle cx="1495.0" cy="498.0" r="3.35"/>
<circle cx="1447.7" cy="474.8" r="3.35"/>
<circle cx="1443.2" cy="464.5" r="3.35"/>
<circle cx="1451.9" cy="442.6" r="3.35"/>
<circle cx="1467.2" cy="457.9" r="3.35"/>
<circle cx="1290.8" cy="428.0" r="3.35"/>
<circle cx="1429.2" cy="453.5" r="3.35"/>
<circle cx="1454.5" cy="406.3" r="3.35"/>
<circle cx="1453.7" cy="479.5" r="3.35"/>
<circle cx="1399.3" cy="466.9" r="3.35"/>
<circle cx="1480.8" cy="465.9" r="3.35"/>
<circle cx="1468.6" cy="488.2" r="3.35"/>
<circle cx="1463.7" cy="496.4" r="3.35"/>
<circle cx="1482.7" cy="465.8" r="3.35"/>
<circle cx="1445.6" cy="456.8" r="3.35"/>
<circle cx="1478.6" cy="463.9" r="3.35"/>
<circle cx="1415.1" cy="450.1" r="3.35"/>
<circle cx="1363.2" cy="457.1" r="3.35"/>
<circle cx="1449.0" cy="484.4" r="3.35"/>
<circle cx="1453.8" cy="452.2" r="3.35"/>
<circle cx="1468.1" cy="491.6" r="3.35"/>
<circle cx="1384.5" cy="418.2" r="3.35"/>
<circle cx="1435.0" cy="430.0" r="3.35"/>
<circle cx="1392.4" cy="455.8" r="3.35"/>
<circle cx="1401.0" cy="482.4" r="3.35"/>
<circle cx="1448.4" cy="464.9" r="3.35"/>
<circle cx="1449.5" cy="451.5" r="3.35"/>
<circle cx="1474.4" cy="420.7" r="3.35"/>
<circle cx="1219.5" cy="438.8" r="3.35"/>
<circle cx="1462.7" cy="437.5" r="3.35"/>
<circle cx="1479.3" cy="491.1" r="3.35"/>
<circle cx="1448.9" cy="480.1" r="3.35"/>
<circle cx="1496.4" cy="496.5" r="3.35"/>
<circle cx="1487.7" cy="485.7" r="3.35"/>
<circle cx="1454.0" cy="440.5" r="3.35"/>
<circle cx="1473.3" cy="476.3" r="3.35"/>
<circle cx="1491.0" cy="465.6" r="3.35"/>
<circle cx="1488.2" cy="494.3" r="3.35"/>
<circle cx="1455.5" cy="491.4" r="3.35"/>
<circle cx="1310.8" cy="416.0" r="3.35"/>
<circle cx="1468.8" cy="497.6" r="3.35"/>
<circle cx="1488.1" cy="473.0" r="3.35"/>
<circle cx="1399.3" cy="470.4" r="3.35"/>
<circle cx="1393.8" cy="411.8" r="3.35"/>
<circle cx="1472.8" cy="453.6" r="3.35"/>
<circle cx="1498.6" cy="486.6" r="3.35"/>
<circle cx="1470.7" cy="475.5" r="3.35"/>
<circle cx="1473.0" cy="498.2" r="3.35"/>
<circle cx="1441.2" cy="423.8" r="3.35"/>
<circle cx="1481.0" cy="452.1" r="3.35"/>
<circle cx="1513.1" cy="493.8" r="3.35"/>
<circle cx="1444.4" cy="471.9" r="3.35"/>
<circle cx="1398.8" cy="430.8" r="3.35"/>
<circle cx="1385.9" cy="469.9" r="3.35"/>
</g>
<g fill="#ff0000" stroke="#ff0000" stroke-width="1.4" fill-opacity="0.6" stroke-opacity="0.68">
<circle cx="1706.4" cy="424.1" r="3.35"/>
<circle cx="1666.0" cy="472.0" r="3.35"/>
<circle cx="1646.0" cy="467.9" r="3.35"/>
<circle cx="1735.7" cy="485.7" r="3.35"/>
<circle cx="1701.9" cy="474.6" r="3.35"/>
<circle cx="1628.9" cy="475.5" r="3.35"/>
<circle cx="1685.4" cy="470.1" r="3.35"/>
<circle cx="1651.2" cy="492.0" r="3.35"/>
<circle cx="1694.9" cy="461.8" r="3.35"/>
<circle cx="1630.0" cy="492.6" r="3.35"/>
<circle cx="1697.9" cy="468.7" r="3.35"/>
<circle cx="1689.8" cy="437.8" r="3.35"/>
<circle cx="1631.2" cy="479.3" r="3.35"/>
<circle cx="1642.2" cy="477.0" r="3.35"/>
<circle cx="1632.3" cy="477.6" r="3.35"/>
<circle cx="1628.4" cy="485.9" r="3.35"/>
<circle cx="1759.9" cy="489.2" r="3.35"/>
<circle cx="1780.6" cy="446.0" r="3.35"/>
<circle cx="1635.9" cy="453.4" r="3.35"/>
<circle cx="1670.1" cy="457.4" r="3.35"/>
<circle cx="1620.6" cy="480.0" r="3.35"/>
<circle cx="1650.5" cy="495.7" r="3.35"/>
<circle cx="1635.4" cy="464.3" r="3.35"/>
<circle cx="1639.4" cy="498.2" r="3.35"/>
<circle cx="1655.6" cy="467.6" r="3.35"/>
<circle cx="1663.8" cy="469.3" r="3.35"/>
<circle cx="1649.8" cy="495.6" r="3.35"/>
<circle cx="1688.4" cy="475.9" r="3.35"/>
<circle cx="1640.4" cy="472.9" r="3.35"/>
<circle cx="1656.0" cy="470.9" r="3.35"/>
<circle cx="1645.0" cy="484.4" r="3.35"/>
<circle cx="1620.2" cy="488.9" r="3.35"/>
<circle cx="1624.4" cy="484.8" r="3.35"/>
<circle cx="1656.6" cy="460.6" r="3.35"/>
<circle cx="1642.9" cy="471.4" r="3.35"/>
<circle cx="1683.3" cy="487.8" r="3.35"/>
<circle cx="1628.9" cy="474.1" r="3.35"/>
<circle cx="1649.4" cy="480.5" r="3.35"/>
<circle cx="1622.0" cy="479.2" r="3.35"/>
<circle cx="1613.7" cy="488.6" r="3.35"/>
<circle cx="1713.6" cy="436.9" r="3.35"/>
<circle cx="1679.2" cy="475.1" r="3.35"/>
<circle cx="1633.4" cy="469.7" r="3.35"/>
<circle cx="1646.7" cy="484.6" r="3.35"/>
<circle cx="1702.8" cy="491.7" r="3.35"/>
<circle cx="1657.9" cy="494.7" r="3.35"/>
<circle cx="1633.9" cy="475.7" r="3.35"/>
<circle cx="1640.6" cy="487.1" r="3.35"/>
<circle cx="1666.0" cy="472.6" r="3.35"/>
<circle cx="1669.7" cy="492.9" r="3.35"/>
<circle cx="1629.4" cy="477.7" r="3.35"/>
<circle cx="1644.7" cy="496.9" r="3.35"/>
<circle cx="1636.4" cy="464.0" r="3.35"/>
<circle cx="1635.7" cy="494.2" r="3.35"/>
<circle cx="1872.2" cy="454.0" r="3.35"/>
<circle cx="1649.5" cy="488.6" r="3.35"/>
<circle cx="1664.0" cy="498.7" r="3.35"/>
<circle cx="1618.3" cy="483.0" r="3.35"/>
<circle cx="1701.5" cy="411.7" r="3.35"/>
<circle cx="1645.2" cy="493.3" r="3.35"/>
<circle cx="1645.2" cy="482.6" r="3.35"/>
<circle cx="1642.3" cy="485.8" r="3.35"/>
<circle cx="1753.3" cy="466.2" r="3.35"/>
</g>
<g stroke="#1c1c1c" fill="none">
<line x1="1121.7" y1="38.0" x2="2003.4" y2="38.0" stroke-width="1.8"/>
<line x1="1121.7" y1="553.8" x2="2003.4" y2="553.8" stroke-width="2"/>
<line x1="1121.7" y1="38.0" x2="1121.7" y2="553.8" stroke-width="1.4"/>
<line x1="2003.4" y1="38.0" x2="2003.4" y2="553.8" stroke-width="1.8"/>
</g>
<g stroke="#5c5c5c" fill="none">
<line x1="1515.6" y1="553.8" x2="1515.6" y2="38.0" stroke-width="2.0" stroke-dasharray="17 7.29"/>
<line x1="1609.4" y1="553.8" x2="1609.4" y2="38.0" stroke-width="1.9" stroke-dasharray="17 7.29"/>
<line x1="1121.7" y1="500.3" x2="2003.4" y2="500.3" stroke-width="2.9" stroke-dasharray="16.8 7.4"/>
</g>
<g stroke="#262626">
<line x1="1114.2" y1="531.0" x2="1121.7" y2="531.0" stroke-width="1.8"/>
<line x1="1114.2" y1="413.8" x2="1121.7" y2="413.8" stroke-width="1.7"/>
<line x1="1114.2" y1="296.4" x2="1121.7" y2="296.4" stroke-width="2.6"/>
<line x1="1114.2" y1="178.4" x2="1121.7" y2="178.4" stroke-width="2.7"/>
<line x1="1114.2" y1="60.2" x2="1121.7" y2="60.2" stroke-width="2.6"/>
<line x1="1241.7" y1="553.8" x2="1241.7" y2="561.3" stroke-width="2"/>
<line x1="1402.1" y1="553.8" x2="1402.1" y2="561.3" stroke-width="2"/>
<line x1="1515.6" y1="553.8" x2="1515.6" y2="561.3" stroke-width="2.2"/>
<line x1="1562.5" y1="553.8" x2="1562.5" y2="561.3" stroke-width="2.8"/>
<line x1="1609.4" y1="553.8" x2="1609.4" y2="561.3" stroke-width="2"/>
<line x1="1722.9" y1="553.8" x2="1722.9" y2="561.3" stroke-width="2"/>
<line x1="1883.3" y1="553.8" x2="1883.3" y2="561.3" stroke-width="2.4"/>
</g>
<g font-family="'Liberation Serif', serif" font-weight="bold" font-size="22.7" fill="#000">
<text x="1104.4" y="539.8" text-anchor="end">0</text>
<text x="1104.4" y="422.6" text-anchor="end">5</text>
<text x="1104.4" y="305.1" text-anchor="end">10</text>
<text x="1104.4" y="187.2" text-anchor="end">15</text>
<text x="1104.4" y="69.0" text-anchor="end">20</text>
<text x="1236.7" y="582.3" text-anchor="middle">-4</text>
<text x="1397.1" y="582.3" text-anchor="middle">-2</text>
<text x="1510.6" y="582.3" text-anchor="middle">-0.585</text>
<text x="1557.5" y="582.3" text-anchor="middle">0</text>
<text x="1604.4" y="582.3" text-anchor="middle">0.585</text>
<text x="1717.9" y="582.3" text-anchor="middle">2</text>
<text x="1878.3" y="582.3" text-anchor="middle">4</text>
</g>
<text class="rg" x="1499.3" y="632.8" font-size="33" fill="#000">Log<tspan font-size="22.5" dy="4.5" dx="-0.2">2</tspan><tspan dy="-4.5" dx="-0.8"> (FC)</tspan></text>
<text class="rg" transform="translate(1060,393) rotate(-90)" font-size="32.5" fill="#000"><tspan x="-1.6" dy="2.2" font-size="39">−</tspan><tspan x="35.5" dy="-2.2">Log</tspan><tspan font-size="22.5" dy="5">10</tspan><tspan dy="-5"> (FDR)</tspan></text>
</g>
</svg></body></html>
